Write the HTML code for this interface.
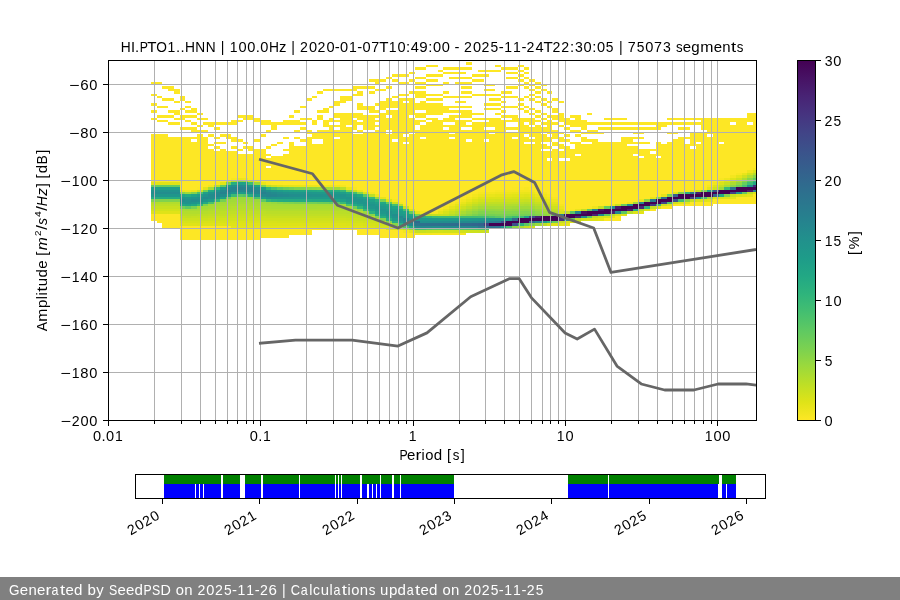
<!DOCTYPE html>
<html><head><meta charset="utf-8"><style>
html,body{margin:0;padding:0;background:#fff;}
svg{display:block;will-change:transform;}
text{font-family:"Liberation Sans",sans-serif;fill:#000;}
</style></head><body>
<svg width="900" height="600" viewBox="0 0 900 600">
<defs>
<clipPath id="axc"><rect x="108" y="60" width="648" height="360"/></clipPath>
<linearGradient id="cbg" x1="0" y1="1" x2="0" y2="0">
<stop offset="0.000" stop-color="#fde725"/>
<stop offset="0.050" stop-color="#dfe318"/>
<stop offset="0.100" stop-color="#bddf26"/>
<stop offset="0.150" stop-color="#9bd93c"/>
<stop offset="0.200" stop-color="#7ad151"/>
<stop offset="0.250" stop-color="#5ec962"/>
<stop offset="0.300" stop-color="#44bf70"/>
<stop offset="0.350" stop-color="#2fb47c"/>
<stop offset="0.400" stop-color="#22a884"/>
<stop offset="0.450" stop-color="#1e9c89"/>
<stop offset="0.500" stop-color="#21918c"/>
<stop offset="0.550" stop-color="#25848e"/>
<stop offset="0.600" stop-color="#2a788e"/>
<stop offset="0.650" stop-color="#2f6c8e"/>
<stop offset="0.700" stop-color="#355f8d"/>
<stop offset="0.750" stop-color="#3b528b"/>
<stop offset="0.800" stop-color="#414487"/>
<stop offset="0.850" stop-color="#463480"/>
<stop offset="0.900" stop-color="#482475"/>
<stop offset="0.950" stop-color="#471365"/>
<stop offset="1.000" stop-color="#440154"/>
</linearGradient>
</defs>
<rect width="900" height="600" fill="#fff"/>
<g clip-path="url(#axc)" shape-rendering="crispEdges">
<rect x="151.00" y="81.60" width="5.73" height="2.40" fill="#fde725"/>
<rect x="151.00" y="93.60" width="5.73" height="2.40" fill="#fde725"/>
<rect x="151.00" y="103.20" width="5.73" height="2.40" fill="#fde725"/>
<rect x="151.00" y="110.40" width="5.73" height="2.40" fill="#fde725"/>
<rect x="151.00" y="117.60" width="5.73" height="2.40" fill="#fde725"/>
<rect x="151.00" y="134.40" width="5.73" height="45.60" fill="#fde725"/>
<rect x="151.00" y="180.00" width="5.73" height="2.40" fill="#fbe723"/>
<rect x="151.00" y="182.40" width="5.73" height="2.40" fill="#dfe318"/>
<rect x="151.00" y="184.80" width="5.73" height="2.40" fill="#67cc5c"/>
<rect x="151.00" y="187.20" width="5.73" height="2.40" fill="#1fa088"/>
<rect x="151.00" y="189.60" width="5.73" height="2.40" fill="#20938c"/>
<rect x="151.00" y="192.00" width="5.73" height="2.40" fill="#228d8d"/>
<rect x="151.00" y="194.40" width="5.73" height="2.40" fill="#1f968b"/>
<rect x="151.00" y="196.80" width="5.73" height="2.40" fill="#25ab82"/>
<rect x="151.00" y="199.20" width="5.73" height="2.40" fill="#81d34d"/>
<rect x="151.00" y="201.60" width="5.73" height="2.40" fill="#b2dd2d"/>
<rect x="151.00" y="204.00" width="5.73" height="2.40" fill="#bddf26"/>
<rect x="151.00" y="206.40" width="5.73" height="2.40" fill="#c8e020"/>
<rect x="151.00" y="208.80" width="5.73" height="2.40" fill="#d2e21b"/>
<rect x="151.00" y="211.20" width="5.73" height="2.40" fill="#dfe318"/>
<rect x="151.00" y="213.60" width="5.73" height="7.20" fill="#fde725"/>
<rect x="156.73" y="81.60" width="5.73" height="2.40" fill="#fde725"/>
<rect x="156.73" y="96.00" width="5.73" height="2.40" fill="#fde725"/>
<rect x="156.73" y="105.60" width="5.73" height="2.40" fill="#fde725"/>
<rect x="156.73" y="115.20" width="5.73" height="2.40" fill="#fde725"/>
<rect x="156.73" y="120.00" width="5.73" height="2.40" fill="#fde725"/>
<rect x="156.73" y="134.40" width="5.73" height="45.60" fill="#fde725"/>
<rect x="156.73" y="180.00" width="5.73" height="2.40" fill="#fbe723"/>
<rect x="156.73" y="182.40" width="5.73" height="2.40" fill="#dfe318"/>
<rect x="156.73" y="184.80" width="5.73" height="2.40" fill="#67cc5c"/>
<rect x="156.73" y="187.20" width="5.73" height="2.40" fill="#1fa088"/>
<rect x="156.73" y="189.60" width="5.73" height="2.40" fill="#20938c"/>
<rect x="156.73" y="192.00" width="5.73" height="2.40" fill="#228d8d"/>
<rect x="156.73" y="194.40" width="5.73" height="2.40" fill="#1f968b"/>
<rect x="156.73" y="196.80" width="5.73" height="2.40" fill="#25ab82"/>
<rect x="156.73" y="199.20" width="5.73" height="2.40" fill="#81d34d"/>
<rect x="156.73" y="201.60" width="5.73" height="2.40" fill="#b2dd2d"/>
<rect x="156.73" y="204.00" width="5.73" height="2.40" fill="#bddf26"/>
<rect x="156.73" y="206.40" width="5.73" height="2.40" fill="#c8e020"/>
<rect x="156.73" y="208.80" width="5.73" height="2.40" fill="#d2e21b"/>
<rect x="156.73" y="211.20" width="5.73" height="2.40" fill="#dfe318"/>
<rect x="156.73" y="213.60" width="5.73" height="9.60" fill="#fde725"/>
<rect x="162.47" y="86.40" width="5.73" height="2.40" fill="#fde725"/>
<rect x="162.47" y="98.40" width="5.73" height="2.40" fill="#fde725"/>
<rect x="162.47" y="105.60" width="5.73" height="2.40" fill="#fde725"/>
<rect x="162.47" y="115.20" width="5.73" height="2.40" fill="#fde725"/>
<rect x="162.47" y="120.00" width="5.73" height="2.40" fill="#fde725"/>
<rect x="162.47" y="134.40" width="5.73" height="45.60" fill="#fde725"/>
<rect x="162.47" y="180.00" width="5.73" height="2.40" fill="#fbe723"/>
<rect x="162.47" y="182.40" width="5.73" height="2.40" fill="#dfe318"/>
<rect x="162.47" y="184.80" width="5.73" height="2.40" fill="#67cc5c"/>
<rect x="162.47" y="187.20" width="5.73" height="2.40" fill="#1fa088"/>
<rect x="162.47" y="189.60" width="5.73" height="2.40" fill="#20938c"/>
<rect x="162.47" y="192.00" width="5.73" height="2.40" fill="#228d8d"/>
<rect x="162.47" y="194.40" width="5.73" height="2.40" fill="#1f968b"/>
<rect x="162.47" y="196.80" width="5.73" height="2.40" fill="#25ab82"/>
<rect x="162.47" y="199.20" width="5.73" height="2.40" fill="#81d34d"/>
<rect x="162.47" y="201.60" width="5.73" height="2.40" fill="#b2dd2d"/>
<rect x="162.47" y="204.00" width="5.73" height="2.40" fill="#bddf26"/>
<rect x="162.47" y="206.40" width="5.73" height="2.40" fill="#c8e020"/>
<rect x="162.47" y="208.80" width="5.73" height="2.40" fill="#d2e21b"/>
<rect x="162.47" y="211.20" width="5.73" height="2.40" fill="#dfe318"/>
<rect x="162.47" y="213.60" width="5.73" height="14.40" fill="#fde725"/>
<rect x="168.20" y="86.40" width="5.73" height="4.80" fill="#fde725"/>
<rect x="168.20" y="98.40" width="5.73" height="2.40" fill="#fde725"/>
<rect x="168.20" y="110.40" width="5.73" height="2.40" fill="#fde725"/>
<rect x="168.20" y="115.20" width="5.73" height="2.40" fill="#fde725"/>
<rect x="168.20" y="122.40" width="5.73" height="2.40" fill="#fde725"/>
<rect x="168.20" y="136.80" width="5.73" height="43.20" fill="#fde725"/>
<rect x="168.20" y="180.00" width="5.73" height="2.40" fill="#fbe723"/>
<rect x="168.20" y="182.40" width="5.73" height="2.40" fill="#dfe318"/>
<rect x="168.20" y="184.80" width="5.73" height="2.40" fill="#67cc5c"/>
<rect x="168.20" y="187.20" width="5.73" height="2.40" fill="#1fa088"/>
<rect x="168.20" y="189.60" width="5.73" height="2.40" fill="#20938c"/>
<rect x="168.20" y="192.00" width="5.73" height="2.40" fill="#228d8d"/>
<rect x="168.20" y="194.40" width="5.73" height="2.40" fill="#1f968b"/>
<rect x="168.20" y="196.80" width="5.73" height="2.40" fill="#25ab82"/>
<rect x="168.20" y="199.20" width="5.73" height="2.40" fill="#81d34d"/>
<rect x="168.20" y="201.60" width="5.73" height="2.40" fill="#b2dd2d"/>
<rect x="168.20" y="204.00" width="5.73" height="2.40" fill="#bddf26"/>
<rect x="168.20" y="206.40" width="5.73" height="2.40" fill="#c8e020"/>
<rect x="168.20" y="208.80" width="5.73" height="2.40" fill="#d2e21b"/>
<rect x="168.20" y="211.20" width="5.73" height="2.40" fill="#dfe318"/>
<rect x="168.20" y="213.60" width="5.73" height="14.40" fill="#fde725"/>
<rect x="173.93" y="88.80" width="5.73" height="4.80" fill="#fde725"/>
<rect x="173.93" y="100.80" width="5.73" height="2.40" fill="#fde725"/>
<rect x="173.93" y="110.40" width="5.73" height="4.80" fill="#fde725"/>
<rect x="173.93" y="117.60" width="5.73" height="2.40" fill="#fde725"/>
<rect x="173.93" y="122.40" width="5.73" height="2.40" fill="#fde725"/>
<rect x="173.93" y="136.80" width="5.73" height="43.20" fill="#fde725"/>
<rect x="173.93" y="180.00" width="5.73" height="2.40" fill="#fbe723"/>
<rect x="173.93" y="182.40" width="5.73" height="2.40" fill="#dfe318"/>
<rect x="173.93" y="184.80" width="5.73" height="2.40" fill="#67cc5c"/>
<rect x="173.93" y="187.20" width="5.73" height="2.40" fill="#1fa088"/>
<rect x="173.93" y="189.60" width="5.73" height="2.40" fill="#20938c"/>
<rect x="173.93" y="192.00" width="5.73" height="2.40" fill="#228d8d"/>
<rect x="173.93" y="194.40" width="5.73" height="2.40" fill="#1f968b"/>
<rect x="173.93" y="196.80" width="5.73" height="2.40" fill="#25ab82"/>
<rect x="173.93" y="199.20" width="5.73" height="2.40" fill="#81d34d"/>
<rect x="173.93" y="201.60" width="5.73" height="2.40" fill="#b2dd2d"/>
<rect x="173.93" y="204.00" width="5.73" height="2.40" fill="#bddf26"/>
<rect x="173.93" y="206.40" width="5.73" height="2.40" fill="#c8e020"/>
<rect x="173.93" y="208.80" width="5.73" height="2.40" fill="#d2e21b"/>
<rect x="173.93" y="211.20" width="5.73" height="2.40" fill="#dfe318"/>
<rect x="173.93" y="213.60" width="5.73" height="14.40" fill="#fde725"/>
<rect x="179.67" y="96.00" width="5.73" height="4.80" fill="#fde725"/>
<rect x="179.67" y="108.00" width="5.73" height="2.40" fill="#fde725"/>
<rect x="179.67" y="115.20" width="5.73" height="4.80" fill="#fde725"/>
<rect x="179.67" y="127.20" width="5.73" height="2.40" fill="#fde725"/>
<rect x="179.67" y="136.80" width="5.73" height="52.80" fill="#fde725"/>
<rect x="179.67" y="189.60" width="5.73" height="2.40" fill="#ece51b"/>
<rect x="179.67" y="192.00" width="5.73" height="2.40" fill="#89d548"/>
<rect x="179.67" y="194.40" width="5.73" height="2.40" fill="#21a685"/>
<rect x="179.67" y="196.80" width="5.73" height="2.40" fill="#1f958b"/>
<rect x="179.67" y="199.20" width="5.73" height="2.40" fill="#228c8d"/>
<rect x="179.67" y="201.60" width="5.73" height="2.40" fill="#1f948c"/>
<rect x="179.67" y="204.00" width="5.73" height="2.40" fill="#21a685"/>
<rect x="179.67" y="206.40" width="5.73" height="2.40" fill="#70cf57"/>
<rect x="179.67" y="208.80" width="5.73" height="2.40" fill="#aadc32"/>
<rect x="179.67" y="211.20" width="5.73" height="2.40" fill="#b2dd2d"/>
<rect x="179.67" y="213.60" width="5.73" height="2.40" fill="#bade28"/>
<rect x="179.67" y="216.00" width="5.73" height="2.40" fill="#c5e021"/>
<rect x="179.67" y="218.40" width="5.73" height="2.40" fill="#cde11d"/>
<rect x="179.67" y="220.80" width="5.73" height="2.40" fill="#d8e219"/>
<rect x="179.67" y="223.20" width="5.73" height="2.40" fill="#dfe318"/>
<rect x="179.67" y="225.60" width="5.73" height="14.40" fill="#fde725"/>
<rect x="185.40" y="100.80" width="5.73" height="2.40" fill="#fde725"/>
<rect x="185.40" y="105.60" width="5.73" height="2.40" fill="#fde725"/>
<rect x="185.40" y="110.40" width="5.73" height="2.40" fill="#fde725"/>
<rect x="185.40" y="115.20" width="5.73" height="2.40" fill="#fde725"/>
<rect x="185.40" y="120.00" width="5.73" height="2.40" fill="#fde725"/>
<rect x="185.40" y="127.20" width="5.73" height="2.40" fill="#fde725"/>
<rect x="185.40" y="136.80" width="5.73" height="52.80" fill="#fde725"/>
<rect x="185.40" y="189.60" width="5.73" height="2.40" fill="#f1e51d"/>
<rect x="185.40" y="192.00" width="5.73" height="2.40" fill="#a0da39"/>
<rect x="185.40" y="194.40" width="5.73" height="2.40" fill="#25ac82"/>
<rect x="185.40" y="196.80" width="5.73" height="2.40" fill="#1f978b"/>
<rect x="185.40" y="199.20" width="5.73" height="2.40" fill="#21918c"/>
<rect x="185.40" y="201.60" width="5.73" height="2.40" fill="#20928c"/>
<rect x="185.40" y="204.00" width="5.73" height="2.40" fill="#1fa187"/>
<rect x="185.40" y="206.40" width="5.73" height="2.40" fill="#5ec962"/>
<rect x="185.40" y="208.80" width="5.73" height="2.40" fill="#a8db34"/>
<rect x="185.40" y="211.20" width="5.73" height="2.40" fill="#b2dd2d"/>
<rect x="185.40" y="213.60" width="5.73" height="2.40" fill="#bade28"/>
<rect x="185.40" y="216.00" width="5.73" height="2.40" fill="#c2df23"/>
<rect x="185.40" y="218.40" width="5.73" height="2.40" fill="#cde11d"/>
<rect x="185.40" y="220.80" width="5.73" height="2.40" fill="#d5e21a"/>
<rect x="185.40" y="223.20" width="5.73" height="2.40" fill="#dfe318"/>
<rect x="185.40" y="225.60" width="5.73" height="14.40" fill="#fde725"/>
<rect x="191.13" y="108.00" width="5.73" height="4.80" fill="#fde725"/>
<rect x="191.13" y="115.20" width="5.73" height="2.40" fill="#fde725"/>
<rect x="191.13" y="122.40" width="5.73" height="2.40" fill="#fde725"/>
<rect x="191.13" y="127.20" width="5.73" height="4.80" fill="#fde725"/>
<rect x="191.13" y="136.80" width="5.73" height="2.40" fill="#fde725"/>
<rect x="191.13" y="141.60" width="5.73" height="48.00" fill="#fde725"/>
<rect x="191.13" y="189.60" width="5.73" height="2.40" fill="#eae51a"/>
<rect x="191.13" y="192.00" width="5.73" height="2.40" fill="#81d34d"/>
<rect x="191.13" y="194.40" width="5.73" height="2.40" fill="#20a486"/>
<rect x="191.13" y="196.80" width="5.73" height="2.40" fill="#1f948c"/>
<rect x="191.13" y="199.20" width="5.73" height="2.40" fill="#228c8d"/>
<rect x="191.13" y="201.60" width="5.73" height="2.40" fill="#1f958b"/>
<rect x="191.13" y="204.00" width="5.73" height="2.40" fill="#22a884"/>
<rect x="191.13" y="206.40" width="5.73" height="2.40" fill="#77d153"/>
<rect x="191.13" y="208.80" width="5.73" height="2.40" fill="#a8db34"/>
<rect x="191.13" y="211.20" width="5.73" height="2.40" fill="#b2dd2d"/>
<rect x="191.13" y="213.60" width="5.73" height="2.40" fill="#bade28"/>
<rect x="191.13" y="216.00" width="5.73" height="2.40" fill="#c5e021"/>
<rect x="191.13" y="218.40" width="5.73" height="2.40" fill="#cde11d"/>
<rect x="191.13" y="220.80" width="5.73" height="2.40" fill="#d5e21a"/>
<rect x="191.13" y="223.20" width="5.73" height="2.40" fill="#dfe318"/>
<rect x="191.13" y="225.60" width="5.73" height="14.40" fill="#fde725"/>
<rect x="196.87" y="112.80" width="5.73" height="2.40" fill="#fde725"/>
<rect x="196.87" y="117.60" width="5.73" height="2.40" fill="#fde725"/>
<rect x="196.87" y="124.80" width="5.73" height="2.40" fill="#fde725"/>
<rect x="196.87" y="129.60" width="5.73" height="2.40" fill="#fde725"/>
<rect x="196.87" y="134.40" width="5.73" height="52.80" fill="#fde725"/>
<rect x="196.87" y="187.20" width="5.73" height="2.40" fill="#fbe723"/>
<rect x="196.87" y="189.60" width="5.73" height="2.40" fill="#cde11d"/>
<rect x="196.87" y="192.00" width="5.73" height="2.40" fill="#48c16e"/>
<rect x="196.87" y="194.40" width="5.73" height="2.40" fill="#1f9e89"/>
<rect x="196.87" y="196.80" width="5.73" height="2.40" fill="#20928c"/>
<rect x="196.87" y="199.20" width="5.73" height="2.40" fill="#218e8d"/>
<rect x="196.87" y="201.60" width="5.73" height="2.40" fill="#1e9b8a"/>
<rect x="196.87" y="204.00" width="5.73" height="2.40" fill="#37b878"/>
<rect x="196.87" y="206.40" width="5.73" height="2.40" fill="#a2da37"/>
<rect x="196.87" y="208.80" width="5.73" height="2.40" fill="#aadc32"/>
<rect x="196.87" y="211.20" width="5.73" height="2.40" fill="#b2dd2d"/>
<rect x="196.87" y="213.60" width="5.73" height="2.40" fill="#bddf26"/>
<rect x="196.87" y="216.00" width="5.73" height="2.40" fill="#c5e021"/>
<rect x="196.87" y="218.40" width="5.73" height="2.40" fill="#cde11d"/>
<rect x="196.87" y="220.80" width="5.73" height="2.40" fill="#d5e21a"/>
<rect x="196.87" y="223.20" width="5.73" height="2.40" fill="#dde318"/>
<rect x="196.87" y="225.60" width="5.73" height="14.40" fill="#fde725"/>
<rect x="202.60" y="117.60" width="5.73" height="2.40" fill="#fde725"/>
<rect x="202.60" y="122.40" width="5.73" height="2.40" fill="#fde725"/>
<rect x="202.60" y="129.60" width="5.73" height="2.40" fill="#fde725"/>
<rect x="202.60" y="136.80" width="5.73" height="50.40" fill="#fde725"/>
<rect x="202.60" y="187.20" width="5.73" height="2.40" fill="#e2e418"/>
<rect x="202.60" y="189.60" width="5.73" height="2.40" fill="#6ece58"/>
<rect x="202.60" y="192.00" width="5.73" height="2.40" fill="#1fa088"/>
<rect x="202.60" y="194.40" width="5.73" height="2.40" fill="#20928c"/>
<rect x="202.60" y="196.80" width="5.73" height="2.40" fill="#228b8d"/>
<rect x="202.60" y="199.20" width="5.73" height="2.40" fill="#1f958b"/>
<rect x="202.60" y="201.60" width="5.73" height="2.40" fill="#24aa83"/>
<rect x="202.60" y="204.00" width="5.73" height="2.40" fill="#7fd34e"/>
<rect x="202.60" y="206.40" width="5.73" height="2.40" fill="#a5db36"/>
<rect x="202.60" y="208.80" width="5.73" height="2.40" fill="#addc30"/>
<rect x="202.60" y="211.20" width="5.73" height="2.40" fill="#b5de2b"/>
<rect x="202.60" y="213.60" width="5.73" height="2.40" fill="#bddf26"/>
<rect x="202.60" y="216.00" width="5.73" height="2.40" fill="#c5e021"/>
<rect x="202.60" y="218.40" width="5.73" height="2.40" fill="#cde11d"/>
<rect x="202.60" y="220.80" width="5.73" height="2.40" fill="#d8e219"/>
<rect x="202.60" y="223.20" width="5.73" height="2.40" fill="#dfe318"/>
<rect x="202.60" y="225.60" width="5.73" height="14.40" fill="#fde725"/>
<rect x="208.34" y="122.40" width="5.73" height="4.80" fill="#fde725"/>
<rect x="208.34" y="134.40" width="5.73" height="2.40" fill="#fde725"/>
<rect x="208.34" y="144.00" width="5.73" height="2.40" fill="#fde725"/>
<rect x="208.34" y="148.80" width="5.73" height="36.00" fill="#fde725"/>
<rect x="208.34" y="184.80" width="5.73" height="2.40" fill="#f4e61e"/>
<rect x="208.34" y="187.20" width="5.73" height="2.40" fill="#a5db36"/>
<rect x="208.34" y="189.60" width="5.73" height="2.40" fill="#25ac82"/>
<rect x="208.34" y="192.00" width="5.73" height="2.40" fill="#1f948c"/>
<rect x="208.34" y="194.40" width="5.73" height="2.40" fill="#228c8d"/>
<rect x="208.34" y="196.80" width="5.73" height="2.40" fill="#228d8d"/>
<rect x="208.34" y="199.20" width="5.73" height="2.40" fill="#1e9b8a"/>
<rect x="208.34" y="201.60" width="5.73" height="2.40" fill="#4ac16d"/>
<rect x="208.34" y="204.00" width="5.73" height="2.40" fill="#a2da37"/>
<rect x="208.34" y="206.40" width="5.73" height="2.40" fill="#a8db34"/>
<rect x="208.34" y="208.80" width="5.73" height="2.40" fill="#b0dd2f"/>
<rect x="208.34" y="211.20" width="5.73" height="2.40" fill="#b8de29"/>
<rect x="208.34" y="213.60" width="5.73" height="2.40" fill="#c0df25"/>
<rect x="208.34" y="216.00" width="5.73" height="2.40" fill="#c8e020"/>
<rect x="208.34" y="218.40" width="5.73" height="2.40" fill="#d0e11c"/>
<rect x="208.34" y="220.80" width="5.73" height="2.40" fill="#d8e219"/>
<rect x="208.34" y="223.20" width="5.73" height="2.40" fill="#dfe318"/>
<rect x="208.34" y="225.60" width="5.73" height="14.40" fill="#fde725"/>
<rect x="214.07" y="122.40" width="5.73" height="2.40" fill="#fde725"/>
<rect x="214.07" y="127.20" width="5.73" height="2.40" fill="#fde725"/>
<rect x="214.07" y="136.80" width="5.73" height="2.40" fill="#fde725"/>
<rect x="214.07" y="141.60" width="5.73" height="2.40" fill="#fde725"/>
<rect x="214.07" y="146.40" width="5.73" height="2.40" fill="#fde725"/>
<rect x="214.07" y="151.20" width="5.73" height="31.20" fill="#fde725"/>
<rect x="214.07" y="182.40" width="5.73" height="2.40" fill="#f8e621"/>
<rect x="214.07" y="184.80" width="5.73" height="2.40" fill="#bade28"/>
<rect x="214.07" y="187.20" width="5.73" height="2.40" fill="#31b57b"/>
<rect x="214.07" y="189.60" width="5.73" height="2.40" fill="#1f948c"/>
<rect x="214.07" y="192.00" width="5.73" height="2.40" fill="#23898e"/>
<rect x="214.07" y="194.40" width="5.73" height="2.40" fill="#24878e"/>
<rect x="214.07" y="196.80" width="5.73" height="2.40" fill="#1f948c"/>
<rect x="214.07" y="199.20" width="5.73" height="2.40" fill="#34b679"/>
<rect x="214.07" y="201.60" width="5.73" height="2.40" fill="#9dd93b"/>
<rect x="214.07" y="204.00" width="5.73" height="2.40" fill="#a5db36"/>
<rect x="214.07" y="206.40" width="5.73" height="2.40" fill="#addc30"/>
<rect x="214.07" y="208.80" width="5.73" height="2.40" fill="#b5de2b"/>
<rect x="214.07" y="211.20" width="5.73" height="2.40" fill="#bade28"/>
<rect x="214.07" y="213.60" width="5.73" height="2.40" fill="#c2df23"/>
<rect x="214.07" y="216.00" width="5.73" height="2.40" fill="#cae11f"/>
<rect x="214.07" y="218.40" width="5.73" height="2.40" fill="#d0e11c"/>
<rect x="214.07" y="220.80" width="5.73" height="2.40" fill="#d8e219"/>
<rect x="214.07" y="223.20" width="5.73" height="2.40" fill="#dfe318"/>
<rect x="214.07" y="225.60" width="5.73" height="14.40" fill="#fde725"/>
<rect x="219.80" y="122.40" width="5.73" height="2.40" fill="#fde725"/>
<rect x="219.80" y="134.40" width="5.73" height="2.40" fill="#fde725"/>
<rect x="219.80" y="141.60" width="5.73" height="2.40" fill="#fde725"/>
<rect x="219.80" y="148.80" width="5.73" height="33.60" fill="#fde725"/>
<rect x="219.80" y="182.40" width="5.73" height="2.40" fill="#e2e418"/>
<rect x="219.80" y="184.80" width="5.73" height="2.40" fill="#67cc5c"/>
<rect x="219.80" y="187.20" width="5.73" height="2.40" fill="#1f988b"/>
<rect x="219.80" y="189.60" width="5.73" height="2.40" fill="#23898e"/>
<rect x="219.80" y="192.00" width="5.73" height="2.40" fill="#26828e"/>
<rect x="219.80" y="194.40" width="5.73" height="2.40" fill="#228c8d"/>
<rect x="219.80" y="196.80" width="5.73" height="2.40" fill="#1fa287"/>
<rect x="219.80" y="199.20" width="5.73" height="2.40" fill="#75d054"/>
<rect x="219.80" y="201.60" width="5.73" height="2.40" fill="#a2da37"/>
<rect x="219.80" y="204.00" width="5.73" height="2.40" fill="#a8db34"/>
<rect x="219.80" y="206.40" width="5.73" height="2.40" fill="#b0dd2f"/>
<rect x="219.80" y="208.80" width="5.73" height="2.40" fill="#b5de2b"/>
<rect x="219.80" y="211.20" width="5.73" height="2.40" fill="#bddf26"/>
<rect x="219.80" y="213.60" width="5.73" height="2.40" fill="#c2df23"/>
<rect x="219.80" y="216.00" width="5.73" height="2.40" fill="#cae11f"/>
<rect x="219.80" y="218.40" width="5.73" height="2.40" fill="#d2e21b"/>
<rect x="219.80" y="220.80" width="5.73" height="2.40" fill="#d8e219"/>
<rect x="219.80" y="223.20" width="5.73" height="2.40" fill="#dfe318"/>
<rect x="219.80" y="225.60" width="5.73" height="14.40" fill="#fde725"/>
<rect x="225.54" y="122.40" width="5.73" height="2.40" fill="#fde725"/>
<rect x="225.54" y="134.40" width="5.73" height="4.80" fill="#fde725"/>
<rect x="225.54" y="151.20" width="5.73" height="28.80" fill="#fde725"/>
<rect x="225.54" y="180.00" width="5.73" height="2.40" fill="#e7e419"/>
<rect x="225.54" y="182.40" width="5.73" height="2.40" fill="#73d056"/>
<rect x="225.54" y="184.80" width="5.73" height="2.40" fill="#1f9a8a"/>
<rect x="225.54" y="187.20" width="5.73" height="2.40" fill="#23898e"/>
<rect x="225.54" y="189.60" width="5.73" height="2.40" fill="#26818e"/>
<rect x="225.54" y="192.00" width="5.73" height="2.40" fill="#238a8d"/>
<rect x="225.54" y="194.40" width="5.73" height="2.40" fill="#1f9f88"/>
<rect x="225.54" y="196.80" width="5.73" height="2.40" fill="#6ccd5a"/>
<rect x="225.54" y="199.20" width="5.73" height="2.40" fill="#a0da39"/>
<rect x="225.54" y="201.60" width="5.73" height="2.40" fill="#a5db36"/>
<rect x="225.54" y="204.00" width="5.73" height="2.40" fill="#addc30"/>
<rect x="225.54" y="206.40" width="5.73" height="2.40" fill="#b2dd2d"/>
<rect x="225.54" y="208.80" width="5.73" height="2.40" fill="#b8de29"/>
<rect x="225.54" y="211.20" width="5.73" height="2.40" fill="#c0df25"/>
<rect x="225.54" y="213.60" width="5.73" height="2.40" fill="#c5e021"/>
<rect x="225.54" y="216.00" width="5.73" height="2.40" fill="#cde11d"/>
<rect x="225.54" y="218.40" width="5.73" height="2.40" fill="#d2e21b"/>
<rect x="225.54" y="220.80" width="5.73" height="2.40" fill="#d8e219"/>
<rect x="225.54" y="223.20" width="5.73" height="2.40" fill="#dfe318"/>
<rect x="225.54" y="225.60" width="5.73" height="14.40" fill="#fde725"/>
<rect x="231.27" y="120.00" width="5.73" height="4.80" fill="#fde725"/>
<rect x="231.27" y="136.80" width="5.73" height="4.80" fill="#fde725"/>
<rect x="231.27" y="146.40" width="5.73" height="2.40" fill="#fde725"/>
<rect x="231.27" y="151.20" width="5.73" height="26.40" fill="#fde725"/>
<rect x="231.27" y="177.60" width="5.73" height="2.40" fill="#f6e620"/>
<rect x="231.27" y="180.00" width="5.73" height="2.40" fill="#b2dd2d"/>
<rect x="231.27" y="182.40" width="5.73" height="2.40" fill="#28ae80"/>
<rect x="231.27" y="184.80" width="5.73" height="2.40" fill="#218f8d"/>
<rect x="231.27" y="187.20" width="5.73" height="4.80" fill="#25848e"/>
<rect x="231.27" y="192.00" width="5.73" height="2.40" fill="#20928c"/>
<rect x="231.27" y="194.40" width="5.73" height="2.40" fill="#3bbb75"/>
<rect x="231.27" y="196.80" width="5.73" height="2.40" fill="#9bd93c"/>
<rect x="231.27" y="199.20" width="5.73" height="2.40" fill="#a2da37"/>
<rect x="231.27" y="201.60" width="5.73" height="2.40" fill="#a8db34"/>
<rect x="231.27" y="204.00" width="5.73" height="2.40" fill="#addc30"/>
<rect x="231.27" y="206.40" width="5.73" height="2.40" fill="#b5de2b"/>
<rect x="231.27" y="208.80" width="5.73" height="2.40" fill="#bade28"/>
<rect x="231.27" y="211.20" width="5.73" height="2.40" fill="#c0df25"/>
<rect x="231.27" y="213.60" width="5.73" height="2.40" fill="#c8e020"/>
<rect x="231.27" y="216.00" width="5.73" height="2.40" fill="#cde11d"/>
<rect x="231.27" y="218.40" width="5.73" height="2.40" fill="#d2e21b"/>
<rect x="231.27" y="220.80" width="5.73" height="2.40" fill="#dae319"/>
<rect x="231.27" y="223.20" width="5.73" height="2.40" fill="#dfe318"/>
<rect x="231.27" y="225.60" width="5.73" height="2.40" fill="#e5e419"/>
<rect x="231.27" y="228.00" width="5.73" height="12.00" fill="#fde725"/>
<rect x="237.00" y="115.20" width="5.73" height="2.40" fill="#fde725"/>
<rect x="237.00" y="120.00" width="5.73" height="2.40" fill="#fde725"/>
<rect x="237.00" y="139.20" width="5.73" height="2.40" fill="#fde725"/>
<rect x="237.00" y="148.80" width="5.73" height="2.40" fill="#fde725"/>
<rect x="237.00" y="153.60" width="5.73" height="24.00" fill="#fde725"/>
<rect x="237.00" y="177.60" width="5.73" height="2.40" fill="#ece51b"/>
<rect x="237.00" y="180.00" width="5.73" height="2.40" fill="#89d548"/>
<rect x="237.00" y="182.40" width="5.73" height="2.40" fill="#1f9f88"/>
<rect x="237.00" y="184.80" width="5.73" height="2.40" fill="#228b8d"/>
<rect x="237.00" y="187.20" width="5.73" height="2.40" fill="#27808e"/>
<rect x="237.00" y="189.60" width="5.73" height="2.40" fill="#23888e"/>
<rect x="237.00" y="192.00" width="5.73" height="2.40" fill="#1f9a8a"/>
<rect x="237.00" y="194.40" width="5.73" height="2.40" fill="#5cc863"/>
<rect x="237.00" y="196.80" width="5.73" height="2.40" fill="#9dd93b"/>
<rect x="237.00" y="199.20" width="5.73" height="2.40" fill="#a2da37"/>
<rect x="237.00" y="201.60" width="5.73" height="2.40" fill="#a8db34"/>
<rect x="237.00" y="204.00" width="5.73" height="2.40" fill="#b0dd2f"/>
<rect x="237.00" y="206.40" width="5.73" height="2.40" fill="#b5de2b"/>
<rect x="237.00" y="208.80" width="5.73" height="2.40" fill="#bade28"/>
<rect x="237.00" y="211.20" width="5.73" height="2.40" fill="#c2df23"/>
<rect x="237.00" y="213.60" width="5.73" height="2.40" fill="#c8e020"/>
<rect x="237.00" y="216.00" width="5.73" height="2.40" fill="#cde11d"/>
<rect x="237.00" y="218.40" width="5.73" height="2.40" fill="#d2e21b"/>
<rect x="237.00" y="220.80" width="5.73" height="2.40" fill="#dae319"/>
<rect x="237.00" y="223.20" width="5.73" height="2.40" fill="#dfe318"/>
<rect x="237.00" y="225.60" width="5.73" height="2.40" fill="#e5e419"/>
<rect x="237.00" y="228.00" width="5.73" height="12.00" fill="#fde725"/>
<rect x="242.74" y="115.20" width="5.73" height="4.80" fill="#fde725"/>
<rect x="242.74" y="141.60" width="5.73" height="2.40" fill="#fde725"/>
<rect x="242.74" y="146.40" width="5.73" height="2.40" fill="#fde725"/>
<rect x="242.74" y="153.60" width="5.73" height="24.00" fill="#fde725"/>
<rect x="242.74" y="177.60" width="5.73" height="2.40" fill="#efe51c"/>
<rect x="242.74" y="180.00" width="5.73" height="2.40" fill="#93d741"/>
<rect x="242.74" y="182.40" width="5.73" height="2.40" fill="#1fa287"/>
<rect x="242.74" y="184.80" width="5.73" height="2.40" fill="#228c8d"/>
<rect x="242.74" y="187.20" width="5.73" height="2.40" fill="#25848e"/>
<rect x="242.74" y="189.60" width="5.73" height="2.40" fill="#24878e"/>
<rect x="242.74" y="192.00" width="5.73" height="2.40" fill="#1f988b"/>
<rect x="242.74" y="194.40" width="5.73" height="2.40" fill="#52c569"/>
<rect x="242.74" y="196.80" width="5.73" height="2.40" fill="#9dd93b"/>
<rect x="242.74" y="199.20" width="5.73" height="2.40" fill="#a2da37"/>
<rect x="242.74" y="201.60" width="5.73" height="2.40" fill="#a8db34"/>
<rect x="242.74" y="204.00" width="5.73" height="2.40" fill="#b0dd2f"/>
<rect x="242.74" y="206.40" width="5.73" height="2.40" fill="#b5de2b"/>
<rect x="242.74" y="208.80" width="5.73" height="2.40" fill="#bade28"/>
<rect x="242.74" y="211.20" width="5.73" height="2.40" fill="#c0df25"/>
<rect x="242.74" y="213.60" width="5.73" height="2.40" fill="#c8e020"/>
<rect x="242.74" y="216.00" width="5.73" height="2.40" fill="#cde11d"/>
<rect x="242.74" y="218.40" width="5.73" height="2.40" fill="#d2e21b"/>
<rect x="242.74" y="220.80" width="5.73" height="2.40" fill="#dae319"/>
<rect x="242.74" y="223.20" width="5.73" height="2.40" fill="#dfe318"/>
<rect x="242.74" y="225.60" width="5.73" height="2.40" fill="#e5e419"/>
<rect x="242.74" y="228.00" width="5.73" height="12.00" fill="#fde725"/>
<rect x="248.47" y="115.20" width="5.73" height="4.80" fill="#fde725"/>
<rect x="248.47" y="146.40" width="5.73" height="4.80" fill="#fde725"/>
<rect x="248.47" y="153.60" width="5.73" height="24.00" fill="#fde725"/>
<rect x="248.47" y="177.60" width="5.73" height="2.40" fill="#fbe723"/>
<rect x="248.47" y="180.00" width="5.73" height="2.40" fill="#cde11d"/>
<rect x="248.47" y="182.40" width="5.73" height="2.40" fill="#40bd72"/>
<rect x="248.47" y="184.80" width="5.73" height="2.40" fill="#20938c"/>
<rect x="248.47" y="187.20" width="5.73" height="2.40" fill="#25858e"/>
<rect x="248.47" y="189.60" width="5.73" height="2.40" fill="#26828e"/>
<rect x="248.47" y="192.00" width="5.73" height="2.40" fill="#21918c"/>
<rect x="248.47" y="194.40" width="5.73" height="2.40" fill="#28ae80"/>
<rect x="248.47" y="196.80" width="5.73" height="2.40" fill="#95d840"/>
<rect x="248.47" y="199.20" width="5.73" height="2.40" fill="#a0da39"/>
<rect x="248.47" y="201.60" width="5.73" height="2.40" fill="#a8db34"/>
<rect x="248.47" y="204.00" width="5.73" height="2.40" fill="#addc30"/>
<rect x="248.47" y="206.40" width="5.73" height="2.40" fill="#b2dd2d"/>
<rect x="248.47" y="208.80" width="5.73" height="2.40" fill="#bade28"/>
<rect x="248.47" y="211.20" width="5.73" height="2.40" fill="#c0df25"/>
<rect x="248.47" y="213.60" width="5.73" height="2.40" fill="#c5e021"/>
<rect x="248.47" y="216.00" width="5.73" height="2.40" fill="#cde11d"/>
<rect x="248.47" y="218.40" width="5.73" height="2.40" fill="#d2e21b"/>
<rect x="248.47" y="220.80" width="5.73" height="2.40" fill="#d8e219"/>
<rect x="248.47" y="223.20" width="5.73" height="2.40" fill="#dfe318"/>
<rect x="248.47" y="225.60" width="5.73" height="2.40" fill="#e5e419"/>
<rect x="248.47" y="228.00" width="5.73" height="12.00" fill="#fde725"/>
<rect x="254.20" y="117.60" width="5.73" height="4.80" fill="#fde725"/>
<rect x="254.20" y="139.20" width="5.73" height="2.40" fill="#fde725"/>
<rect x="254.20" y="148.80" width="5.73" height="31.20" fill="#fde725"/>
<rect x="254.20" y="180.00" width="5.73" height="2.40" fill="#f1e51d"/>
<rect x="254.20" y="182.40" width="5.73" height="2.40" fill="#9dd93b"/>
<rect x="254.20" y="184.80" width="5.73" height="2.40" fill="#21a585"/>
<rect x="254.20" y="187.20" width="5.73" height="2.40" fill="#228d8d"/>
<rect x="254.20" y="189.60" width="5.73" height="2.40" fill="#25848e"/>
<rect x="254.20" y="192.00" width="5.73" height="2.40" fill="#24868e"/>
<rect x="254.20" y="194.40" width="5.73" height="2.40" fill="#1f968b"/>
<rect x="254.20" y="196.80" width="5.73" height="2.40" fill="#4cc26c"/>
<rect x="254.20" y="199.20" width="5.73" height="2.40" fill="#9dd93b"/>
<rect x="254.20" y="201.60" width="5.73" height="2.40" fill="#a5db36"/>
<rect x="254.20" y="204.00" width="5.73" height="2.40" fill="#aadc32"/>
<rect x="254.20" y="206.40" width="5.73" height="2.40" fill="#b0dd2f"/>
<rect x="254.20" y="208.80" width="5.73" height="2.40" fill="#b8de29"/>
<rect x="254.20" y="211.20" width="5.73" height="2.40" fill="#bddf26"/>
<rect x="254.20" y="213.60" width="5.73" height="2.40" fill="#c5e021"/>
<rect x="254.20" y="216.00" width="5.73" height="2.40" fill="#cae11f"/>
<rect x="254.20" y="218.40" width="5.73" height="2.40" fill="#d2e21b"/>
<rect x="254.20" y="220.80" width="5.73" height="2.40" fill="#d8e219"/>
<rect x="254.20" y="223.20" width="5.73" height="2.40" fill="#dfe318"/>
<rect x="254.20" y="225.60" width="5.73" height="2.40" fill="#e5e419"/>
<rect x="254.20" y="228.00" width="5.73" height="12.00" fill="#fde725"/>
<rect x="259.94" y="120.00" width="5.73" height="4.80" fill="#fde725"/>
<rect x="259.94" y="134.40" width="5.73" height="2.40" fill="#fde725"/>
<rect x="259.94" y="148.80" width="5.73" height="33.60" fill="#fde725"/>
<rect x="259.94" y="182.40" width="5.73" height="2.40" fill="#eae51a"/>
<rect x="259.94" y="184.80" width="5.73" height="2.40" fill="#7fd34e"/>
<rect x="259.94" y="187.20" width="5.73" height="2.40" fill="#1e9d89"/>
<rect x="259.94" y="189.60" width="5.73" height="2.40" fill="#238a8d"/>
<rect x="259.94" y="192.00" width="5.73" height="2.40" fill="#26818e"/>
<rect x="259.94" y="194.40" width="5.73" height="2.40" fill="#23898e"/>
<rect x="259.94" y="196.80" width="5.73" height="2.40" fill="#1e9d89"/>
<rect x="259.94" y="199.20" width="5.73" height="2.40" fill="#63cb5f"/>
<rect x="259.94" y="201.60" width="5.73" height="2.40" fill="#a0da39"/>
<rect x="259.94" y="204.00" width="5.73" height="2.40" fill="#a8db34"/>
<rect x="259.94" y="206.40" width="5.73" height="2.40" fill="#addc30"/>
<rect x="259.94" y="208.80" width="5.73" height="2.40" fill="#b5de2b"/>
<rect x="259.94" y="211.20" width="5.73" height="2.40" fill="#bddf26"/>
<rect x="259.94" y="213.60" width="5.73" height="2.40" fill="#c2df23"/>
<rect x="259.94" y="216.00" width="5.73" height="2.40" fill="#cae11f"/>
<rect x="259.94" y="218.40" width="5.73" height="2.40" fill="#d0e11c"/>
<rect x="259.94" y="220.80" width="5.73" height="2.40" fill="#d8e219"/>
<rect x="259.94" y="223.20" width="5.73" height="2.40" fill="#dde318"/>
<rect x="259.94" y="225.60" width="5.73" height="2.40" fill="#e5e419"/>
<rect x="259.94" y="228.00" width="5.73" height="9.60" fill="#fde725"/>
<rect x="265.67" y="120.00" width="5.73" height="4.80" fill="#fde725"/>
<rect x="265.67" y="129.60" width="5.73" height="2.40" fill="#fde725"/>
<rect x="265.67" y="146.40" width="5.73" height="2.40" fill="#fde725"/>
<rect x="265.67" y="153.60" width="5.73" height="2.40" fill="#fde725"/>
<rect x="265.67" y="158.40" width="5.73" height="7.20" fill="#fde725"/>
<rect x="265.67" y="168.00" width="5.73" height="14.40" fill="#fde725"/>
<rect x="265.67" y="182.40" width="5.73" height="2.40" fill="#f8e621"/>
<rect x="265.67" y="184.80" width="5.73" height="2.40" fill="#c0df25"/>
<rect x="265.67" y="187.20" width="5.73" height="2.40" fill="#34b679"/>
<rect x="265.67" y="189.60" width="5.73" height="2.40" fill="#20928c"/>
<rect x="265.67" y="192.00" width="5.73" height="2.40" fill="#24878e"/>
<rect x="265.67" y="194.40" width="5.73" height="2.40" fill="#25858e"/>
<rect x="265.67" y="196.80" width="5.73" height="2.40" fill="#20928c"/>
<rect x="265.67" y="199.20" width="5.73" height="2.40" fill="#34b679"/>
<rect x="265.67" y="201.60" width="5.73" height="2.40" fill="#9dd93b"/>
<rect x="265.67" y="204.00" width="5.73" height="2.40" fill="#a5db36"/>
<rect x="265.67" y="206.40" width="5.73" height="2.40" fill="#addc30"/>
<rect x="265.67" y="208.80" width="5.73" height="2.40" fill="#b2dd2d"/>
<rect x="265.67" y="211.20" width="5.73" height="2.40" fill="#bade28"/>
<rect x="265.67" y="213.60" width="5.73" height="2.40" fill="#c2df23"/>
<rect x="265.67" y="216.00" width="5.73" height="2.40" fill="#c8e020"/>
<rect x="265.67" y="218.40" width="5.73" height="2.40" fill="#d0e11c"/>
<rect x="265.67" y="220.80" width="5.73" height="2.40" fill="#d8e219"/>
<rect x="265.67" y="223.20" width="5.73" height="2.40" fill="#dde318"/>
<rect x="265.67" y="225.60" width="5.73" height="2.40" fill="#e5e419"/>
<rect x="265.67" y="228.00" width="5.73" height="9.60" fill="#fde725"/>
<rect x="271.40" y="122.40" width="5.73" height="7.20" fill="#fde725"/>
<rect x="271.40" y="144.00" width="5.73" height="2.40" fill="#fde725"/>
<rect x="271.40" y="156.00" width="5.73" height="26.40" fill="#fde725"/>
<rect x="271.40" y="182.40" width="5.73" height="2.40" fill="#fbe723"/>
<rect x="271.40" y="184.80" width="5.73" height="2.40" fill="#d2e21b"/>
<rect x="271.40" y="187.20" width="5.73" height="2.40" fill="#4ac16d"/>
<rect x="271.40" y="189.60" width="5.73" height="2.40" fill="#1f988b"/>
<rect x="271.40" y="192.00" width="5.73" height="2.40" fill="#228b8d"/>
<rect x="271.40" y="194.40" width="5.73" height="2.40" fill="#24868e"/>
<rect x="271.40" y="196.80" width="5.73" height="2.40" fill="#1f948c"/>
<rect x="271.40" y="199.20" width="5.73" height="2.40" fill="#2ab07f"/>
<rect x="271.40" y="201.60" width="5.73" height="2.40" fill="#95d840"/>
<rect x="271.40" y="204.00" width="5.73" height="2.40" fill="#a5db36"/>
<rect x="271.40" y="206.40" width="5.73" height="2.40" fill="#aadc32"/>
<rect x="271.40" y="208.80" width="5.73" height="2.40" fill="#b2dd2d"/>
<rect x="271.40" y="211.20" width="5.73" height="2.40" fill="#bade28"/>
<rect x="271.40" y="213.60" width="5.73" height="2.40" fill="#c0df25"/>
<rect x="271.40" y="216.00" width="5.73" height="2.40" fill="#c8e020"/>
<rect x="271.40" y="218.40" width="5.73" height="2.40" fill="#d0e11c"/>
<rect x="271.40" y="220.80" width="5.73" height="2.40" fill="#d8e219"/>
<rect x="271.40" y="223.20" width="5.73" height="2.40" fill="#dde318"/>
<rect x="271.40" y="225.60" width="5.73" height="2.40" fill="#e5e419"/>
<rect x="271.40" y="228.00" width="5.73" height="9.60" fill="#fde725"/>
<rect x="277.14" y="122.40" width="5.73" height="2.40" fill="#fde725"/>
<rect x="277.14" y="141.60" width="5.73" height="2.40" fill="#fde725"/>
<rect x="277.14" y="156.00" width="5.73" height="26.40" fill="#fde725"/>
<rect x="277.14" y="182.40" width="5.73" height="2.40" fill="#fbe723"/>
<rect x="277.14" y="184.80" width="5.73" height="2.40" fill="#dde318"/>
<rect x="277.14" y="187.20" width="5.73" height="2.40" fill="#5ec962"/>
<rect x="277.14" y="189.60" width="5.73" height="2.40" fill="#1e9c89"/>
<rect x="277.14" y="192.00" width="5.73" height="2.40" fill="#218f8d"/>
<rect x="277.14" y="194.40" width="5.73" height="2.40" fill="#23898e"/>
<rect x="277.14" y="196.80" width="5.73" height="2.40" fill="#1f958b"/>
<rect x="277.14" y="199.20" width="5.73" height="2.40" fill="#27ad81"/>
<rect x="277.14" y="201.60" width="5.73" height="2.40" fill="#8bd646"/>
<rect x="277.14" y="204.00" width="5.73" height="2.40" fill="#a5db36"/>
<rect x="277.14" y="206.40" width="5.73" height="2.40" fill="#aadc32"/>
<rect x="277.14" y="208.80" width="5.73" height="2.40" fill="#b2dd2d"/>
<rect x="277.14" y="211.20" width="5.73" height="2.40" fill="#bade28"/>
<rect x="277.14" y="213.60" width="5.73" height="2.40" fill="#c0df25"/>
<rect x="277.14" y="216.00" width="5.73" height="2.40" fill="#c8e020"/>
<rect x="277.14" y="218.40" width="5.73" height="2.40" fill="#d0e11c"/>
<rect x="277.14" y="220.80" width="5.73" height="2.40" fill="#d5e21a"/>
<rect x="277.14" y="223.20" width="5.73" height="2.40" fill="#dde318"/>
<rect x="277.14" y="225.60" width="5.73" height="2.40" fill="#e5e419"/>
<rect x="277.14" y="228.00" width="5.73" height="9.60" fill="#fde725"/>
<rect x="282.87" y="120.00" width="5.73" height="4.80" fill="#fde725"/>
<rect x="282.87" y="136.80" width="5.73" height="2.40" fill="#fde725"/>
<rect x="282.87" y="148.80" width="5.73" height="2.40" fill="#fde725"/>
<rect x="282.87" y="153.60" width="5.73" height="31.20" fill="#fde725"/>
<rect x="282.87" y="184.80" width="5.73" height="2.40" fill="#e2e418"/>
<rect x="282.87" y="187.20" width="5.73" height="2.40" fill="#6ccd5a"/>
<rect x="282.87" y="189.60" width="5.73" height="2.40" fill="#1fa088"/>
<rect x="282.87" y="192.00" width="5.73" height="2.40" fill="#20928c"/>
<rect x="282.87" y="194.40" width="5.73" height="2.40" fill="#228b8d"/>
<rect x="282.87" y="196.80" width="5.73" height="2.40" fill="#1f968b"/>
<rect x="282.87" y="199.20" width="5.73" height="2.40" fill="#25ac82"/>
<rect x="282.87" y="201.60" width="5.73" height="2.40" fill="#84d44b"/>
<rect x="282.87" y="204.00" width="5.73" height="2.40" fill="#a5db36"/>
<rect x="282.87" y="206.40" width="5.73" height="2.40" fill="#aadc32"/>
<rect x="282.87" y="208.80" width="5.73" height="2.40" fill="#b2dd2d"/>
<rect x="282.87" y="211.20" width="5.73" height="2.40" fill="#bade28"/>
<rect x="282.87" y="213.60" width="5.73" height="2.40" fill="#c0df25"/>
<rect x="282.87" y="216.00" width="5.73" height="2.40" fill="#c8e020"/>
<rect x="282.87" y="218.40" width="5.73" height="2.40" fill="#d0e11c"/>
<rect x="282.87" y="220.80" width="5.73" height="2.40" fill="#d5e21a"/>
<rect x="282.87" y="223.20" width="5.73" height="2.40" fill="#dde318"/>
<rect x="282.87" y="225.60" width="5.73" height="2.40" fill="#e5e419"/>
<rect x="282.87" y="228.00" width="5.73" height="9.60" fill="#fde725"/>
<rect x="288.60" y="115.20" width="5.73" height="2.40" fill="#fde725"/>
<rect x="288.60" y="120.00" width="5.73" height="4.80" fill="#fde725"/>
<rect x="288.60" y="141.60" width="5.73" height="43.20" fill="#fde725"/>
<rect x="288.60" y="184.80" width="5.73" height="2.40" fill="#e5e419"/>
<rect x="288.60" y="187.20" width="5.73" height="2.40" fill="#75d054"/>
<rect x="288.60" y="189.60" width="5.73" height="2.40" fill="#1fa287"/>
<rect x="288.60" y="192.00" width="5.73" height="2.40" fill="#1f948c"/>
<rect x="288.60" y="194.40" width="5.73" height="2.40" fill="#228d8d"/>
<rect x="288.60" y="196.80" width="5.73" height="2.40" fill="#1f968b"/>
<rect x="288.60" y="199.20" width="5.73" height="2.40" fill="#25ab82"/>
<rect x="288.60" y="201.60" width="5.73" height="2.40" fill="#7fd34e"/>
<rect x="288.60" y="204.00" width="5.73" height="2.40" fill="#a5db36"/>
<rect x="288.60" y="206.40" width="5.73" height="2.40" fill="#aadc32"/>
<rect x="288.60" y="208.80" width="5.73" height="2.40" fill="#b2dd2d"/>
<rect x="288.60" y="211.20" width="5.73" height="2.40" fill="#bade28"/>
<rect x="288.60" y="213.60" width="5.73" height="2.40" fill="#c0df25"/>
<rect x="288.60" y="216.00" width="5.73" height="2.40" fill="#c8e020"/>
<rect x="288.60" y="218.40" width="5.73" height="2.40" fill="#d0e11c"/>
<rect x="288.60" y="220.80" width="5.73" height="2.40" fill="#d5e21a"/>
<rect x="288.60" y="223.20" width="5.73" height="2.40" fill="#dde318"/>
<rect x="288.60" y="225.60" width="5.73" height="2.40" fill="#e5e419"/>
<rect x="288.60" y="228.00" width="5.73" height="7.20" fill="#fde725"/>
<rect x="294.34" y="110.40" width="5.73" height="2.40" fill="#fde725"/>
<rect x="294.34" y="120.00" width="5.73" height="4.80" fill="#fde725"/>
<rect x="294.34" y="129.60" width="5.73" height="2.40" fill="#fde725"/>
<rect x="294.34" y="136.80" width="5.73" height="2.40" fill="#fde725"/>
<rect x="294.34" y="146.40" width="5.73" height="38.40" fill="#fde725"/>
<rect x="294.34" y="184.80" width="5.73" height="2.40" fill="#e7e419"/>
<rect x="294.34" y="187.20" width="5.73" height="2.40" fill="#7fd34e"/>
<rect x="294.34" y="189.60" width="5.73" height="2.40" fill="#20a486"/>
<rect x="294.34" y="192.00" width="5.73" height="2.40" fill="#1f958b"/>
<rect x="294.34" y="194.40" width="5.73" height="2.40" fill="#218e8d"/>
<rect x="294.34" y="196.80" width="5.73" height="2.40" fill="#1f978b"/>
<rect x="294.34" y="199.20" width="5.73" height="2.40" fill="#24aa83"/>
<rect x="294.34" y="201.60" width="5.73" height="2.40" fill="#7ad151"/>
<rect x="294.34" y="204.00" width="5.73" height="2.40" fill="#a5db36"/>
<rect x="294.34" y="206.40" width="5.73" height="2.40" fill="#aadc32"/>
<rect x="294.34" y="208.80" width="5.73" height="2.40" fill="#b2dd2d"/>
<rect x="294.34" y="211.20" width="5.73" height="2.40" fill="#bade28"/>
<rect x="294.34" y="213.60" width="5.73" height="2.40" fill="#c0df25"/>
<rect x="294.34" y="216.00" width="5.73" height="2.40" fill="#c8e020"/>
<rect x="294.34" y="218.40" width="5.73" height="2.40" fill="#d0e11c"/>
<rect x="294.34" y="220.80" width="5.73" height="2.40" fill="#d5e21a"/>
<rect x="294.34" y="223.20" width="5.73" height="2.40" fill="#dde318"/>
<rect x="294.34" y="225.60" width="5.73" height="2.40" fill="#e5e419"/>
<rect x="294.34" y="228.00" width="5.73" height="7.20" fill="#fde725"/>
<rect x="300.07" y="105.60" width="5.73" height="2.40" fill="#fde725"/>
<rect x="300.07" y="117.60" width="5.73" height="2.40" fill="#fde725"/>
<rect x="300.07" y="122.40" width="5.73" height="2.40" fill="#fde725"/>
<rect x="300.07" y="127.20" width="5.73" height="2.40" fill="#fde725"/>
<rect x="300.07" y="139.20" width="5.73" height="2.40" fill="#fde725"/>
<rect x="300.07" y="146.40" width="5.73" height="38.40" fill="#fde725"/>
<rect x="300.07" y="184.80" width="5.73" height="2.40" fill="#eae51a"/>
<rect x="300.07" y="187.20" width="5.73" height="2.40" fill="#84d44b"/>
<rect x="300.07" y="189.60" width="5.73" height="2.40" fill="#21a685"/>
<rect x="300.07" y="192.00" width="5.73" height="2.40" fill="#1f968b"/>
<rect x="300.07" y="194.40" width="5.73" height="2.40" fill="#21908d"/>
<rect x="300.07" y="196.80" width="5.73" height="2.40" fill="#1f988b"/>
<rect x="300.07" y="199.20" width="5.73" height="2.40" fill="#24aa83"/>
<rect x="300.07" y="201.60" width="5.73" height="2.40" fill="#77d153"/>
<rect x="300.07" y="204.00" width="5.73" height="2.40" fill="#a5db36"/>
<rect x="300.07" y="206.40" width="5.73" height="2.40" fill="#aadc32"/>
<rect x="300.07" y="208.80" width="5.73" height="2.40" fill="#b2dd2d"/>
<rect x="300.07" y="211.20" width="5.73" height="2.40" fill="#bade28"/>
<rect x="300.07" y="213.60" width="5.73" height="2.40" fill="#c0df25"/>
<rect x="300.07" y="216.00" width="5.73" height="2.40" fill="#c8e020"/>
<rect x="300.07" y="218.40" width="5.73" height="2.40" fill="#d0e11c"/>
<rect x="300.07" y="220.80" width="5.73" height="2.40" fill="#d5e21a"/>
<rect x="300.07" y="223.20" width="5.73" height="2.40" fill="#dde318"/>
<rect x="300.07" y="225.60" width="5.73" height="2.40" fill="#e5e419"/>
<rect x="300.07" y="228.00" width="5.73" height="7.20" fill="#fde725"/>
<rect x="305.80" y="98.40" width="5.73" height="2.40" fill="#fde725"/>
<rect x="305.80" y="117.60" width="5.73" height="2.40" fill="#fde725"/>
<rect x="305.80" y="129.60" width="5.73" height="4.80" fill="#fde725"/>
<rect x="305.80" y="136.80" width="5.73" height="48.00" fill="#fde725"/>
<rect x="305.80" y="184.80" width="5.73" height="2.40" fill="#ece51b"/>
<rect x="305.80" y="187.20" width="5.73" height="2.40" fill="#8bd646"/>
<rect x="305.80" y="189.60" width="5.73" height="2.40" fill="#22a785"/>
<rect x="305.80" y="192.00" width="5.73" height="2.40" fill="#1f978b"/>
<rect x="305.80" y="194.40" width="5.73" height="2.40" fill="#21918c"/>
<rect x="305.80" y="196.80" width="5.73" height="2.40" fill="#1f988b"/>
<rect x="305.80" y="199.20" width="5.73" height="2.40" fill="#24aa83"/>
<rect x="305.80" y="201.60" width="5.73" height="2.40" fill="#75d054"/>
<rect x="305.80" y="204.00" width="5.73" height="2.40" fill="#a5db36"/>
<rect x="305.80" y="206.40" width="5.73" height="2.40" fill="#aadc32"/>
<rect x="305.80" y="208.80" width="5.73" height="2.40" fill="#b2dd2d"/>
<rect x="305.80" y="211.20" width="5.73" height="2.40" fill="#bade28"/>
<rect x="305.80" y="213.60" width="5.73" height="2.40" fill="#c0df25"/>
<rect x="305.80" y="216.00" width="5.73" height="2.40" fill="#c8e020"/>
<rect x="305.80" y="218.40" width="5.73" height="2.40" fill="#d0e11c"/>
<rect x="305.80" y="220.80" width="5.73" height="2.40" fill="#d5e21a"/>
<rect x="305.80" y="223.20" width="5.73" height="2.40" fill="#dde318"/>
<rect x="305.80" y="225.60" width="5.73" height="2.40" fill="#e5e419"/>
<rect x="305.80" y="228.00" width="5.73" height="7.20" fill="#fde725"/>
<rect x="311.54" y="96.00" width="5.73" height="2.40" fill="#fde725"/>
<rect x="311.54" y="120.00" width="5.73" height="4.80" fill="#fde725"/>
<rect x="311.54" y="132.00" width="5.73" height="7.20" fill="#fde725"/>
<rect x="311.54" y="144.00" width="5.73" height="40.80" fill="#fde725"/>
<rect x="311.54" y="184.80" width="5.73" height="2.40" fill="#ece51b"/>
<rect x="311.54" y="187.20" width="5.73" height="2.40" fill="#90d743"/>
<rect x="311.54" y="189.60" width="5.73" height="2.40" fill="#23a983"/>
<rect x="311.54" y="192.00" width="5.73" height="2.40" fill="#1f988b"/>
<rect x="311.54" y="194.40" width="5.73" height="2.40" fill="#20928c"/>
<rect x="311.54" y="196.80" width="5.73" height="2.40" fill="#1f998a"/>
<rect x="311.54" y="199.20" width="5.73" height="2.40" fill="#23a983"/>
<rect x="311.54" y="201.60" width="5.73" height="2.40" fill="#73d056"/>
<rect x="311.54" y="204.00" width="5.73" height="2.40" fill="#a5db36"/>
<rect x="311.54" y="206.40" width="5.73" height="2.40" fill="#aadc32"/>
<rect x="311.54" y="208.80" width="5.73" height="2.40" fill="#b2dd2d"/>
<rect x="311.54" y="211.20" width="5.73" height="2.40" fill="#bade28"/>
<rect x="311.54" y="213.60" width="5.73" height="2.40" fill="#c0df25"/>
<rect x="311.54" y="216.00" width="5.73" height="2.40" fill="#c8e020"/>
<rect x="311.54" y="218.40" width="5.73" height="2.40" fill="#d0e11c"/>
<rect x="311.54" y="220.80" width="5.73" height="2.40" fill="#d5e21a"/>
<rect x="311.54" y="223.20" width="5.73" height="2.40" fill="#dde318"/>
<rect x="311.54" y="225.60" width="5.73" height="2.40" fill="#e5e419"/>
<rect x="311.54" y="228.00" width="5.73" height="2.40" fill="#fde725"/>
<rect x="317.27" y="91.20" width="5.73" height="2.40" fill="#fde725"/>
<rect x="317.27" y="110.40" width="5.73" height="2.40" fill="#fde725"/>
<rect x="317.27" y="115.20" width="5.73" height="4.80" fill="#fde725"/>
<rect x="317.27" y="129.60" width="5.73" height="9.60" fill="#fde725"/>
<rect x="317.27" y="144.00" width="5.73" height="40.80" fill="#fde725"/>
<rect x="317.27" y="184.80" width="5.73" height="2.40" fill="#efe51c"/>
<rect x="317.27" y="187.20" width="5.73" height="2.40" fill="#95d840"/>
<rect x="317.27" y="189.60" width="5.73" height="2.40" fill="#25ab82"/>
<rect x="317.27" y="192.00" width="5.73" height="2.40" fill="#1f998a"/>
<rect x="317.27" y="194.40" width="5.73" height="2.40" fill="#20928c"/>
<rect x="317.27" y="196.80" width="5.73" height="2.40" fill="#1f998a"/>
<rect x="317.27" y="199.20" width="5.73" height="2.40" fill="#23a983"/>
<rect x="317.27" y="201.60" width="5.73" height="2.40" fill="#6ece58"/>
<rect x="317.27" y="204.00" width="5.73" height="2.40" fill="#a5db36"/>
<rect x="317.27" y="206.40" width="5.73" height="2.40" fill="#addc30"/>
<rect x="317.27" y="208.80" width="5.73" height="2.40" fill="#b2dd2d"/>
<rect x="317.27" y="211.20" width="5.73" height="2.40" fill="#bade28"/>
<rect x="317.27" y="213.60" width="5.73" height="2.40" fill="#c0df25"/>
<rect x="317.27" y="216.00" width="5.73" height="2.40" fill="#c8e020"/>
<rect x="317.27" y="218.40" width="5.73" height="2.40" fill="#d0e11c"/>
<rect x="317.27" y="220.80" width="5.73" height="2.40" fill="#d5e21a"/>
<rect x="317.27" y="223.20" width="5.73" height="2.40" fill="#dde318"/>
<rect x="317.27" y="225.60" width="5.73" height="2.40" fill="#e2e418"/>
<rect x="317.27" y="228.00" width="5.73" height="2.40" fill="#fde725"/>
<rect x="323.00" y="88.80" width="5.73" height="2.40" fill="#fde725"/>
<rect x="323.00" y="108.00" width="5.73" height="4.80" fill="#fde725"/>
<rect x="323.00" y="120.00" width="5.73" height="7.20" fill="#fde725"/>
<rect x="323.00" y="129.60" width="5.73" height="55.20" fill="#fde725"/>
<rect x="323.00" y="184.80" width="5.73" height="2.40" fill="#f1e51d"/>
<rect x="323.00" y="187.20" width="5.73" height="2.40" fill="#9dd93b"/>
<rect x="323.00" y="189.60" width="5.73" height="2.40" fill="#26ad81"/>
<rect x="323.00" y="192.00" width="5.73" height="2.40" fill="#1f9a8a"/>
<rect x="323.00" y="194.40" width="5.73" height="2.40" fill="#20938c"/>
<rect x="323.00" y="196.80" width="5.73" height="2.40" fill="#1f998a"/>
<rect x="323.00" y="199.20" width="5.73" height="2.40" fill="#22a884"/>
<rect x="323.00" y="201.60" width="5.73" height="2.40" fill="#6ccd5a"/>
<rect x="323.00" y="204.00" width="5.73" height="2.40" fill="#a5db36"/>
<rect x="323.00" y="206.40" width="5.73" height="2.40" fill="#addc30"/>
<rect x="323.00" y="208.80" width="5.73" height="2.40" fill="#b2dd2d"/>
<rect x="323.00" y="211.20" width="5.73" height="2.40" fill="#bade28"/>
<rect x="323.00" y="213.60" width="5.73" height="2.40" fill="#c0df25"/>
<rect x="323.00" y="216.00" width="5.73" height="2.40" fill="#c8e020"/>
<rect x="323.00" y="218.40" width="5.73" height="2.40" fill="#d0e11c"/>
<rect x="323.00" y="220.80" width="5.73" height="2.40" fill="#d5e21a"/>
<rect x="323.00" y="223.20" width="5.73" height="2.40" fill="#dde318"/>
<rect x="323.00" y="225.60" width="5.73" height="2.40" fill="#e2e418"/>
<rect x="323.00" y="228.00" width="5.73" height="2.40" fill="#fde725"/>
<rect x="328.74" y="88.80" width="5.73" height="2.40" fill="#fde725"/>
<rect x="328.74" y="105.60" width="5.73" height="2.40" fill="#fde725"/>
<rect x="328.74" y="117.60" width="5.73" height="4.80" fill="#fde725"/>
<rect x="328.74" y="124.80" width="5.73" height="60.00" fill="#fde725"/>
<rect x="328.74" y="184.80" width="5.73" height="2.40" fill="#f1e51d"/>
<rect x="328.74" y="187.20" width="5.73" height="2.40" fill="#a2da37"/>
<rect x="328.74" y="189.60" width="5.73" height="2.40" fill="#28ae80"/>
<rect x="328.74" y="192.00" width="5.73" height="2.40" fill="#1e9b8a"/>
<rect x="328.74" y="194.40" width="5.73" height="2.40" fill="#1f948c"/>
<rect x="328.74" y="196.80" width="5.73" height="2.40" fill="#1f998a"/>
<rect x="328.74" y="199.20" width="5.73" height="2.40" fill="#22a785"/>
<rect x="328.74" y="201.60" width="5.73" height="2.40" fill="#65cb5e"/>
<rect x="328.74" y="204.00" width="5.73" height="2.40" fill="#a5db36"/>
<rect x="328.74" y="206.40" width="5.73" height="2.40" fill="#addc30"/>
<rect x="328.74" y="208.80" width="5.73" height="2.40" fill="#b2dd2d"/>
<rect x="328.74" y="211.20" width="5.73" height="2.40" fill="#bade28"/>
<rect x="328.74" y="213.60" width="5.73" height="2.40" fill="#c2df23"/>
<rect x="328.74" y="216.00" width="5.73" height="2.40" fill="#c8e020"/>
<rect x="328.74" y="218.40" width="5.73" height="2.40" fill="#d0e11c"/>
<rect x="328.74" y="220.80" width="5.73" height="2.40" fill="#d5e21a"/>
<rect x="328.74" y="223.20" width="5.73" height="2.40" fill="#dde318"/>
<rect x="328.74" y="225.60" width="5.73" height="2.40" fill="#e2e418"/>
<rect x="328.74" y="228.00" width="5.73" height="2.40" fill="#fde725"/>
<rect x="334.47" y="88.80" width="5.73" height="2.40" fill="#fde725"/>
<rect x="334.47" y="100.80" width="5.73" height="4.80" fill="#fde725"/>
<rect x="334.47" y="112.80" width="5.73" height="4.80" fill="#fde725"/>
<rect x="334.47" y="120.00" width="5.73" height="2.40" fill="#fde725"/>
<rect x="334.47" y="124.80" width="5.73" height="2.40" fill="#fde725"/>
<rect x="334.47" y="129.60" width="5.73" height="7.20" fill="#fde725"/>
<rect x="334.47" y="139.20" width="5.73" height="45.60" fill="#fde725"/>
<rect x="334.47" y="184.80" width="5.73" height="2.40" fill="#f1e51d"/>
<rect x="334.47" y="187.20" width="5.73" height="2.40" fill="#a0da39"/>
<rect x="334.47" y="189.60" width="5.73" height="2.40" fill="#28ae80"/>
<rect x="334.47" y="192.00" width="5.73" height="2.40" fill="#1e9b8a"/>
<rect x="334.47" y="194.40" width="5.73" height="2.40" fill="#1f948c"/>
<rect x="334.47" y="196.80" width="5.73" height="2.40" fill="#1f988b"/>
<rect x="334.47" y="199.20" width="5.73" height="2.40" fill="#20a486"/>
<rect x="334.47" y="201.60" width="5.73" height="2.40" fill="#56c667"/>
<rect x="334.47" y="204.00" width="5.73" height="2.40" fill="#a5db36"/>
<rect x="334.47" y="206.40" width="5.73" height="2.40" fill="#addc30"/>
<rect x="334.47" y="208.80" width="5.73" height="2.40" fill="#b2dd2d"/>
<rect x="334.47" y="211.20" width="5.73" height="2.40" fill="#bade28"/>
<rect x="334.47" y="213.60" width="5.73" height="2.40" fill="#c2df23"/>
<rect x="334.47" y="216.00" width="5.73" height="2.40" fill="#c8e020"/>
<rect x="334.47" y="218.40" width="5.73" height="2.40" fill="#d0e11c"/>
<rect x="334.47" y="220.80" width="5.73" height="2.40" fill="#d5e21a"/>
<rect x="334.47" y="223.20" width="5.73" height="2.40" fill="#dde318"/>
<rect x="334.47" y="225.60" width="5.73" height="2.40" fill="#e2e418"/>
<rect x="334.47" y="228.00" width="5.73" height="2.40" fill="#fde725"/>
<rect x="340.20" y="88.80" width="5.73" height="2.40" fill="#fde725"/>
<rect x="340.20" y="96.00" width="5.73" height="7.20" fill="#fde725"/>
<rect x="340.20" y="112.80" width="5.73" height="72.00" fill="#fde725"/>
<rect x="340.20" y="184.80" width="5.73" height="2.40" fill="#f6e620"/>
<rect x="340.20" y="187.20" width="5.73" height="2.40" fill="#b8de29"/>
<rect x="340.20" y="189.60" width="5.73" height="2.40" fill="#34b679"/>
<rect x="340.20" y="192.00" width="5.73" height="2.40" fill="#1f9e89"/>
<rect x="340.20" y="194.40" width="5.73" height="2.40" fill="#1f948c"/>
<rect x="340.20" y="196.80" width="5.73" height="2.40" fill="#1f968b"/>
<rect x="340.20" y="199.20" width="5.73" height="2.40" fill="#1fa187"/>
<rect x="340.20" y="201.60" width="5.73" height="2.40" fill="#38b977"/>
<rect x="340.20" y="204.00" width="5.73" height="2.40" fill="#a2da37"/>
<rect x="340.20" y="206.40" width="5.73" height="2.40" fill="#addc30"/>
<rect x="340.20" y="208.80" width="5.73" height="2.40" fill="#b2dd2d"/>
<rect x="340.20" y="211.20" width="5.73" height="2.40" fill="#bade28"/>
<rect x="340.20" y="213.60" width="5.73" height="2.40" fill="#c0df25"/>
<rect x="340.20" y="216.00" width="5.73" height="2.40" fill="#c8e020"/>
<rect x="340.20" y="218.40" width="5.73" height="2.40" fill="#d0e11c"/>
<rect x="340.20" y="220.80" width="5.73" height="2.40" fill="#d5e21a"/>
<rect x="340.20" y="223.20" width="5.73" height="2.40" fill="#dde318"/>
<rect x="340.20" y="225.60" width="5.73" height="2.40" fill="#e2e418"/>
<rect x="340.20" y="228.00" width="5.73" height="2.40" fill="#fde725"/>
<rect x="345.94" y="88.80" width="5.73" height="2.40" fill="#fde725"/>
<rect x="345.94" y="96.00" width="5.73" height="4.80" fill="#fde725"/>
<rect x="345.94" y="112.80" width="5.73" height="12.00" fill="#fde725"/>
<rect x="345.94" y="127.20" width="5.73" height="60.00" fill="#fde725"/>
<rect x="345.94" y="187.20" width="5.73" height="2.40" fill="#eae51a"/>
<rect x="345.94" y="189.60" width="5.73" height="2.40" fill="#86d549"/>
<rect x="345.94" y="192.00" width="5.73" height="2.40" fill="#22a884"/>
<rect x="345.94" y="194.40" width="5.73" height="2.40" fill="#1f998a"/>
<rect x="345.94" y="196.80" width="5.73" height="2.40" fill="#1f948c"/>
<rect x="345.94" y="199.20" width="5.73" height="2.40" fill="#1f988b"/>
<rect x="345.94" y="201.60" width="5.73" height="2.40" fill="#20a386"/>
<rect x="345.94" y="204.00" width="5.73" height="2.40" fill="#4cc26c"/>
<rect x="345.94" y="206.40" width="5.73" height="2.40" fill="#aadc32"/>
<rect x="345.94" y="208.80" width="5.73" height="2.40" fill="#b0dd2f"/>
<rect x="345.94" y="211.20" width="5.73" height="2.40" fill="#b8de29"/>
<rect x="345.94" y="213.60" width="5.73" height="2.40" fill="#c0df25"/>
<rect x="345.94" y="216.00" width="5.73" height="2.40" fill="#c5e021"/>
<rect x="345.94" y="218.40" width="5.73" height="2.40" fill="#cde11d"/>
<rect x="345.94" y="220.80" width="5.73" height="2.40" fill="#d5e21a"/>
<rect x="345.94" y="223.20" width="5.73" height="2.40" fill="#dae319"/>
<rect x="345.94" y="225.60" width="5.73" height="2.40" fill="#e2e418"/>
<rect x="345.94" y="228.00" width="5.73" height="2.40" fill="#fde725"/>
<rect x="351.67" y="86.40" width="5.73" height="4.80" fill="#fde725"/>
<rect x="351.67" y="93.60" width="5.73" height="2.40" fill="#fde725"/>
<rect x="351.67" y="112.80" width="5.73" height="4.80" fill="#fde725"/>
<rect x="351.67" y="120.00" width="5.73" height="9.60" fill="#fde725"/>
<rect x="351.67" y="134.40" width="5.73" height="52.80" fill="#fde725"/>
<rect x="351.67" y="187.20" width="5.73" height="2.40" fill="#f8e621"/>
<rect x="351.67" y="189.60" width="5.73" height="2.40" fill="#c8e020"/>
<rect x="351.67" y="192.00" width="5.73" height="2.40" fill="#44bf70"/>
<rect x="351.67" y="194.40" width="5.73" height="2.40" fill="#1fa088"/>
<rect x="351.67" y="196.80" width="5.73" height="2.40" fill="#1f968b"/>
<rect x="351.67" y="199.20" width="5.73" height="2.40" fill="#1f948c"/>
<rect x="351.67" y="201.60" width="5.73" height="2.40" fill="#1e9c89"/>
<rect x="351.67" y="204.00" width="5.73" height="2.40" fill="#24aa83"/>
<rect x="351.67" y="206.40" width="5.73" height="2.40" fill="#70cf57"/>
<rect x="351.67" y="208.80" width="5.73" height="2.40" fill="#b0dd2f"/>
<rect x="351.67" y="211.20" width="5.73" height="2.40" fill="#b5de2b"/>
<rect x="351.67" y="213.60" width="5.73" height="2.40" fill="#bddf26"/>
<rect x="351.67" y="216.00" width="5.73" height="2.40" fill="#c5e021"/>
<rect x="351.67" y="218.40" width="5.73" height="2.40" fill="#cde11d"/>
<rect x="351.67" y="220.80" width="5.73" height="2.40" fill="#d2e21b"/>
<rect x="351.67" y="223.20" width="5.73" height="2.40" fill="#dae319"/>
<rect x="351.67" y="225.60" width="5.73" height="2.40" fill="#e2e418"/>
<rect x="351.67" y="228.00" width="5.73" height="2.40" fill="#fde725"/>
<rect x="357.40" y="86.40" width="5.73" height="2.40" fill="#fde725"/>
<rect x="357.40" y="91.20" width="5.73" height="4.80" fill="#fde725"/>
<rect x="357.40" y="103.20" width="5.73" height="7.20" fill="#fde725"/>
<rect x="357.40" y="112.80" width="5.73" height="7.20" fill="#fde725"/>
<rect x="357.40" y="122.40" width="5.73" height="2.40" fill="#fde725"/>
<rect x="357.40" y="129.60" width="5.73" height="2.40" fill="#fde725"/>
<rect x="357.40" y="134.40" width="5.73" height="55.20" fill="#fde725"/>
<rect x="357.40" y="189.60" width="5.73" height="2.40" fill="#ece51b"/>
<rect x="357.40" y="192.00" width="5.73" height="2.40" fill="#89d548"/>
<rect x="357.40" y="194.40" width="5.73" height="2.40" fill="#22a884"/>
<rect x="357.40" y="196.80" width="5.73" height="2.40" fill="#1f9a8a"/>
<rect x="357.40" y="199.20" width="5.73" height="2.40" fill="#1f948c"/>
<rect x="357.40" y="201.60" width="5.73" height="2.40" fill="#1f968b"/>
<rect x="357.40" y="204.00" width="5.73" height="2.40" fill="#1fa188"/>
<rect x="357.40" y="206.40" width="5.73" height="2.40" fill="#31b57b"/>
<rect x="357.40" y="208.80" width="5.73" height="2.40" fill="#95d840"/>
<rect x="357.40" y="211.20" width="5.73" height="2.40" fill="#b5de2b"/>
<rect x="357.40" y="213.60" width="5.73" height="2.40" fill="#bddf26"/>
<rect x="357.40" y="216.00" width="5.73" height="2.40" fill="#c2df23"/>
<rect x="357.40" y="218.40" width="5.73" height="2.40" fill="#cae11f"/>
<rect x="357.40" y="220.80" width="5.73" height="2.40" fill="#d2e21b"/>
<rect x="357.40" y="223.20" width="5.73" height="2.40" fill="#dae319"/>
<rect x="357.40" y="225.60" width="5.73" height="2.40" fill="#e2e418"/>
<rect x="357.40" y="228.00" width="5.73" height="7.20" fill="#fde725"/>
<rect x="363.14" y="86.40" width="5.73" height="2.40" fill="#fde725"/>
<rect x="363.14" y="105.60" width="5.73" height="4.80" fill="#fde725"/>
<rect x="363.14" y="115.20" width="5.73" height="14.40" fill="#fde725"/>
<rect x="363.14" y="132.00" width="5.73" height="57.60" fill="#fde725"/>
<rect x="363.14" y="189.60" width="5.73" height="2.40" fill="#fbe723"/>
<rect x="363.14" y="192.00" width="5.73" height="2.40" fill="#d8e219"/>
<rect x="363.14" y="194.40" width="5.73" height="2.40" fill="#5ac864"/>
<rect x="363.14" y="196.80" width="5.73" height="2.40" fill="#1fa287"/>
<rect x="363.14" y="199.20" width="5.73" height="2.40" fill="#1f988b"/>
<rect x="363.14" y="201.60" width="5.73" height="2.40" fill="#1f948c"/>
<rect x="363.14" y="204.00" width="5.73" height="2.40" fill="#1f978b"/>
<rect x="363.14" y="206.40" width="5.73" height="2.40" fill="#1fa188"/>
<rect x="363.14" y="208.80" width="5.73" height="2.40" fill="#35b779"/>
<rect x="363.14" y="211.20" width="5.73" height="2.40" fill="#9bd93c"/>
<rect x="363.14" y="213.60" width="5.73" height="2.40" fill="#bade28"/>
<rect x="363.14" y="216.00" width="5.73" height="2.40" fill="#c0df25"/>
<rect x="363.14" y="218.40" width="5.73" height="2.40" fill="#c8e020"/>
<rect x="363.14" y="220.80" width="5.73" height="2.40" fill="#d0e11c"/>
<rect x="363.14" y="223.20" width="5.73" height="2.40" fill="#d8e219"/>
<rect x="363.14" y="225.60" width="5.73" height="2.40" fill="#dfe318"/>
<rect x="363.14" y="228.00" width="5.73" height="7.20" fill="#fde725"/>
<rect x="368.87" y="79.20" width="5.73" height="2.40" fill="#fde725"/>
<rect x="368.87" y="86.40" width="5.73" height="2.40" fill="#fde725"/>
<rect x="368.87" y="91.20" width="5.73" height="2.40" fill="#fde725"/>
<rect x="368.87" y="105.60" width="5.73" height="7.20" fill="#fde725"/>
<rect x="368.87" y="115.20" width="5.73" height="14.40" fill="#fde725"/>
<rect x="368.87" y="132.00" width="5.73" height="60.00" fill="#fde725"/>
<rect x="368.87" y="192.00" width="5.73" height="2.40" fill="#f6e620"/>
<rect x="368.87" y="194.40" width="5.73" height="2.40" fill="#bddf26"/>
<rect x="368.87" y="196.80" width="5.73" height="2.40" fill="#3aba76"/>
<rect x="368.87" y="199.20" width="5.73" height="2.40" fill="#1fa188"/>
<rect x="368.87" y="201.60" width="5.73" height="2.40" fill="#1f998a"/>
<rect x="368.87" y="204.00" width="5.73" height="2.40" fill="#1f948c"/>
<rect x="368.87" y="206.40" width="5.73" height="2.40" fill="#1f978b"/>
<rect x="368.87" y="208.80" width="5.73" height="2.40" fill="#1fa088"/>
<rect x="368.87" y="211.20" width="5.73" height="2.40" fill="#2db27d"/>
<rect x="368.87" y="213.60" width="5.73" height="2.40" fill="#8bd646"/>
<rect x="368.87" y="216.00" width="5.73" height="2.40" fill="#bddf26"/>
<rect x="368.87" y="218.40" width="5.73" height="2.40" fill="#c5e021"/>
<rect x="368.87" y="220.80" width="5.73" height="2.40" fill="#cde11d"/>
<rect x="368.87" y="223.20" width="5.73" height="2.40" fill="#d5e21a"/>
<rect x="368.87" y="225.60" width="5.73" height="2.40" fill="#dde318"/>
<rect x="368.87" y="228.00" width="5.73" height="7.20" fill="#fde725"/>
<rect x="374.60" y="79.20" width="5.73" height="4.80" fill="#fde725"/>
<rect x="374.60" y="88.80" width="5.73" height="2.40" fill="#fde725"/>
<rect x="374.60" y="103.20" width="5.73" height="2.40" fill="#fde725"/>
<rect x="374.60" y="110.40" width="5.73" height="2.40" fill="#fde725"/>
<rect x="374.60" y="115.20" width="5.73" height="2.40" fill="#fde725"/>
<rect x="374.60" y="120.00" width="5.73" height="2.40" fill="#fde725"/>
<rect x="374.60" y="124.80" width="5.73" height="2.40" fill="#fde725"/>
<rect x="374.60" y="129.60" width="5.73" height="64.80" fill="#fde725"/>
<rect x="374.60" y="194.40" width="5.73" height="2.40" fill="#efe51c"/>
<rect x="374.60" y="196.80" width="5.73" height="2.40" fill="#98d83e"/>
<rect x="374.60" y="199.20" width="5.73" height="2.40" fill="#27ad81"/>
<rect x="374.60" y="201.60" width="5.73" height="2.40" fill="#1fa088"/>
<rect x="374.60" y="204.00" width="5.73" height="2.40" fill="#1f998a"/>
<rect x="374.60" y="206.40" width="5.73" height="2.40" fill="#1f948c"/>
<rect x="374.60" y="208.80" width="5.73" height="2.40" fill="#1f978b"/>
<rect x="374.60" y="211.20" width="5.73" height="2.40" fill="#1f9f88"/>
<rect x="374.60" y="213.60" width="5.73" height="2.40" fill="#27ad81"/>
<rect x="374.60" y="216.00" width="5.73" height="2.40" fill="#7fd34e"/>
<rect x="374.60" y="218.40" width="5.73" height="2.40" fill="#c2df23"/>
<rect x="374.60" y="220.80" width="5.73" height="2.40" fill="#cae11f"/>
<rect x="374.60" y="223.20" width="5.73" height="2.40" fill="#d2e21b"/>
<rect x="374.60" y="225.60" width="5.73" height="2.40" fill="#d8e219"/>
<rect x="374.60" y="228.00" width="5.73" height="7.20" fill="#fde725"/>
<rect x="380.34" y="79.20" width="5.73" height="2.40" fill="#fde725"/>
<rect x="380.34" y="88.80" width="5.73" height="2.40" fill="#fde725"/>
<rect x="380.34" y="100.80" width="5.73" height="9.60" fill="#fde725"/>
<rect x="380.34" y="112.80" width="5.73" height="84.00" fill="#fde725"/>
<rect x="380.34" y="196.80" width="5.73" height="2.40" fill="#e7e419"/>
<rect x="380.34" y="199.20" width="5.73" height="2.40" fill="#7cd250"/>
<rect x="380.34" y="201.60" width="5.73" height="2.40" fill="#22a884"/>
<rect x="380.34" y="204.00" width="5.73" height="2.40" fill="#1f9f88"/>
<rect x="380.34" y="206.40" width="5.73" height="2.40" fill="#1f998a"/>
<rect x="380.34" y="208.80" width="5.73" height="2.40" fill="#1f948c"/>
<rect x="380.34" y="211.20" width="5.73" height="2.40" fill="#1f978b"/>
<rect x="380.34" y="213.60" width="5.73" height="2.40" fill="#1f9f88"/>
<rect x="380.34" y="216.00" width="5.73" height="2.40" fill="#27ad81"/>
<rect x="380.34" y="218.40" width="5.73" height="2.40" fill="#7fd34e"/>
<rect x="380.34" y="220.80" width="5.73" height="2.40" fill="#c8e020"/>
<rect x="380.34" y="223.20" width="5.73" height="2.40" fill="#cde11d"/>
<rect x="380.34" y="225.60" width="5.73" height="2.40" fill="#d5e21a"/>
<rect x="380.34" y="228.00" width="5.73" height="9.60" fill="#fde725"/>
<rect x="386.07" y="76.80" width="5.73" height="2.40" fill="#fde725"/>
<rect x="386.07" y="86.40" width="5.73" height="2.40" fill="#fde725"/>
<rect x="386.07" y="98.40" width="5.73" height="9.60" fill="#fde725"/>
<rect x="386.07" y="110.40" width="5.73" height="4.80" fill="#fde725"/>
<rect x="386.07" y="117.60" width="5.73" height="12.00" fill="#fde725"/>
<rect x="386.07" y="134.40" width="5.73" height="62.40" fill="#fde725"/>
<rect x="386.07" y="196.80" width="5.73" height="2.40" fill="#fbe723"/>
<rect x="386.07" y="199.20" width="5.73" height="2.40" fill="#dae319"/>
<rect x="386.07" y="201.60" width="5.73" height="2.40" fill="#5ec962"/>
<rect x="386.07" y="204.00" width="5.73" height="2.40" fill="#21a585"/>
<rect x="386.07" y="206.40" width="5.73" height="2.40" fill="#1f9e89"/>
<rect x="386.07" y="208.80" width="5.73" height="2.40" fill="#1f998a"/>
<rect x="386.07" y="211.20" width="5.73" height="2.40" fill="#20928c"/>
<rect x="386.07" y="213.60" width="5.73" height="2.40" fill="#1f958b"/>
<rect x="386.07" y="216.00" width="5.73" height="2.40" fill="#1e9d89"/>
<rect x="386.07" y="218.40" width="5.73" height="2.40" fill="#27ad81"/>
<rect x="386.07" y="220.80" width="5.73" height="2.40" fill="#81d34d"/>
<rect x="386.07" y="223.20" width="5.73" height="2.40" fill="#cae11f"/>
<rect x="386.07" y="225.60" width="5.73" height="2.40" fill="#d2e21b"/>
<rect x="386.07" y="228.00" width="5.73" height="2.40" fill="#d8e219"/>
<rect x="386.07" y="230.40" width="5.73" height="7.20" fill="#fde725"/>
<rect x="391.80" y="74.40" width="5.73" height="2.40" fill="#fde725"/>
<rect x="391.80" y="79.20" width="5.73" height="2.40" fill="#fde725"/>
<rect x="391.80" y="96.00" width="5.73" height="2.40" fill="#fde725"/>
<rect x="391.80" y="100.80" width="5.73" height="7.20" fill="#fde725"/>
<rect x="391.80" y="110.40" width="5.73" height="28.80" fill="#fde725"/>
<rect x="391.80" y="141.60" width="5.73" height="57.60" fill="#fde725"/>
<rect x="391.80" y="199.20" width="5.73" height="2.40" fill="#f8e621"/>
<rect x="391.80" y="201.60" width="5.73" height="2.40" fill="#c8e020"/>
<rect x="391.80" y="204.00" width="5.73" height="2.40" fill="#46c06f"/>
<rect x="391.80" y="206.40" width="5.73" height="2.40" fill="#20a486"/>
<rect x="391.80" y="208.80" width="5.73" height="2.40" fill="#1e9d89"/>
<rect x="391.80" y="211.20" width="5.73" height="2.40" fill="#1f998a"/>
<rect x="391.80" y="213.60" width="5.73" height="2.40" fill="#218e8d"/>
<rect x="391.80" y="216.00" width="5.73" height="2.40" fill="#20928c"/>
<rect x="391.80" y="218.40" width="5.73" height="2.40" fill="#1f9a8a"/>
<rect x="391.80" y="220.80" width="5.73" height="2.40" fill="#27ad81"/>
<rect x="391.80" y="223.20" width="5.73" height="2.40" fill="#86d549"/>
<rect x="391.80" y="225.60" width="5.73" height="2.40" fill="#cde11d"/>
<rect x="391.80" y="228.00" width="5.73" height="2.40" fill="#d5e21a"/>
<rect x="391.80" y="230.40" width="5.73" height="7.20" fill="#fde725"/>
<rect x="397.54" y="74.40" width="5.73" height="2.40" fill="#fde725"/>
<rect x="397.54" y="81.60" width="5.73" height="2.40" fill="#fde725"/>
<rect x="397.54" y="93.60" width="5.73" height="2.40" fill="#fde725"/>
<rect x="397.54" y="98.40" width="5.73" height="103.20" fill="#fde725"/>
<rect x="397.54" y="201.60" width="5.73" height="2.40" fill="#f6e620"/>
<rect x="397.54" y="204.00" width="5.73" height="2.40" fill="#b2dd2d"/>
<rect x="397.54" y="206.40" width="5.73" height="2.40" fill="#34b679"/>
<rect x="397.54" y="208.80" width="5.73" height="2.40" fill="#1fa287"/>
<rect x="397.54" y="211.20" width="5.73" height="2.40" fill="#1e9c89"/>
<rect x="397.54" y="213.60" width="5.73" height="2.40" fill="#1f988b"/>
<rect x="397.54" y="216.00" width="5.73" height="2.40" fill="#23888e"/>
<rect x="397.54" y="218.40" width="5.73" height="2.40" fill="#218e8d"/>
<rect x="397.54" y="220.80" width="5.73" height="2.40" fill="#1f968b"/>
<rect x="397.54" y="223.20" width="5.73" height="2.40" fill="#2ab07f"/>
<rect x="397.54" y="225.60" width="5.73" height="2.40" fill="#93d741"/>
<rect x="397.54" y="228.00" width="5.73" height="2.40" fill="#d2e21b"/>
<rect x="397.54" y="230.40" width="5.73" height="2.40" fill="#fbe723"/>
<rect x="397.54" y="232.80" width="5.73" height="4.80" fill="#fde725"/>
<rect x="403.27" y="74.40" width="5.73" height="2.40" fill="#fde725"/>
<rect x="403.27" y="81.60" width="5.73" height="2.40" fill="#fde725"/>
<rect x="403.27" y="93.60" width="5.73" height="2.40" fill="#fde725"/>
<rect x="403.27" y="98.40" width="5.73" height="2.40" fill="#fde725"/>
<rect x="403.27" y="103.20" width="5.73" height="31.20" fill="#fde725"/>
<rect x="403.27" y="136.80" width="5.73" height="4.80" fill="#fde725"/>
<rect x="403.27" y="144.00" width="5.73" height="60.00" fill="#fde725"/>
<rect x="403.27" y="204.00" width="5.73" height="2.40" fill="#f8e621"/>
<rect x="403.27" y="206.40" width="5.73" height="2.40" fill="#c8e020"/>
<rect x="403.27" y="208.80" width="5.73" height="2.40" fill="#44bf70"/>
<rect x="403.27" y="211.20" width="5.73" height="2.40" fill="#1fa287"/>
<rect x="403.27" y="213.60" width="5.73" height="2.40" fill="#1f9a8a"/>
<rect x="403.27" y="216.00" width="5.73" height="2.40" fill="#1f978b"/>
<rect x="403.27" y="218.40" width="5.73" height="2.40" fill="#26818e"/>
<rect x="403.27" y="220.80" width="5.73" height="2.40" fill="#23888e"/>
<rect x="403.27" y="223.20" width="5.73" height="2.40" fill="#1f958b"/>
<rect x="403.27" y="225.60" width="5.73" height="2.40" fill="#4ec36b"/>
<rect x="403.27" y="228.00" width="5.73" height="2.40" fill="#c2df23"/>
<rect x="403.27" y="230.40" width="5.73" height="2.40" fill="#f4e61e"/>
<rect x="403.27" y="232.80" width="5.73" height="4.80" fill="#fde725"/>
<rect x="409.01" y="72.00" width="5.73" height="2.40" fill="#fde725"/>
<rect x="409.01" y="79.20" width="5.73" height="2.40" fill="#fde725"/>
<rect x="409.01" y="91.20" width="5.73" height="2.40" fill="#fde725"/>
<rect x="409.01" y="98.40" width="5.73" height="16.80" fill="#fde725"/>
<rect x="409.01" y="117.60" width="5.73" height="14.40" fill="#fde725"/>
<rect x="409.01" y="134.40" width="5.73" height="72.00" fill="#fde725"/>
<rect x="409.01" y="206.40" width="5.73" height="2.40" fill="#fbe723"/>
<rect x="409.01" y="208.80" width="5.73" height="2.40" fill="#dfe318"/>
<rect x="409.01" y="211.20" width="5.73" height="2.40" fill="#69cd5b"/>
<rect x="409.01" y="213.60" width="5.73" height="2.40" fill="#1fa287"/>
<rect x="409.01" y="216.00" width="5.73" height="2.40" fill="#1f988b"/>
<rect x="409.01" y="218.40" width="5.73" height="2.40" fill="#20938c"/>
<rect x="409.01" y="220.80" width="5.73" height="2.40" fill="#2a788e"/>
<rect x="409.01" y="223.20" width="5.73" height="2.40" fill="#25858e"/>
<rect x="409.01" y="225.60" width="5.73" height="2.40" fill="#25ab82"/>
<rect x="409.01" y="228.00" width="5.73" height="2.40" fill="#95d840"/>
<rect x="409.01" y="230.40" width="5.73" height="2.40" fill="#e7e419"/>
<rect x="409.01" y="232.80" width="5.73" height="2.40" fill="#fbe723"/>
<rect x="409.01" y="235.20" width="5.73" height="2.40" fill="#fde725"/>
<rect x="414.74" y="67.20" width="5.73" height="2.40" fill="#fde725"/>
<rect x="414.74" y="76.80" width="5.73" height="2.40" fill="#fde725"/>
<rect x="414.74" y="81.60" width="5.73" height="2.40" fill="#fde725"/>
<rect x="414.74" y="86.40" width="5.73" height="2.40" fill="#fde725"/>
<rect x="414.74" y="91.20" width="5.73" height="7.20" fill="#fde725"/>
<rect x="414.74" y="103.20" width="5.73" height="7.20" fill="#fde725"/>
<rect x="414.74" y="112.80" width="5.73" height="4.80" fill="#fde725"/>
<rect x="414.74" y="120.00" width="5.73" height="4.80" fill="#fde725"/>
<rect x="414.74" y="129.60" width="5.73" height="81.60" fill="#fde725"/>
<rect x="414.74" y="211.20" width="5.73" height="2.40" fill="#e7e419"/>
<rect x="414.74" y="213.60" width="5.73" height="2.40" fill="#7ad151"/>
<rect x="414.74" y="216.00" width="5.73" height="2.40" fill="#20a386"/>
<rect x="414.74" y="218.40" width="5.73" height="2.40" fill="#1f958b"/>
<rect x="414.74" y="220.80" width="5.73" height="2.40" fill="#306a8e"/>
<rect x="414.74" y="223.20" width="5.73" height="2.40" fill="#2c738e"/>
<rect x="414.74" y="225.60" width="5.73" height="2.40" fill="#23888e"/>
<rect x="414.74" y="228.00" width="5.73" height="2.40" fill="#46c06f"/>
<rect x="414.74" y="230.40" width="5.73" height="2.40" fill="#c2df23"/>
<rect x="414.74" y="232.80" width="5.73" height="2.40" fill="#f4e61e"/>
<rect x="420.47" y="67.20" width="5.73" height="2.40" fill="#fde725"/>
<rect x="420.47" y="76.80" width="5.73" height="2.40" fill="#fde725"/>
<rect x="420.47" y="81.60" width="5.73" height="2.40" fill="#fde725"/>
<rect x="420.47" y="86.40" width="5.73" height="2.40" fill="#fde725"/>
<rect x="420.47" y="91.20" width="5.73" height="7.20" fill="#fde725"/>
<rect x="420.47" y="100.80" width="5.73" height="9.60" fill="#fde725"/>
<rect x="420.47" y="112.80" width="5.73" height="4.80" fill="#fde725"/>
<rect x="420.47" y="120.00" width="5.73" height="2.40" fill="#fde725"/>
<rect x="420.47" y="124.80" width="5.73" height="12.00" fill="#fde725"/>
<rect x="420.47" y="139.20" width="5.73" height="72.00" fill="#fde725"/>
<rect x="420.47" y="211.20" width="5.73" height="2.40" fill="#f4e61e"/>
<rect x="420.47" y="213.60" width="5.73" height="2.40" fill="#addc30"/>
<rect x="420.47" y="216.00" width="5.73" height="2.40" fill="#2ab07f"/>
<rect x="420.47" y="218.40" width="5.73" height="2.40" fill="#1f978b"/>
<rect x="420.47" y="220.80" width="5.73" height="2.40" fill="#21908d"/>
<rect x="420.47" y="223.20" width="5.73" height="2.40" fill="#2d718e"/>
<rect x="420.47" y="225.60" width="5.73" height="2.40" fill="#23888e"/>
<rect x="420.47" y="228.00" width="5.73" height="2.40" fill="#4cc26c"/>
<rect x="420.47" y="230.40" width="5.73" height="2.40" fill="#c8e020"/>
<rect x="420.47" y="232.80" width="5.73" height="2.40" fill="#f6e620"/>
<rect x="426.21" y="64.80" width="5.73" height="2.40" fill="#fde725"/>
<rect x="426.21" y="74.40" width="5.73" height="2.40" fill="#fde725"/>
<rect x="426.21" y="79.20" width="5.73" height="2.40" fill="#fde725"/>
<rect x="426.21" y="84.00" width="5.73" height="2.40" fill="#fde725"/>
<rect x="426.21" y="93.60" width="5.73" height="2.40" fill="#fde725"/>
<rect x="426.21" y="98.40" width="5.73" height="2.40" fill="#fde725"/>
<rect x="426.21" y="103.20" width="5.73" height="12.00" fill="#fde725"/>
<rect x="426.21" y="117.60" width="5.73" height="2.40" fill="#fde725"/>
<rect x="426.21" y="122.40" width="5.73" height="88.80" fill="#fde725"/>
<rect x="426.21" y="211.20" width="5.73" height="2.40" fill="#f6e620"/>
<rect x="426.21" y="213.60" width="5.73" height="2.40" fill="#bddf26"/>
<rect x="426.21" y="216.00" width="5.73" height="2.40" fill="#34b679"/>
<rect x="426.21" y="218.40" width="5.73" height="2.40" fill="#1f988b"/>
<rect x="426.21" y="220.80" width="5.73" height="2.40" fill="#218f8d"/>
<rect x="426.21" y="223.20" width="5.73" height="2.40" fill="#2d708e"/>
<rect x="426.21" y="225.60" width="5.73" height="2.40" fill="#238a8d"/>
<rect x="426.21" y="228.00" width="5.73" height="2.40" fill="#56c667"/>
<rect x="426.21" y="230.40" width="5.73" height="2.40" fill="#cde11d"/>
<rect x="426.21" y="232.80" width="5.73" height="2.40" fill="#f6e620"/>
<rect x="431.94" y="64.80" width="5.73" height="2.40" fill="#fde725"/>
<rect x="431.94" y="74.40" width="5.73" height="2.40" fill="#fde725"/>
<rect x="431.94" y="79.20" width="5.73" height="2.40" fill="#fde725"/>
<rect x="431.94" y="84.00" width="5.73" height="2.40" fill="#fde725"/>
<rect x="431.94" y="93.60" width="5.73" height="2.40" fill="#fde725"/>
<rect x="431.94" y="98.40" width="5.73" height="2.40" fill="#fde725"/>
<rect x="431.94" y="103.20" width="5.73" height="12.00" fill="#fde725"/>
<rect x="431.94" y="117.60" width="5.73" height="93.60" fill="#fde725"/>
<rect x="431.94" y="211.20" width="5.73" height="2.40" fill="#f6e620"/>
<rect x="431.94" y="213.60" width="5.73" height="2.40" fill="#c5e021"/>
<rect x="431.94" y="216.00" width="5.73" height="2.40" fill="#3dbc74"/>
<rect x="431.94" y="218.40" width="5.73" height="2.40" fill="#1f998a"/>
<rect x="431.94" y="220.80" width="5.73" height="2.40" fill="#218e8d"/>
<rect x="431.94" y="223.20" width="5.73" height="2.40" fill="#2e6f8e"/>
<rect x="431.94" y="225.60" width="5.73" height="2.40" fill="#228c8d"/>
<rect x="431.94" y="228.00" width="5.73" height="2.40" fill="#5cc863"/>
<rect x="431.94" y="230.40" width="5.73" height="2.40" fill="#d0e11c"/>
<rect x="431.94" y="232.80" width="5.73" height="2.40" fill="#f8e621"/>
<rect x="437.67" y="69.60" width="5.73" height="2.40" fill="#fde725"/>
<rect x="437.67" y="74.40" width="5.73" height="2.40" fill="#fde725"/>
<rect x="437.67" y="84.00" width="5.73" height="2.40" fill="#fde725"/>
<rect x="437.67" y="93.60" width="5.73" height="2.40" fill="#fde725"/>
<rect x="437.67" y="98.40" width="5.73" height="2.40" fill="#fde725"/>
<rect x="437.67" y="103.20" width="5.73" height="12.00" fill="#fde725"/>
<rect x="437.67" y="120.00" width="5.73" height="88.80" fill="#fde725"/>
<rect x="437.67" y="208.80" width="5.73" height="2.40" fill="#f4e61e"/>
<rect x="437.67" y="211.20" width="5.73" height="2.40" fill="#e7e419"/>
<rect x="437.67" y="213.60" width="5.73" height="2.40" fill="#c8e020"/>
<rect x="437.67" y="216.00" width="5.73" height="2.40" fill="#40bd72"/>
<rect x="437.67" y="218.40" width="5.73" height="2.40" fill="#1f9a8a"/>
<rect x="437.67" y="220.80" width="5.73" height="2.40" fill="#228d8d"/>
<rect x="437.67" y="223.20" width="5.73" height="2.40" fill="#2e6e8e"/>
<rect x="437.67" y="225.60" width="5.73" height="2.40" fill="#228c8d"/>
<rect x="437.67" y="228.00" width="5.73" height="2.40" fill="#5cc863"/>
<rect x="437.67" y="230.40" width="5.73" height="2.40" fill="#d2e21b"/>
<rect x="437.67" y="232.80" width="5.73" height="2.40" fill="#f8e621"/>
<rect x="443.41" y="67.20" width="5.73" height="2.40" fill="#fde725"/>
<rect x="443.41" y="72.00" width="5.73" height="2.40" fill="#fde725"/>
<rect x="443.41" y="81.60" width="5.73" height="2.40" fill="#fde725"/>
<rect x="443.41" y="91.20" width="5.73" height="2.40" fill="#fde725"/>
<rect x="443.41" y="96.00" width="5.73" height="2.40" fill="#fde725"/>
<rect x="443.41" y="105.60" width="5.73" height="7.20" fill="#fde725"/>
<rect x="443.41" y="117.60" width="5.73" height="4.80" fill="#fde725"/>
<rect x="443.41" y="124.80" width="5.73" height="2.40" fill="#fde725"/>
<rect x="443.41" y="129.60" width="5.73" height="74.40" fill="#fde725"/>
<rect x="443.41" y="204.00" width="5.73" height="2.40" fill="#fbe723"/>
<rect x="443.41" y="206.40" width="5.73" height="2.40" fill="#f4e61e"/>
<rect x="443.41" y="208.80" width="5.73" height="2.40" fill="#e7e419"/>
<rect x="443.41" y="211.20" width="5.73" height="2.40" fill="#d8e219"/>
<rect x="443.41" y="213.60" width="5.73" height="2.40" fill="#c5e021"/>
<rect x="443.41" y="216.00" width="5.73" height="2.40" fill="#40bd72"/>
<rect x="443.41" y="218.40" width="5.73" height="2.40" fill="#1f998a"/>
<rect x="443.41" y="220.80" width="5.73" height="2.40" fill="#228d8d"/>
<rect x="443.41" y="223.20" width="5.73" height="2.40" fill="#2e6d8e"/>
<rect x="443.41" y="225.60" width="5.73" height="2.40" fill="#228b8d"/>
<rect x="443.41" y="228.00" width="5.73" height="2.40" fill="#5ac864"/>
<rect x="443.41" y="230.40" width="5.73" height="2.40" fill="#d0e11c"/>
<rect x="443.41" y="232.80" width="5.73" height="2.40" fill="#f8e621"/>
<rect x="449.14" y="67.20" width="5.73" height="2.40" fill="#fde725"/>
<rect x="449.14" y="72.00" width="5.73" height="2.40" fill="#fde725"/>
<rect x="449.14" y="76.80" width="5.73" height="2.40" fill="#fde725"/>
<rect x="449.14" y="96.00" width="5.73" height="2.40" fill="#fde725"/>
<rect x="449.14" y="105.60" width="5.73" height="2.40" fill="#fde725"/>
<rect x="449.14" y="110.40" width="5.73" height="2.40" fill="#fde725"/>
<rect x="449.14" y="115.20" width="5.73" height="7.20" fill="#fde725"/>
<rect x="449.14" y="124.80" width="5.73" height="7.20" fill="#fde725"/>
<rect x="449.14" y="134.40" width="5.73" height="2.40" fill="#fde725"/>
<rect x="449.14" y="139.20" width="5.73" height="62.40" fill="#fde725"/>
<rect x="449.14" y="201.60" width="5.73" height="2.40" fill="#fbe723"/>
<rect x="449.14" y="204.00" width="5.73" height="2.40" fill="#f4e61e"/>
<rect x="449.14" y="206.40" width="5.73" height="2.40" fill="#e7e419"/>
<rect x="449.14" y="208.80" width="5.73" height="2.40" fill="#d8e219"/>
<rect x="449.14" y="211.20" width="5.73" height="2.40" fill="#c8e020"/>
<rect x="449.14" y="213.60" width="5.73" height="2.40" fill="#b5de2b"/>
<rect x="449.14" y="216.00" width="5.73" height="2.40" fill="#40bd72"/>
<rect x="449.14" y="218.40" width="5.73" height="2.40" fill="#1f998a"/>
<rect x="449.14" y="220.80" width="5.73" height="2.40" fill="#228c8d"/>
<rect x="449.14" y="223.20" width="5.73" height="2.40" fill="#2f6c8e"/>
<rect x="449.14" y="225.60" width="5.73" height="2.40" fill="#23898e"/>
<rect x="449.14" y="228.00" width="5.73" height="2.40" fill="#58c765"/>
<rect x="449.14" y="230.40" width="5.73" height="2.40" fill="#d0e11c"/>
<rect x="449.14" y="232.80" width="5.73" height="2.40" fill="#f8e621"/>
<rect x="454.87" y="67.20" width="5.73" height="2.40" fill="#fde725"/>
<rect x="454.87" y="72.00" width="5.73" height="2.40" fill="#fde725"/>
<rect x="454.87" y="76.80" width="5.73" height="2.40" fill="#fde725"/>
<rect x="454.87" y="81.60" width="5.73" height="2.40" fill="#fde725"/>
<rect x="454.87" y="96.00" width="5.73" height="2.40" fill="#fde725"/>
<rect x="454.87" y="100.80" width="5.73" height="2.40" fill="#fde725"/>
<rect x="454.87" y="105.60" width="5.73" height="2.40" fill="#fde725"/>
<rect x="454.87" y="110.40" width="5.73" height="2.40" fill="#fde725"/>
<rect x="454.87" y="115.20" width="5.73" height="2.40" fill="#fde725"/>
<rect x="454.87" y="120.00" width="5.73" height="79.20" fill="#fde725"/>
<rect x="454.87" y="199.20" width="5.73" height="2.40" fill="#fbe723"/>
<rect x="454.87" y="201.60" width="5.73" height="2.40" fill="#f4e61e"/>
<rect x="454.87" y="204.00" width="5.73" height="2.40" fill="#e7e419"/>
<rect x="454.87" y="206.40" width="5.73" height="2.40" fill="#dae319"/>
<rect x="454.87" y="208.80" width="5.73" height="2.40" fill="#cae11f"/>
<rect x="454.87" y="211.20" width="5.73" height="2.40" fill="#bade28"/>
<rect x="454.87" y="213.60" width="5.73" height="2.40" fill="#a8db34"/>
<rect x="454.87" y="216.00" width="5.73" height="2.40" fill="#40bd72"/>
<rect x="454.87" y="218.40" width="5.73" height="2.40" fill="#1f998a"/>
<rect x="454.87" y="220.80" width="5.73" height="2.40" fill="#228c8d"/>
<rect x="454.87" y="223.20" width="5.73" height="2.40" fill="#2f6b8e"/>
<rect x="454.87" y="225.60" width="5.73" height="2.40" fill="#23888e"/>
<rect x="454.87" y="228.00" width="5.73" height="2.40" fill="#56c667"/>
<rect x="454.87" y="230.40" width="5.73" height="2.40" fill="#d0e11c"/>
<rect x="454.87" y="232.80" width="5.73" height="2.40" fill="#f8e621"/>
<rect x="460.61" y="67.20" width="5.73" height="2.40" fill="#fde725"/>
<rect x="460.61" y="72.00" width="5.73" height="2.40" fill="#fde725"/>
<rect x="460.61" y="76.80" width="5.73" height="2.40" fill="#fde725"/>
<rect x="460.61" y="81.60" width="5.73" height="2.40" fill="#fde725"/>
<rect x="460.61" y="86.40" width="5.73" height="2.40" fill="#fde725"/>
<rect x="460.61" y="91.20" width="5.73" height="2.40" fill="#fde725"/>
<rect x="460.61" y="96.00" width="5.73" height="2.40" fill="#fde725"/>
<rect x="460.61" y="100.80" width="5.73" height="2.40" fill="#fde725"/>
<rect x="460.61" y="105.60" width="5.73" height="2.40" fill="#fde725"/>
<rect x="460.61" y="110.40" width="5.73" height="7.20" fill="#fde725"/>
<rect x="460.61" y="120.00" width="5.73" height="7.20" fill="#fde725"/>
<rect x="460.61" y="129.60" width="5.73" height="67.20" fill="#fde725"/>
<rect x="460.61" y="196.80" width="5.73" height="2.40" fill="#fbe723"/>
<rect x="460.61" y="199.20" width="5.73" height="2.40" fill="#f4e61e"/>
<rect x="460.61" y="201.60" width="5.73" height="2.40" fill="#eae51a"/>
<rect x="460.61" y="204.00" width="5.73" height="2.40" fill="#dde318"/>
<rect x="460.61" y="206.40" width="5.73" height="2.40" fill="#cde11d"/>
<rect x="460.61" y="208.80" width="5.73" height="2.40" fill="#bddf26"/>
<rect x="460.61" y="211.20" width="5.73" height="2.40" fill="#aadc32"/>
<rect x="460.61" y="213.60" width="5.73" height="2.40" fill="#98d83e"/>
<rect x="460.61" y="216.00" width="5.73" height="2.40" fill="#40bd72"/>
<rect x="460.61" y="218.40" width="5.73" height="2.40" fill="#1f988b"/>
<rect x="460.61" y="220.80" width="5.73" height="2.40" fill="#228b8d"/>
<rect x="460.61" y="223.20" width="5.73" height="2.40" fill="#30698e"/>
<rect x="460.61" y="225.60" width="5.73" height="2.40" fill="#24878e"/>
<rect x="460.61" y="228.00" width="5.73" height="2.40" fill="#56c667"/>
<rect x="460.61" y="230.40" width="5.73" height="2.40" fill="#d0e11c"/>
<rect x="460.61" y="232.80" width="5.73" height="2.40" fill="#f6e620"/>
<rect x="466.34" y="62.40" width="5.73" height="2.40" fill="#fde725"/>
<rect x="466.34" y="67.20" width="5.73" height="2.40" fill="#fde725"/>
<rect x="466.34" y="76.80" width="5.73" height="2.40" fill="#fde725"/>
<rect x="466.34" y="81.60" width="5.73" height="2.40" fill="#fde725"/>
<rect x="466.34" y="86.40" width="5.73" height="2.40" fill="#fde725"/>
<rect x="466.34" y="91.20" width="5.73" height="2.40" fill="#fde725"/>
<rect x="466.34" y="96.00" width="5.73" height="2.40" fill="#fde725"/>
<rect x="466.34" y="105.60" width="5.73" height="2.40" fill="#fde725"/>
<rect x="466.34" y="110.40" width="5.73" height="7.20" fill="#fde725"/>
<rect x="466.34" y="120.00" width="5.73" height="2.40" fill="#fde725"/>
<rect x="466.34" y="124.80" width="5.73" height="2.40" fill="#fde725"/>
<rect x="466.34" y="129.60" width="5.73" height="9.60" fill="#fde725"/>
<rect x="466.34" y="141.60" width="5.73" height="52.80" fill="#fde725"/>
<rect x="466.34" y="194.40" width="5.73" height="2.40" fill="#fbe723"/>
<rect x="466.34" y="196.80" width="5.73" height="2.40" fill="#f4e61e"/>
<rect x="466.34" y="199.20" width="5.73" height="2.40" fill="#eae51a"/>
<rect x="466.34" y="201.60" width="5.73" height="2.40" fill="#dde318"/>
<rect x="466.34" y="204.00" width="5.73" height="2.40" fill="#d0e11c"/>
<rect x="466.34" y="206.40" width="5.73" height="2.40" fill="#c0df25"/>
<rect x="466.34" y="208.80" width="5.73" height="2.40" fill="#addc30"/>
<rect x="466.34" y="211.20" width="5.73" height="2.40" fill="#9dd93b"/>
<rect x="466.34" y="213.60" width="5.73" height="2.40" fill="#8bd646"/>
<rect x="466.34" y="216.00" width="5.73" height="2.40" fill="#40bd72"/>
<rect x="466.34" y="218.40" width="5.73" height="2.40" fill="#1f988b"/>
<rect x="466.34" y="220.80" width="5.73" height="2.40" fill="#238a8d"/>
<rect x="466.34" y="223.20" width="5.73" height="2.40" fill="#31688e"/>
<rect x="466.34" y="225.60" width="5.73" height="2.40" fill="#24868e"/>
<rect x="466.34" y="228.00" width="5.73" height="2.40" fill="#54c568"/>
<rect x="466.34" y="230.40" width="5.73" height="2.40" fill="#cde11d"/>
<rect x="472.07" y="74.40" width="5.73" height="2.40" fill="#fde725"/>
<rect x="472.07" y="79.20" width="5.73" height="2.40" fill="#fde725"/>
<rect x="472.07" y="93.60" width="5.73" height="2.40" fill="#fde725"/>
<rect x="472.07" y="112.80" width="5.73" height="2.40" fill="#fde725"/>
<rect x="472.07" y="117.60" width="5.73" height="2.40" fill="#fde725"/>
<rect x="472.07" y="122.40" width="5.73" height="69.60" fill="#fde725"/>
<rect x="472.07" y="192.00" width="5.73" height="2.40" fill="#fbe723"/>
<rect x="472.07" y="194.40" width="5.73" height="2.40" fill="#f4e61e"/>
<rect x="472.07" y="196.80" width="5.73" height="2.40" fill="#eae51a"/>
<rect x="472.07" y="199.20" width="5.73" height="2.40" fill="#dde318"/>
<rect x="472.07" y="201.60" width="5.73" height="2.40" fill="#d0e11c"/>
<rect x="472.07" y="204.00" width="5.73" height="2.40" fill="#c0df25"/>
<rect x="472.07" y="206.40" width="5.73" height="2.40" fill="#b0dd2f"/>
<rect x="472.07" y="208.80" width="5.73" height="2.40" fill="#a0da39"/>
<rect x="472.07" y="211.20" width="5.73" height="2.40" fill="#8ed645"/>
<rect x="472.07" y="213.60" width="5.73" height="2.40" fill="#7cd250"/>
<rect x="472.07" y="216.00" width="5.73" height="2.40" fill="#40bd72"/>
<rect x="472.07" y="218.40" width="5.73" height="2.40" fill="#1f978b"/>
<rect x="472.07" y="220.80" width="5.73" height="2.40" fill="#23898e"/>
<rect x="472.07" y="223.20" width="5.73" height="2.40" fill="#31668e"/>
<rect x="472.07" y="225.60" width="5.73" height="2.40" fill="#25848e"/>
<rect x="472.07" y="228.00" width="5.73" height="2.40" fill="#50c46a"/>
<rect x="472.07" y="230.40" width="5.73" height="2.40" fill="#cde11d"/>
<rect x="477.81" y="69.60" width="5.73" height="2.40" fill="#fde725"/>
<rect x="477.81" y="74.40" width="5.73" height="2.40" fill="#fde725"/>
<rect x="477.81" y="79.20" width="5.73" height="2.40" fill="#fde725"/>
<rect x="477.81" y="93.60" width="5.73" height="2.40" fill="#fde725"/>
<rect x="477.81" y="112.80" width="5.73" height="2.40" fill="#fde725"/>
<rect x="477.81" y="117.60" width="5.73" height="2.40" fill="#fde725"/>
<rect x="477.81" y="122.40" width="5.73" height="67.20" fill="#fde725"/>
<rect x="477.81" y="189.60" width="5.73" height="2.40" fill="#fbe723"/>
<rect x="477.81" y="192.00" width="5.73" height="2.40" fill="#f6e620"/>
<rect x="477.81" y="194.40" width="5.73" height="2.40" fill="#ece51b"/>
<rect x="477.81" y="196.80" width="5.73" height="2.40" fill="#dfe318"/>
<rect x="477.81" y="199.20" width="5.73" height="2.40" fill="#d2e21b"/>
<rect x="477.81" y="201.60" width="5.73" height="2.40" fill="#c5e021"/>
<rect x="477.81" y="204.00" width="5.73" height="2.40" fill="#b5de2b"/>
<rect x="477.81" y="206.40" width="5.73" height="2.40" fill="#a5db36"/>
<rect x="477.81" y="208.80" width="5.73" height="2.40" fill="#93d741"/>
<rect x="477.81" y="211.20" width="5.73" height="2.40" fill="#81d34d"/>
<rect x="477.81" y="213.60" width="5.73" height="2.40" fill="#70cf57"/>
<rect x="477.81" y="216.00" width="5.73" height="2.40" fill="#42be71"/>
<rect x="477.81" y="218.40" width="5.73" height="2.40" fill="#1f968b"/>
<rect x="477.81" y="220.80" width="5.73" height="2.40" fill="#23888e"/>
<rect x="477.81" y="223.20" width="5.73" height="2.40" fill="#33638d"/>
<rect x="477.81" y="225.60" width="5.73" height="2.40" fill="#2a788e"/>
<rect x="477.81" y="228.00" width="5.73" height="2.40" fill="#4cc26c"/>
<rect x="477.81" y="230.40" width="5.73" height="2.40" fill="#cae11f"/>
<rect x="483.54" y="69.60" width="5.73" height="2.40" fill="#fde725"/>
<rect x="483.54" y="74.40" width="5.73" height="2.40" fill="#fde725"/>
<rect x="483.54" y="84.00" width="5.73" height="2.40" fill="#fde725"/>
<rect x="483.54" y="88.80" width="5.73" height="2.40" fill="#fde725"/>
<rect x="483.54" y="93.60" width="5.73" height="2.40" fill="#fde725"/>
<rect x="483.54" y="103.20" width="5.73" height="2.40" fill="#fde725"/>
<rect x="483.54" y="108.00" width="5.73" height="2.40" fill="#fde725"/>
<rect x="483.54" y="117.60" width="5.73" height="2.40" fill="#fde725"/>
<rect x="483.54" y="122.40" width="5.73" height="4.80" fill="#fde725"/>
<rect x="483.54" y="129.60" width="5.73" height="9.60" fill="#fde725"/>
<rect x="483.54" y="141.60" width="5.73" height="48.00" fill="#fde725"/>
<rect x="483.54" y="189.60" width="5.73" height="2.40" fill="#fbe723"/>
<rect x="483.54" y="192.00" width="5.73" height="2.40" fill="#f4e61e"/>
<rect x="483.54" y="194.40" width="5.73" height="2.40" fill="#eae51a"/>
<rect x="483.54" y="196.80" width="5.73" height="2.40" fill="#dfe318"/>
<rect x="483.54" y="199.20" width="5.73" height="2.40" fill="#d2e21b"/>
<rect x="483.54" y="201.60" width="5.73" height="2.40" fill="#c2df23"/>
<rect x="483.54" y="204.00" width="5.73" height="2.40" fill="#b5de2b"/>
<rect x="483.54" y="206.40" width="5.73" height="2.40" fill="#a5db36"/>
<rect x="483.54" y="208.80" width="5.73" height="2.40" fill="#93d741"/>
<rect x="483.54" y="211.20" width="5.73" height="2.40" fill="#84d44b"/>
<rect x="483.54" y="213.60" width="5.73" height="2.40" fill="#73d056"/>
<rect x="483.54" y="216.00" width="5.73" height="2.40" fill="#46c06f"/>
<rect x="483.54" y="218.40" width="5.73" height="2.40" fill="#20938c"/>
<rect x="483.54" y="220.80" width="5.73" height="2.40" fill="#25838e"/>
<rect x="483.54" y="223.20" width="5.73" height="2.40" fill="#443b84"/>
<rect x="483.54" y="225.60" width="5.73" height="2.40" fill="#2d708e"/>
<rect x="483.54" y="228.00" width="5.73" height="2.40" fill="#4ac16d"/>
<rect x="483.54" y="230.40" width="5.73" height="2.40" fill="#cae11f"/>
<rect x="489.27" y="69.60" width="5.73" height="2.40" fill="#fde725"/>
<rect x="489.27" y="84.00" width="5.73" height="2.40" fill="#fde725"/>
<rect x="489.27" y="88.80" width="5.73" height="2.40" fill="#fde725"/>
<rect x="489.27" y="93.60" width="5.73" height="2.40" fill="#fde725"/>
<rect x="489.27" y="98.40" width="5.73" height="2.40" fill="#fde725"/>
<rect x="489.27" y="103.20" width="5.73" height="2.40" fill="#fde725"/>
<rect x="489.27" y="108.00" width="5.73" height="2.40" fill="#fde725"/>
<rect x="489.27" y="117.60" width="5.73" height="9.60" fill="#fde725"/>
<rect x="489.27" y="129.60" width="5.73" height="2.40" fill="#fde725"/>
<rect x="489.27" y="134.40" width="5.73" height="55.20" fill="#fde725"/>
<rect x="489.27" y="189.60" width="5.73" height="2.40" fill="#fbe723"/>
<rect x="489.27" y="192.00" width="5.73" height="2.40" fill="#f4e61e"/>
<rect x="489.27" y="194.40" width="5.73" height="2.40" fill="#eae51a"/>
<rect x="489.27" y="196.80" width="5.73" height="2.40" fill="#dde318"/>
<rect x="489.27" y="199.20" width="5.73" height="2.40" fill="#d2e21b"/>
<rect x="489.27" y="201.60" width="5.73" height="2.40" fill="#c2df23"/>
<rect x="489.27" y="204.00" width="5.73" height="2.40" fill="#b5de2b"/>
<rect x="489.27" y="206.40" width="5.73" height="2.40" fill="#a5db36"/>
<rect x="489.27" y="208.80" width="5.73" height="2.40" fill="#95d840"/>
<rect x="489.27" y="211.20" width="5.73" height="2.40" fill="#86d549"/>
<rect x="489.27" y="213.60" width="5.73" height="2.40" fill="#75d054"/>
<rect x="489.27" y="216.00" width="5.73" height="2.40" fill="#50c46a"/>
<rect x="489.27" y="218.40" width="5.73" height="2.40" fill="#218f8d"/>
<rect x="489.27" y="220.80" width="5.73" height="2.40" fill="#277e8e"/>
<rect x="489.27" y="223.20" width="5.73" height="2.40" fill="#440154"/>
<rect x="489.27" y="225.60" width="5.73" height="2.40" fill="#2e6f8e"/>
<rect x="495.01" y="64.80" width="5.73" height="2.40" fill="#fde725"/>
<rect x="495.01" y="69.60" width="5.73" height="2.40" fill="#fde725"/>
<rect x="495.01" y="93.60" width="5.73" height="2.40" fill="#fde725"/>
<rect x="495.01" y="98.40" width="5.73" height="2.40" fill="#fde725"/>
<rect x="495.01" y="103.20" width="5.73" height="2.40" fill="#fde725"/>
<rect x="495.01" y="108.00" width="5.73" height="2.40" fill="#fde725"/>
<rect x="495.01" y="112.80" width="5.73" height="2.40" fill="#fde725"/>
<rect x="495.01" y="117.60" width="5.73" height="72.00" fill="#fde725"/>
<rect x="495.01" y="189.60" width="5.73" height="2.40" fill="#f8e621"/>
<rect x="495.01" y="192.00" width="5.73" height="2.40" fill="#f1e51d"/>
<rect x="495.01" y="194.40" width="5.73" height="2.40" fill="#e7e419"/>
<rect x="495.01" y="196.80" width="5.73" height="2.40" fill="#dde318"/>
<rect x="495.01" y="199.20" width="5.73" height="2.40" fill="#d0e11c"/>
<rect x="495.01" y="201.60" width="5.73" height="2.40" fill="#c2df23"/>
<rect x="495.01" y="204.00" width="5.73" height="2.40" fill="#b5de2b"/>
<rect x="495.01" y="206.40" width="5.73" height="2.40" fill="#a8db34"/>
<rect x="495.01" y="208.80" width="5.73" height="2.40" fill="#98d83e"/>
<rect x="495.01" y="211.20" width="5.73" height="2.40" fill="#89d548"/>
<rect x="495.01" y="213.60" width="5.73" height="2.40" fill="#7ad151"/>
<rect x="495.01" y="216.00" width="5.73" height="2.40" fill="#5cc863"/>
<rect x="495.01" y="218.40" width="5.73" height="2.40" fill="#218e8d"/>
<rect x="495.01" y="220.80" width="5.73" height="2.40" fill="#29798e"/>
<rect x="495.01" y="223.20" width="5.73" height="2.40" fill="#440154"/>
<rect x="495.01" y="225.60" width="5.73" height="2.40" fill="#2c738e"/>
<rect x="500.74" y="67.20" width="5.73" height="2.40" fill="#fde725"/>
<rect x="500.74" y="91.20" width="5.73" height="2.40" fill="#fde725"/>
<rect x="500.74" y="96.00" width="5.73" height="2.40" fill="#fde725"/>
<rect x="500.74" y="100.80" width="5.73" height="2.40" fill="#fde725"/>
<rect x="500.74" y="105.60" width="5.73" height="2.40" fill="#fde725"/>
<rect x="500.74" y="110.40" width="5.73" height="2.40" fill="#fde725"/>
<rect x="500.74" y="115.20" width="5.73" height="2.40" fill="#fde725"/>
<rect x="500.74" y="120.00" width="5.73" height="69.60" fill="#fde725"/>
<rect x="500.74" y="189.60" width="5.73" height="2.40" fill="#f8e621"/>
<rect x="500.74" y="192.00" width="5.73" height="2.40" fill="#f1e51d"/>
<rect x="500.74" y="194.40" width="5.73" height="2.40" fill="#e7e419"/>
<rect x="500.74" y="196.80" width="5.73" height="2.40" fill="#dde318"/>
<rect x="500.74" y="199.20" width="5.73" height="2.40" fill="#d0e11c"/>
<rect x="500.74" y="201.60" width="5.73" height="2.40" fill="#c2df23"/>
<rect x="500.74" y="204.00" width="5.73" height="2.40" fill="#b5de2b"/>
<rect x="500.74" y="206.40" width="5.73" height="2.40" fill="#a8db34"/>
<rect x="500.74" y="208.80" width="5.73" height="2.40" fill="#98d83e"/>
<rect x="500.74" y="211.20" width="5.73" height="2.40" fill="#89d548"/>
<rect x="500.74" y="213.60" width="5.73" height="2.40" fill="#7ad151"/>
<rect x="500.74" y="216.00" width="5.73" height="2.40" fill="#67cc5c"/>
<rect x="500.74" y="218.40" width="5.73" height="2.40" fill="#1f948c"/>
<rect x="500.74" y="220.80" width="5.73" height="2.40" fill="#3c4f8a"/>
<rect x="500.74" y="223.20" width="5.73" height="2.40" fill="#440154"/>
<rect x="500.74" y="225.60" width="5.73" height="2.40" fill="#20938c"/>
<rect x="506.47" y="67.20" width="5.73" height="2.40" fill="#fde725"/>
<rect x="506.47" y="72.00" width="5.73" height="2.40" fill="#fde725"/>
<rect x="506.47" y="76.80" width="5.73" height="2.40" fill="#fde725"/>
<rect x="506.47" y="86.40" width="5.73" height="2.40" fill="#fde725"/>
<rect x="506.47" y="91.20" width="5.73" height="2.40" fill="#fde725"/>
<rect x="506.47" y="96.00" width="5.73" height="2.40" fill="#fde725"/>
<rect x="506.47" y="105.60" width="5.73" height="2.40" fill="#fde725"/>
<rect x="506.47" y="115.20" width="5.73" height="2.40" fill="#fde725"/>
<rect x="506.47" y="120.00" width="5.73" height="2.40" fill="#fde725"/>
<rect x="506.47" y="127.20" width="5.73" height="2.40" fill="#fde725"/>
<rect x="506.47" y="132.00" width="5.73" height="57.60" fill="#fde725"/>
<rect x="506.47" y="189.60" width="5.73" height="2.40" fill="#f6e620"/>
<rect x="506.47" y="192.00" width="5.73" height="2.40" fill="#efe51c"/>
<rect x="506.47" y="194.40" width="5.73" height="2.40" fill="#e5e419"/>
<rect x="506.47" y="196.80" width="5.73" height="2.40" fill="#dae319"/>
<rect x="506.47" y="199.20" width="5.73" height="2.40" fill="#cde11d"/>
<rect x="506.47" y="201.60" width="5.73" height="2.40" fill="#c2df23"/>
<rect x="506.47" y="204.00" width="5.73" height="2.40" fill="#b2dd2d"/>
<rect x="506.47" y="206.40" width="5.73" height="2.40" fill="#a5db36"/>
<rect x="506.47" y="208.80" width="5.73" height="2.40" fill="#95d840"/>
<rect x="506.47" y="211.20" width="5.73" height="2.40" fill="#86d549"/>
<rect x="506.47" y="213.60" width="5.73" height="2.40" fill="#77d153"/>
<rect x="506.47" y="216.00" width="5.73" height="2.40" fill="#50c46a"/>
<rect x="506.47" y="218.40" width="5.73" height="2.40" fill="#1e9b8a"/>
<rect x="506.47" y="220.80" width="5.73" height="4.80" fill="#440154"/>
<rect x="506.47" y="225.60" width="5.73" height="2.40" fill="#44bf70"/>
<rect x="512.21" y="67.20" width="5.73" height="2.40" fill="#fde725"/>
<rect x="512.21" y="72.00" width="5.73" height="2.40" fill="#fde725"/>
<rect x="512.21" y="76.80" width="5.73" height="2.40" fill="#fde725"/>
<rect x="512.21" y="86.40" width="5.73" height="2.40" fill="#fde725"/>
<rect x="512.21" y="96.00" width="5.73" height="2.40" fill="#fde725"/>
<rect x="512.21" y="105.60" width="5.73" height="2.40" fill="#fde725"/>
<rect x="512.21" y="115.20" width="5.73" height="7.20" fill="#fde725"/>
<rect x="512.21" y="127.20" width="5.73" height="2.40" fill="#fde725"/>
<rect x="512.21" y="132.00" width="5.73" height="4.80" fill="#fde725"/>
<rect x="512.21" y="139.20" width="5.73" height="48.00" fill="#fde725"/>
<rect x="512.21" y="187.20" width="5.73" height="2.40" fill="#fbe723"/>
<rect x="512.21" y="189.60" width="5.73" height="2.40" fill="#f6e620"/>
<rect x="512.21" y="192.00" width="5.73" height="2.40" fill="#ece51b"/>
<rect x="512.21" y="194.40" width="5.73" height="2.40" fill="#e2e418"/>
<rect x="512.21" y="196.80" width="5.73" height="2.40" fill="#d8e219"/>
<rect x="512.21" y="199.20" width="5.73" height="2.40" fill="#cde11d"/>
<rect x="512.21" y="201.60" width="5.73" height="2.40" fill="#c0df25"/>
<rect x="512.21" y="204.00" width="5.73" height="2.40" fill="#b0dd2f"/>
<rect x="512.21" y="206.40" width="5.73" height="2.40" fill="#a2da37"/>
<rect x="512.21" y="208.80" width="5.73" height="2.40" fill="#93d741"/>
<rect x="512.21" y="211.20" width="5.73" height="2.40" fill="#84d44b"/>
<rect x="512.21" y="213.60" width="5.73" height="2.40" fill="#75d054"/>
<rect x="512.21" y="216.00" width="5.73" height="2.40" fill="#3dbc74"/>
<rect x="512.21" y="218.40" width="5.73" height="2.40" fill="#31678e"/>
<rect x="512.21" y="220.80" width="5.73" height="2.40" fill="#440154"/>
<rect x="512.21" y="223.20" width="5.73" height="2.40" fill="#3b518b"/>
<rect x="512.21" y="225.60" width="5.73" height="2.40" fill="#8bd646"/>
<rect x="517.94" y="64.80" width="5.73" height="2.40" fill="#fde725"/>
<rect x="517.94" y="69.60" width="5.73" height="2.40" fill="#fde725"/>
<rect x="517.94" y="74.40" width="5.73" height="2.40" fill="#fde725"/>
<rect x="517.94" y="79.20" width="5.73" height="2.40" fill="#fde725"/>
<rect x="517.94" y="84.00" width="5.73" height="2.40" fill="#fde725"/>
<rect x="517.94" y="98.40" width="5.73" height="2.40" fill="#fde725"/>
<rect x="517.94" y="103.20" width="5.73" height="2.40" fill="#fde725"/>
<rect x="517.94" y="108.00" width="5.73" height="2.40" fill="#fde725"/>
<rect x="517.94" y="117.60" width="5.73" height="69.60" fill="#fde725"/>
<rect x="517.94" y="187.20" width="5.73" height="2.40" fill="#fbe723"/>
<rect x="517.94" y="189.60" width="5.73" height="2.40" fill="#f4e61e"/>
<rect x="517.94" y="192.00" width="5.73" height="2.40" fill="#ece51b"/>
<rect x="517.94" y="194.40" width="5.73" height="2.40" fill="#e2e418"/>
<rect x="517.94" y="196.80" width="5.73" height="2.40" fill="#d8e219"/>
<rect x="517.94" y="199.20" width="5.73" height="2.40" fill="#cae11f"/>
<rect x="517.94" y="201.60" width="5.73" height="2.40" fill="#bddf26"/>
<rect x="517.94" y="204.00" width="5.73" height="2.40" fill="#b0dd2f"/>
<rect x="517.94" y="206.40" width="5.73" height="2.40" fill="#a0da39"/>
<rect x="517.94" y="208.80" width="5.73" height="2.40" fill="#93d741"/>
<rect x="517.94" y="211.20" width="5.73" height="2.40" fill="#84d44b"/>
<rect x="517.94" y="213.60" width="5.73" height="2.40" fill="#75d054"/>
<rect x="517.94" y="216.00" width="5.73" height="2.40" fill="#3dbc74"/>
<rect x="517.94" y="218.40" width="5.73" height="4.80" fill="#440154"/>
<rect x="517.94" y="223.20" width="5.73" height="2.40" fill="#2eb37c"/>
<rect x="517.94" y="225.60" width="5.73" height="2.40" fill="#addc30"/>
<rect x="523.67" y="67.20" width="5.73" height="2.40" fill="#fde725"/>
<rect x="523.67" y="72.00" width="5.73" height="2.40" fill="#fde725"/>
<rect x="523.67" y="76.80" width="5.73" height="2.40" fill="#fde725"/>
<rect x="523.67" y="81.60" width="5.73" height="2.40" fill="#fde725"/>
<rect x="523.67" y="86.40" width="5.73" height="2.40" fill="#fde725"/>
<rect x="523.67" y="96.00" width="5.73" height="2.40" fill="#fde725"/>
<rect x="523.67" y="105.60" width="5.73" height="2.40" fill="#fde725"/>
<rect x="523.67" y="110.40" width="5.73" height="2.40" fill="#fde725"/>
<rect x="523.67" y="117.60" width="5.73" height="4.80" fill="#fde725"/>
<rect x="523.67" y="124.80" width="5.73" height="9.60" fill="#fde725"/>
<rect x="523.67" y="136.80" width="5.73" height="4.80" fill="#fde725"/>
<rect x="523.67" y="144.00" width="5.73" height="43.20" fill="#fde725"/>
<rect x="523.67" y="187.20" width="5.73" height="2.40" fill="#f8e621"/>
<rect x="523.67" y="189.60" width="5.73" height="2.40" fill="#f4e61e"/>
<rect x="523.67" y="192.00" width="5.73" height="2.40" fill="#eae51a"/>
<rect x="523.67" y="194.40" width="5.73" height="2.40" fill="#dfe318"/>
<rect x="523.67" y="196.80" width="5.73" height="2.40" fill="#d5e21a"/>
<rect x="523.67" y="199.20" width="5.73" height="2.40" fill="#c8e020"/>
<rect x="523.67" y="201.60" width="5.73" height="2.40" fill="#bade28"/>
<rect x="523.67" y="204.00" width="5.73" height="2.40" fill="#addc30"/>
<rect x="523.67" y="206.40" width="5.73" height="2.40" fill="#a0da39"/>
<rect x="523.67" y="208.80" width="5.73" height="2.40" fill="#90d743"/>
<rect x="523.67" y="211.20" width="5.73" height="2.40" fill="#81d34d"/>
<rect x="523.67" y="213.60" width="5.73" height="2.40" fill="#73d056"/>
<rect x="523.67" y="216.00" width="5.73" height="2.40" fill="#1f9e89"/>
<rect x="523.67" y="218.40" width="5.73" height="4.80" fill="#440154"/>
<rect x="523.67" y="223.20" width="5.73" height="2.40" fill="#5cc863"/>
<rect x="523.67" y="225.60" width="5.73" height="2.40" fill="#c5e021"/>
<rect x="529.41" y="79.20" width="5.73" height="2.40" fill="#fde725"/>
<rect x="529.41" y="84.00" width="5.73" height="2.40" fill="#fde725"/>
<rect x="529.41" y="88.80" width="5.73" height="2.40" fill="#fde725"/>
<rect x="529.41" y="93.60" width="5.73" height="2.40" fill="#fde725"/>
<rect x="529.41" y="98.40" width="5.73" height="2.40" fill="#fde725"/>
<rect x="529.41" y="108.00" width="5.73" height="2.40" fill="#fde725"/>
<rect x="529.41" y="112.80" width="5.73" height="2.40" fill="#fde725"/>
<rect x="529.41" y="117.60" width="5.73" height="7.20" fill="#fde725"/>
<rect x="529.41" y="127.20" width="5.73" height="9.60" fill="#fde725"/>
<rect x="529.41" y="139.20" width="5.73" height="2.40" fill="#fde725"/>
<rect x="529.41" y="144.00" width="5.73" height="43.20" fill="#fde725"/>
<rect x="529.41" y="187.20" width="5.73" height="2.40" fill="#fbe723"/>
<rect x="529.41" y="189.60" width="5.73" height="2.40" fill="#f4e61e"/>
<rect x="529.41" y="192.00" width="5.73" height="2.40" fill="#ece51b"/>
<rect x="529.41" y="194.40" width="5.73" height="2.40" fill="#e2e418"/>
<rect x="529.41" y="196.80" width="5.73" height="2.40" fill="#d8e219"/>
<rect x="529.41" y="199.20" width="5.73" height="2.40" fill="#cae11f"/>
<rect x="529.41" y="201.60" width="5.73" height="2.40" fill="#bddf26"/>
<rect x="529.41" y="204.00" width="5.73" height="2.40" fill="#b0dd2f"/>
<rect x="529.41" y="206.40" width="5.73" height="2.40" fill="#a2da37"/>
<rect x="529.41" y="208.80" width="5.73" height="2.40" fill="#93d741"/>
<rect x="529.41" y="211.20" width="5.73" height="2.40" fill="#84d44b"/>
<rect x="529.41" y="213.60" width="5.73" height="2.40" fill="#75d054"/>
<rect x="529.41" y="216.00" width="5.73" height="2.40" fill="#3d4d8a"/>
<rect x="529.41" y="218.40" width="5.73" height="2.40" fill="#440154"/>
<rect x="529.41" y="220.80" width="5.73" height="2.40" fill="#306a8e"/>
<rect x="529.41" y="223.20" width="5.73" height="2.40" fill="#7fd34e"/>
<rect x="529.41" y="225.60" width="5.73" height="2.40" fill="#d5e21a"/>
<rect x="535.14" y="81.60" width="5.73" height="2.40" fill="#fde725"/>
<rect x="535.14" y="86.40" width="5.73" height="2.40" fill="#fde725"/>
<rect x="535.14" y="91.20" width="5.73" height="2.40" fill="#fde725"/>
<rect x="535.14" y="96.00" width="5.73" height="2.40" fill="#fde725"/>
<rect x="535.14" y="100.80" width="5.73" height="2.40" fill="#fde725"/>
<rect x="535.14" y="110.40" width="5.73" height="2.40" fill="#fde725"/>
<rect x="535.14" y="115.20" width="5.73" height="2.40" fill="#fde725"/>
<rect x="535.14" y="120.00" width="5.73" height="2.40" fill="#fde725"/>
<rect x="535.14" y="124.80" width="5.73" height="64.80" fill="#fde725"/>
<rect x="535.14" y="189.60" width="5.73" height="2.40" fill="#fbe723"/>
<rect x="535.14" y="192.00" width="5.73" height="2.40" fill="#f4e61e"/>
<rect x="535.14" y="194.40" width="5.73" height="2.40" fill="#eae51a"/>
<rect x="535.14" y="196.80" width="5.73" height="2.40" fill="#dfe318"/>
<rect x="535.14" y="199.20" width="5.73" height="2.40" fill="#d5e21a"/>
<rect x="535.14" y="201.60" width="5.73" height="2.40" fill="#c8e020"/>
<rect x="535.14" y="204.00" width="5.73" height="2.40" fill="#bade28"/>
<rect x="535.14" y="206.40" width="5.73" height="2.40" fill="#addc30"/>
<rect x="535.14" y="208.80" width="5.73" height="2.40" fill="#9dd93b"/>
<rect x="535.14" y="211.20" width="5.73" height="2.40" fill="#90d743"/>
<rect x="535.14" y="213.60" width="5.73" height="2.40" fill="#81d34d"/>
<rect x="535.14" y="216.00" width="5.73" height="2.40" fill="#482374"/>
<rect x="535.14" y="218.40" width="5.73" height="2.40" fill="#440154"/>
<rect x="535.14" y="220.80" width="5.73" height="2.40" fill="#25848e"/>
<rect x="535.14" y="223.20" width="5.73" height="2.40" fill="#9dd93b"/>
<rect x="540.87" y="84.00" width="5.73" height="2.40" fill="#fde725"/>
<rect x="540.87" y="88.80" width="5.73" height="2.40" fill="#fde725"/>
<rect x="540.87" y="98.40" width="5.73" height="2.40" fill="#fde725"/>
<rect x="540.87" y="103.20" width="5.73" height="2.40" fill="#fde725"/>
<rect x="540.87" y="112.80" width="5.73" height="2.40" fill="#fde725"/>
<rect x="540.87" y="117.60" width="5.73" height="2.40" fill="#fde725"/>
<rect x="540.87" y="122.40" width="5.73" height="2.40" fill="#fde725"/>
<rect x="540.87" y="127.20" width="5.73" height="4.80" fill="#fde725"/>
<rect x="540.87" y="134.40" width="5.73" height="7.20" fill="#fde725"/>
<rect x="540.87" y="144.00" width="5.73" height="4.80" fill="#fde725"/>
<rect x="540.87" y="151.20" width="5.73" height="40.80" fill="#fde725"/>
<rect x="540.87" y="192.00" width="5.73" height="2.40" fill="#f8e621"/>
<rect x="540.87" y="194.40" width="5.73" height="2.40" fill="#f1e51d"/>
<rect x="540.87" y="196.80" width="5.73" height="2.40" fill="#eae51a"/>
<rect x="540.87" y="199.20" width="5.73" height="2.40" fill="#dde318"/>
<rect x="540.87" y="201.60" width="5.73" height="2.40" fill="#d2e21b"/>
<rect x="540.87" y="204.00" width="5.73" height="2.40" fill="#c5e021"/>
<rect x="540.87" y="206.40" width="5.73" height="2.40" fill="#b8de29"/>
<rect x="540.87" y="208.80" width="5.73" height="2.40" fill="#a8db34"/>
<rect x="540.87" y="211.20" width="5.73" height="2.40" fill="#9bd93c"/>
<rect x="540.87" y="213.60" width="5.73" height="2.40" fill="#8bd646"/>
<rect x="540.87" y="216.00" width="5.73" height="4.80" fill="#440154"/>
<rect x="540.87" y="220.80" width="5.73" height="2.40" fill="#1e9d89"/>
<rect x="540.87" y="223.20" width="5.73" height="2.40" fill="#bade28"/>
<rect x="546.61" y="91.20" width="5.73" height="2.40" fill="#fde725"/>
<rect x="546.61" y="100.80" width="5.73" height="2.40" fill="#fde725"/>
<rect x="546.61" y="105.60" width="5.73" height="2.40" fill="#fde725"/>
<rect x="546.61" y="115.20" width="5.73" height="2.40" fill="#fde725"/>
<rect x="546.61" y="120.00" width="5.73" height="14.40" fill="#fde725"/>
<rect x="546.61" y="136.80" width="5.73" height="4.80" fill="#fde725"/>
<rect x="546.61" y="146.40" width="5.73" height="2.40" fill="#fde725"/>
<rect x="546.61" y="151.20" width="5.73" height="7.20" fill="#fde725"/>
<rect x="546.61" y="160.80" width="5.73" height="33.60" fill="#fde725"/>
<rect x="546.61" y="194.40" width="5.73" height="2.40" fill="#f8e621"/>
<rect x="546.61" y="196.80" width="5.73" height="2.40" fill="#f1e51d"/>
<rect x="546.61" y="199.20" width="5.73" height="2.40" fill="#e7e419"/>
<rect x="546.61" y="201.60" width="5.73" height="2.40" fill="#dde318"/>
<rect x="546.61" y="204.00" width="5.73" height="2.40" fill="#d0e11c"/>
<rect x="546.61" y="206.40" width="5.73" height="2.40" fill="#c2df23"/>
<rect x="546.61" y="208.80" width="5.73" height="2.40" fill="#b5de2b"/>
<rect x="546.61" y="211.20" width="5.73" height="2.40" fill="#a5db36"/>
<rect x="546.61" y="213.60" width="5.73" height="2.40" fill="#95d840"/>
<rect x="546.61" y="216.00" width="5.73" height="4.80" fill="#440154"/>
<rect x="546.61" y="220.80" width="5.73" height="2.40" fill="#2db27d"/>
<rect x="546.61" y="223.20" width="5.73" height="2.40" fill="#d8e219"/>
<rect x="552.34" y="98.40" width="5.73" height="2.40" fill="#fde725"/>
<rect x="552.34" y="108.00" width="5.73" height="4.80" fill="#fde725"/>
<rect x="552.34" y="115.20" width="5.73" height="4.80" fill="#fde725"/>
<rect x="552.34" y="122.40" width="5.73" height="2.40" fill="#fde725"/>
<rect x="552.34" y="129.60" width="5.73" height="9.60" fill="#fde725"/>
<rect x="552.34" y="141.60" width="5.73" height="4.80" fill="#fde725"/>
<rect x="552.34" y="148.80" width="5.73" height="48.00" fill="#fde725"/>
<rect x="552.34" y="196.80" width="5.73" height="2.40" fill="#f8e621"/>
<rect x="552.34" y="199.20" width="5.73" height="2.40" fill="#efe51c"/>
<rect x="552.34" y="201.60" width="5.73" height="2.40" fill="#e5e419"/>
<rect x="552.34" y="204.00" width="5.73" height="2.40" fill="#dae319"/>
<rect x="552.34" y="206.40" width="5.73" height="2.40" fill="#cde11d"/>
<rect x="552.34" y="208.80" width="5.73" height="2.40" fill="#c0df25"/>
<rect x="552.34" y="211.20" width="5.73" height="2.40" fill="#b0dd2f"/>
<rect x="552.34" y="213.60" width="5.73" height="2.40" fill="#56c667"/>
<rect x="552.34" y="216.00" width="5.73" height="4.80" fill="#440154"/>
<rect x="552.34" y="220.80" width="5.73" height="2.40" fill="#69cd5b"/>
<rect x="552.34" y="223.20" width="5.73" height="2.40" fill="#dfe318"/>
<rect x="558.07" y="100.80" width="5.73" height="2.40" fill="#fde725"/>
<rect x="558.07" y="112.80" width="5.73" height="9.60" fill="#fde725"/>
<rect x="558.07" y="124.80" width="5.73" height="2.40" fill="#fde725"/>
<rect x="558.07" y="132.00" width="5.73" height="2.40" fill="#fde725"/>
<rect x="558.07" y="136.80" width="5.73" height="4.80" fill="#fde725"/>
<rect x="558.07" y="144.00" width="5.73" height="4.80" fill="#fde725"/>
<rect x="558.07" y="151.20" width="5.73" height="7.20" fill="#fde725"/>
<rect x="558.07" y="160.80" width="5.73" height="43.20" fill="#fde725"/>
<rect x="558.07" y="204.00" width="5.73" height="2.40" fill="#f6e620"/>
<rect x="558.07" y="206.40" width="5.73" height="2.40" fill="#ece51b"/>
<rect x="558.07" y="208.80" width="5.73" height="2.40" fill="#e2e418"/>
<rect x="558.07" y="211.20" width="5.73" height="2.40" fill="#d5e21a"/>
<rect x="558.07" y="213.60" width="5.73" height="2.40" fill="#26828e"/>
<rect x="558.07" y="216.00" width="5.73" height="2.40" fill="#440154"/>
<rect x="558.07" y="218.40" width="5.73" height="2.40" fill="#46307e"/>
<rect x="558.07" y="220.80" width="5.73" height="2.40" fill="#c2df23"/>
<rect x="558.07" y="223.20" width="5.73" height="2.40" fill="#e2e418"/>
<rect x="563.81" y="117.60" width="5.73" height="7.20" fill="#fde725"/>
<rect x="563.81" y="127.20" width="5.73" height="2.40" fill="#fde725"/>
<rect x="563.81" y="134.40" width="5.73" height="2.40" fill="#fde725"/>
<rect x="563.81" y="139.20" width="5.73" height="2.40" fill="#fde725"/>
<rect x="563.81" y="146.40" width="5.73" height="12.00" fill="#fde725"/>
<rect x="563.81" y="160.80" width="5.73" height="50.40" fill="#fde725"/>
<rect x="563.81" y="211.20" width="5.73" height="2.40" fill="#c0df25"/>
<rect x="563.81" y="213.60" width="5.73" height="2.40" fill="#46075a"/>
<rect x="563.81" y="216.00" width="5.73" height="2.40" fill="#440154"/>
<rect x="563.81" y="218.40" width="5.73" height="2.40" fill="#20928c"/>
<rect x="563.81" y="220.80" width="5.73" height="2.40" fill="#d8e219"/>
<rect x="563.81" y="223.20" width="5.73" height="2.40" fill="#e5e419"/>
<rect x="569.54" y="115.20" width="5.73" height="2.40" fill="#fde725"/>
<rect x="569.54" y="120.00" width="5.73" height="7.20" fill="#fde725"/>
<rect x="569.54" y="129.60" width="5.73" height="2.40" fill="#fde725"/>
<rect x="569.54" y="141.60" width="5.73" height="2.40" fill="#fde725"/>
<rect x="569.54" y="148.80" width="5.73" height="60.00" fill="#fde725"/>
<rect x="569.54" y="208.80" width="5.73" height="2.40" fill="#fbe723"/>
<rect x="569.54" y="211.20" width="5.73" height="2.40" fill="#5ac864"/>
<rect x="569.54" y="213.60" width="5.73" height="4.80" fill="#440154"/>
<rect x="569.54" y="218.40" width="5.73" height="2.40" fill="#65cb5e"/>
<rect x="569.54" y="220.80" width="5.73" height="2.40" fill="#dae319"/>
<rect x="575.27" y="115.20" width="5.73" height="12.00" fill="#fde725"/>
<rect x="575.27" y="129.60" width="5.73" height="2.40" fill="#fde725"/>
<rect x="575.27" y="134.40" width="5.73" height="2.40" fill="#fde725"/>
<rect x="575.27" y="141.60" width="5.73" height="12.00" fill="#fde725"/>
<rect x="575.27" y="156.00" width="5.73" height="52.80" fill="#fde725"/>
<rect x="575.27" y="208.80" width="5.73" height="2.40" fill="#ece51b"/>
<rect x="575.27" y="211.20" width="5.73" height="2.40" fill="#25848e"/>
<rect x="575.27" y="213.60" width="5.73" height="2.40" fill="#440154"/>
<rect x="575.27" y="216.00" width="5.73" height="2.40" fill="#472c7a"/>
<rect x="575.27" y="218.40" width="5.73" height="2.40" fill="#c0df25"/>
<rect x="575.27" y="220.80" width="5.73" height="2.40" fill="#dfe318"/>
<rect x="581.01" y="120.00" width="5.73" height="9.60" fill="#fde725"/>
<rect x="581.01" y="132.00" width="5.73" height="2.40" fill="#fde725"/>
<rect x="581.01" y="136.80" width="5.73" height="4.80" fill="#fde725"/>
<rect x="581.01" y="144.00" width="5.73" height="64.80" fill="#fde725"/>
<rect x="581.01" y="208.80" width="5.73" height="2.40" fill="#c2df23"/>
<rect x="581.01" y="211.20" width="5.73" height="2.40" fill="#470e61"/>
<rect x="581.01" y="213.60" width="5.73" height="2.40" fill="#440154"/>
<rect x="581.01" y="216.00" width="5.73" height="2.40" fill="#218f8d"/>
<rect x="581.01" y="218.40" width="5.73" height="2.40" fill="#d5e21a"/>
<rect x="586.74" y="112.80" width="5.73" height="2.40" fill="#fde725"/>
<rect x="586.74" y="122.40" width="5.73" height="2.40" fill="#fde725"/>
<rect x="586.74" y="129.60" width="5.73" height="4.80" fill="#fde725"/>
<rect x="586.74" y="139.20" width="5.73" height="2.40" fill="#fde725"/>
<rect x="586.74" y="144.00" width="5.73" height="62.40" fill="#fde725"/>
<rect x="586.74" y="206.40" width="5.73" height="2.40" fill="#fbe723"/>
<rect x="586.74" y="208.80" width="5.73" height="2.40" fill="#60ca60"/>
<rect x="586.74" y="211.20" width="5.73" height="4.80" fill="#440154"/>
<rect x="586.74" y="216.00" width="5.73" height="2.40" fill="#60ca60"/>
<rect x="586.74" y="218.40" width="5.73" height="2.40" fill="#dae319"/>
<rect x="592.47" y="122.40" width="5.73" height="2.40" fill="#fde725"/>
<rect x="592.47" y="129.60" width="5.73" height="4.80" fill="#fde725"/>
<rect x="592.47" y="139.20" width="5.73" height="67.20" fill="#fde725"/>
<rect x="592.47" y="206.40" width="5.73" height="2.40" fill="#efe51c"/>
<rect x="592.47" y="208.80" width="5.73" height="2.40" fill="#23888e"/>
<rect x="592.47" y="211.20" width="5.73" height="2.40" fill="#440154"/>
<rect x="592.47" y="213.60" width="5.73" height="2.40" fill="#482576"/>
<rect x="592.47" y="216.00" width="5.73" height="2.40" fill="#bddf26"/>
<rect x="592.47" y="218.40" width="5.73" height="2.40" fill="#dfe318"/>
<rect x="598.21" y="122.40" width="5.73" height="2.40" fill="#fde725"/>
<rect x="598.21" y="127.20" width="5.73" height="2.40" fill="#fde725"/>
<rect x="598.21" y="132.00" width="5.73" height="2.40" fill="#fde725"/>
<rect x="598.21" y="141.60" width="5.73" height="64.80" fill="#fde725"/>
<rect x="598.21" y="206.40" width="5.73" height="2.40" fill="#c5e021"/>
<rect x="598.21" y="208.80" width="5.73" height="2.40" fill="#481467"/>
<rect x="598.21" y="211.20" width="5.73" height="2.40" fill="#440154"/>
<rect x="598.21" y="213.60" width="5.73" height="2.40" fill="#228c8d"/>
<rect x="598.21" y="216.00" width="5.73" height="2.40" fill="#d5e21a"/>
<rect x="598.21" y="218.40" width="5.73" height="2.40" fill="#e5e419"/>
<rect x="603.94" y="117.60" width="5.73" height="2.40" fill="#fde725"/>
<rect x="603.94" y="122.40" width="5.73" height="2.40" fill="#fde725"/>
<rect x="603.94" y="127.20" width="5.73" height="2.40" fill="#fde725"/>
<rect x="603.94" y="141.60" width="5.73" height="62.40" fill="#fde725"/>
<rect x="603.94" y="204.00" width="5.73" height="2.40" fill="#fbe723"/>
<rect x="603.94" y="206.40" width="5.73" height="2.40" fill="#65cb5e"/>
<rect x="603.94" y="208.80" width="5.73" height="4.80" fill="#440154"/>
<rect x="603.94" y="213.60" width="5.73" height="2.40" fill="#5cc863"/>
<rect x="603.94" y="216.00" width="5.73" height="2.40" fill="#dae319"/>
<rect x="603.94" y="218.40" width="5.73" height="2.40" fill="#fde725"/>
<rect x="609.68" y="117.60" width="5.73" height="2.40" fill="#fde725"/>
<rect x="609.68" y="122.40" width="5.73" height="2.40" fill="#fde725"/>
<rect x="609.68" y="127.20" width="5.73" height="2.40" fill="#fde725"/>
<rect x="609.68" y="141.60" width="5.73" height="62.40" fill="#fde725"/>
<rect x="609.68" y="204.00" width="5.73" height="2.40" fill="#efe51c"/>
<rect x="609.68" y="206.40" width="5.73" height="2.40" fill="#228c8d"/>
<rect x="609.68" y="208.80" width="5.73" height="2.40" fill="#440154"/>
<rect x="609.68" y="211.20" width="5.73" height="2.40" fill="#482071"/>
<rect x="609.68" y="213.60" width="5.73" height="2.40" fill="#bade28"/>
<rect x="609.68" y="216.00" width="5.73" height="2.40" fill="#e2e418"/>
<rect x="609.68" y="218.40" width="5.73" height="2.40" fill="#fde725"/>
<rect x="615.41" y="117.60" width="5.73" height="2.40" fill="#fde725"/>
<rect x="615.41" y="122.40" width="5.73" height="2.40" fill="#fde725"/>
<rect x="615.41" y="127.20" width="5.73" height="2.40" fill="#fde725"/>
<rect x="615.41" y="141.60" width="5.73" height="62.40" fill="#fde725"/>
<rect x="615.41" y="204.00" width="5.73" height="2.40" fill="#c8e020"/>
<rect x="615.41" y="206.40" width="5.73" height="2.40" fill="#481b6d"/>
<rect x="615.41" y="208.80" width="5.73" height="2.40" fill="#440154"/>
<rect x="615.41" y="211.20" width="5.73" height="2.40" fill="#23888e"/>
<rect x="615.41" y="213.60" width="5.73" height="2.40" fill="#d8e219"/>
<rect x="615.41" y="216.00" width="5.73" height="4.80" fill="#fde725"/>
<rect x="621.14" y="117.60" width="5.73" height="2.40" fill="#fde725"/>
<rect x="621.14" y="122.40" width="5.73" height="2.40" fill="#fde725"/>
<rect x="621.14" y="127.20" width="5.73" height="2.40" fill="#fde725"/>
<rect x="621.14" y="136.80" width="5.73" height="64.80" fill="#fde725"/>
<rect x="621.14" y="201.60" width="5.73" height="2.40" fill="#fbe723"/>
<rect x="621.14" y="204.00" width="5.73" height="2.40" fill="#69cd5b"/>
<rect x="621.14" y="206.40" width="5.73" height="4.80" fill="#440154"/>
<rect x="621.14" y="211.20" width="5.73" height="2.40" fill="#58c765"/>
<rect x="621.14" y="213.60" width="5.73" height="2.40" fill="#dfe318"/>
<rect x="626.88" y="122.40" width="5.73" height="2.40" fill="#fde725"/>
<rect x="626.88" y="127.20" width="5.73" height="2.40" fill="#fde725"/>
<rect x="626.88" y="136.80" width="5.73" height="7.20" fill="#fde725"/>
<rect x="626.88" y="146.40" width="5.73" height="55.20" fill="#fde725"/>
<rect x="626.88" y="201.60" width="5.73" height="2.40" fill="#efe51c"/>
<rect x="626.88" y="204.00" width="5.73" height="2.40" fill="#21908d"/>
<rect x="626.88" y="206.40" width="5.73" height="2.40" fill="#440154"/>
<rect x="626.88" y="208.80" width="5.73" height="2.40" fill="#481b6d"/>
<rect x="626.88" y="211.20" width="5.73" height="2.40" fill="#b8de29"/>
<rect x="632.61" y="122.40" width="5.73" height="2.40" fill="#fde725"/>
<rect x="632.61" y="127.20" width="5.73" height="2.40" fill="#fde725"/>
<rect x="632.61" y="132.00" width="5.73" height="2.40" fill="#fde725"/>
<rect x="632.61" y="136.80" width="5.73" height="2.40" fill="#fde725"/>
<rect x="632.61" y="141.60" width="5.73" height="2.40" fill="#fde725"/>
<rect x="632.61" y="146.40" width="5.73" height="7.20" fill="#fde725"/>
<rect x="632.61" y="156.00" width="5.73" height="45.60" fill="#fde725"/>
<rect x="632.61" y="201.60" width="5.73" height="2.40" fill="#9dd93b"/>
<rect x="632.61" y="204.00" width="5.73" height="4.80" fill="#440154"/>
<rect x="632.61" y="208.80" width="5.73" height="2.40" fill="#27ad81"/>
<rect x="632.61" y="211.20" width="5.73" height="2.40" fill="#dde318"/>
<rect x="638.34" y="122.40" width="5.73" height="2.40" fill="#fde725"/>
<rect x="638.34" y="127.20" width="5.73" height="2.40" fill="#fde725"/>
<rect x="638.34" y="132.00" width="5.73" height="2.40" fill="#fde725"/>
<rect x="638.34" y="136.80" width="5.73" height="2.40" fill="#fde725"/>
<rect x="638.34" y="141.60" width="5.73" height="2.40" fill="#fde725"/>
<rect x="638.34" y="148.80" width="5.73" height="7.20" fill="#fde725"/>
<rect x="638.34" y="158.40" width="5.73" height="40.80" fill="#fde725"/>
<rect x="638.34" y="199.20" width="5.73" height="2.40" fill="#ece51b"/>
<rect x="638.34" y="201.60" width="5.73" height="2.40" fill="#24878e"/>
<rect x="638.34" y="204.00" width="5.73" height="2.40" fill="#440154"/>
<rect x="638.34" y="206.40" width="5.73" height="2.40" fill="#482878"/>
<rect x="638.34" y="208.80" width="5.73" height="2.40" fill="#bddf26"/>
<rect x="638.34" y="211.20" width="5.73" height="2.40" fill="#e5e419"/>
<rect x="644.08" y="122.40" width="5.73" height="2.40" fill="#fde725"/>
<rect x="644.08" y="127.20" width="5.73" height="2.40" fill="#fde725"/>
<rect x="644.08" y="141.60" width="5.73" height="2.40" fill="#fde725"/>
<rect x="644.08" y="148.80" width="5.73" height="50.40" fill="#fde725"/>
<rect x="644.08" y="199.20" width="5.73" height="2.40" fill="#93d741"/>
<rect x="644.08" y="201.60" width="5.73" height="4.80" fill="#440154"/>
<rect x="644.08" y="206.40" width="5.73" height="2.40" fill="#32b67a"/>
<rect x="644.08" y="208.80" width="5.73" height="2.40" fill="#dde318"/>
<rect x="649.81" y="122.40" width="5.73" height="2.40" fill="#fde725"/>
<rect x="649.81" y="127.20" width="5.73" height="2.40" fill="#fde725"/>
<rect x="649.81" y="148.80" width="5.73" height="2.40" fill="#fde725"/>
<rect x="649.81" y="153.60" width="5.73" height="43.20" fill="#fde725"/>
<rect x="649.81" y="196.80" width="5.73" height="2.40" fill="#eae51a"/>
<rect x="649.81" y="199.20" width="5.73" height="2.40" fill="#287c8e"/>
<rect x="649.81" y="201.60" width="5.73" height="2.40" fill="#440154"/>
<rect x="649.81" y="204.00" width="5.73" height="2.40" fill="#443983"/>
<rect x="649.81" y="206.40" width="5.73" height="2.40" fill="#c5e021"/>
<rect x="649.81" y="208.80" width="5.73" height="2.40" fill="#fde725"/>
<rect x="655.54" y="122.40" width="5.73" height="7.20" fill="#fde725"/>
<rect x="655.54" y="141.60" width="5.73" height="14.40" fill="#fde725"/>
<rect x="655.54" y="158.40" width="5.73" height="36.00" fill="#fde725"/>
<rect x="655.54" y="194.40" width="5.73" height="2.40" fill="#fbe723"/>
<rect x="655.54" y="196.80" width="5.73" height="2.40" fill="#84d44b"/>
<rect x="655.54" y="199.20" width="5.73" height="4.80" fill="#440154"/>
<rect x="655.54" y="204.00" width="5.73" height="2.40" fill="#3dbc74"/>
<rect x="655.54" y="206.40" width="5.73" height="2.40" fill="#e2e418"/>
<rect x="661.28" y="122.40" width="5.73" height="4.80" fill="#fde725"/>
<rect x="661.28" y="144.00" width="5.73" height="50.40" fill="#fde725"/>
<rect x="661.28" y="194.40" width="5.73" height="2.40" fill="#e7e419"/>
<rect x="661.28" y="196.80" width="5.73" height="2.40" fill="#2d708e"/>
<rect x="661.28" y="199.20" width="5.73" height="2.40" fill="#440154"/>
<rect x="661.28" y="201.60" width="5.73" height="2.40" fill="#3f4889"/>
<rect x="661.28" y="204.00" width="5.73" height="2.40" fill="#cde11d"/>
<rect x="661.28" y="206.40" width="5.73" height="2.40" fill="#fde725"/>
<rect x="667.01" y="117.60" width="5.73" height="2.40" fill="#fde725"/>
<rect x="667.01" y="122.40" width="5.73" height="2.40" fill="#fde725"/>
<rect x="667.01" y="132.00" width="5.73" height="2.40" fill="#fde725"/>
<rect x="667.01" y="141.60" width="5.73" height="50.40" fill="#fde725"/>
<rect x="667.01" y="192.00" width="5.73" height="2.40" fill="#fbe723"/>
<rect x="667.01" y="194.40" width="5.73" height="2.40" fill="#75d054"/>
<rect x="667.01" y="196.80" width="5.73" height="4.80" fill="#440154"/>
<rect x="667.01" y="201.60" width="5.73" height="2.40" fill="#4cc26c"/>
<rect x="667.01" y="204.00" width="5.73" height="2.40" fill="#e2e418"/>
<rect x="667.01" y="206.40" width="5.73" height="2.40" fill="#fde725"/>
<rect x="672.74" y="117.60" width="5.73" height="2.40" fill="#fde725"/>
<rect x="672.74" y="122.40" width="5.73" height="2.40" fill="#fde725"/>
<rect x="672.74" y="132.00" width="5.73" height="2.40" fill="#fde725"/>
<rect x="672.74" y="139.20" width="5.73" height="52.80" fill="#fde725"/>
<rect x="672.74" y="192.00" width="5.73" height="2.40" fill="#e2e418"/>
<rect x="672.74" y="194.40" width="5.73" height="2.40" fill="#33638d"/>
<rect x="672.74" y="196.80" width="5.73" height="2.40" fill="#440154"/>
<rect x="672.74" y="199.20" width="5.73" height="2.40" fill="#39558c"/>
<rect x="672.74" y="201.60" width="5.73" height="2.40" fill="#d2e21b"/>
<rect x="672.74" y="204.00" width="5.73" height="2.40" fill="#fde725"/>
<rect x="678.48" y="117.60" width="5.73" height="2.40" fill="#fde725"/>
<rect x="678.48" y="122.40" width="5.73" height="2.40" fill="#fde725"/>
<rect x="678.48" y="127.20" width="5.73" height="2.40" fill="#fde725"/>
<rect x="678.48" y="136.80" width="5.73" height="52.80" fill="#fde725"/>
<rect x="678.48" y="189.60" width="5.73" height="2.40" fill="#fbe723"/>
<rect x="678.48" y="192.00" width="5.73" height="2.40" fill="#7fd34e"/>
<rect x="678.48" y="194.40" width="5.73" height="4.80" fill="#440154"/>
<rect x="678.48" y="199.20" width="5.73" height="2.40" fill="#44bf70"/>
<rect x="678.48" y="201.60" width="5.73" height="2.40" fill="#dfe318"/>
<rect x="678.48" y="204.00" width="5.73" height="2.40" fill="#fde725"/>
<rect x="684.21" y="117.60" width="5.73" height="2.40" fill="#fde725"/>
<rect x="684.21" y="122.40" width="5.73" height="2.40" fill="#fde725"/>
<rect x="684.21" y="127.20" width="5.73" height="2.40" fill="#fde725"/>
<rect x="684.21" y="136.80" width="5.73" height="2.40" fill="#fde725"/>
<rect x="684.21" y="144.00" width="5.73" height="45.60" fill="#fde725"/>
<rect x="684.21" y="189.60" width="5.73" height="2.40" fill="#f6e620"/>
<rect x="684.21" y="192.00" width="5.73" height="2.40" fill="#2cb17e"/>
<rect x="684.21" y="194.40" width="5.73" height="4.80" fill="#440154"/>
<rect x="684.21" y="199.20" width="5.73" height="2.40" fill="#90d743"/>
<rect x="684.21" y="201.60" width="5.73" height="2.40" fill="#e2e418"/>
<rect x="684.21" y="204.00" width="5.73" height="2.40" fill="#fde725"/>
<rect x="689.94" y="117.60" width="5.73" height="2.40" fill="#fde725"/>
<rect x="689.94" y="122.40" width="5.73" height="2.40" fill="#fde725"/>
<rect x="689.94" y="132.00" width="5.73" height="14.40" fill="#fde725"/>
<rect x="689.94" y="148.80" width="5.73" height="40.80" fill="#fde725"/>
<rect x="689.94" y="189.60" width="5.73" height="2.40" fill="#eae51a"/>
<rect x="689.94" y="192.00" width="5.73" height="2.40" fill="#2a778e"/>
<rect x="689.94" y="194.40" width="5.73" height="2.40" fill="#440154"/>
<rect x="689.94" y="196.80" width="5.73" height="2.40" fill="#423f85"/>
<rect x="689.94" y="199.20" width="5.73" height="2.40" fill="#c8e020"/>
<rect x="689.94" y="201.60" width="5.73" height="4.80" fill="#fde725"/>
<rect x="695.68" y="117.60" width="5.73" height="2.40" fill="#fde725"/>
<rect x="695.68" y="122.40" width="5.73" height="2.40" fill="#fde725"/>
<rect x="695.68" y="132.00" width="5.73" height="9.60" fill="#fde725"/>
<rect x="695.68" y="144.00" width="5.73" height="45.60" fill="#fde725"/>
<rect x="695.68" y="189.60" width="5.73" height="2.40" fill="#cae11f"/>
<rect x="695.68" y="192.00" width="5.73" height="2.40" fill="#482173"/>
<rect x="695.68" y="194.40" width="5.73" height="2.40" fill="#440154"/>
<rect x="695.68" y="196.80" width="5.73" height="2.40" fill="#25858e"/>
<rect x="695.68" y="199.20" width="5.73" height="2.40" fill="#dae319"/>
<rect x="695.68" y="201.60" width="5.73" height="4.80" fill="#fde725"/>
<rect x="701.41" y="117.60" width="5.73" height="12.00" fill="#fde725"/>
<rect x="701.41" y="132.00" width="5.73" height="55.20" fill="#fde725"/>
<rect x="701.41" y="187.20" width="5.73" height="2.40" fill="#fbe723"/>
<rect x="701.41" y="189.60" width="5.73" height="2.40" fill="#7fd34e"/>
<rect x="701.41" y="192.00" width="5.73" height="4.80" fill="#440154"/>
<rect x="701.41" y="196.80" width="5.73" height="2.40" fill="#44bf70"/>
<rect x="701.41" y="199.20" width="5.73" height="2.40" fill="#dfe318"/>
<rect x="701.41" y="201.60" width="5.73" height="4.80" fill="#fde725"/>
<rect x="707.14" y="117.60" width="5.73" height="16.80" fill="#fde725"/>
<rect x="707.14" y="136.80" width="5.73" height="48.00" fill="#fde725"/>
<rect x="707.14" y="184.80" width="5.73" height="2.40" fill="#f6e620"/>
<rect x="707.14" y="187.20" width="5.73" height="2.40" fill="#e7e419"/>
<rect x="707.14" y="189.60" width="5.73" height="2.40" fill="#20a486"/>
<rect x="707.14" y="192.00" width="5.73" height="4.80" fill="#440154"/>
<rect x="707.14" y="196.80" width="5.73" height="2.40" fill="#a2da37"/>
<rect x="707.14" y="199.20" width="5.73" height="2.40" fill="#e2e418"/>
<rect x="707.14" y="201.60" width="5.73" height="4.80" fill="#fde725"/>
<rect x="712.88" y="117.60" width="5.73" height="62.40" fill="#fde725"/>
<rect x="712.88" y="180.00" width="5.73" height="2.40" fill="#fbe723"/>
<rect x="712.88" y="182.40" width="5.73" height="2.40" fill="#f1e51d"/>
<rect x="712.88" y="184.80" width="5.73" height="2.40" fill="#dfe318"/>
<rect x="712.88" y="187.20" width="5.73" height="2.40" fill="#cde11d"/>
<rect x="712.88" y="189.60" width="5.73" height="2.40" fill="#3b518b"/>
<rect x="712.88" y="192.00" width="5.73" height="2.40" fill="#440154"/>
<rect x="712.88" y="194.40" width="5.73" height="2.40" fill="#31668e"/>
<rect x="712.88" y="196.80" width="5.73" height="2.40" fill="#d8e219"/>
<rect x="712.88" y="199.20" width="5.73" height="4.80" fill="#fde725"/>
<rect x="718.61" y="117.60" width="5.73" height="24.00" fill="#fde725"/>
<rect x="718.61" y="144.00" width="5.73" height="33.60" fill="#fde725"/>
<rect x="718.61" y="177.60" width="5.73" height="2.40" fill="#f8e621"/>
<rect x="718.61" y="180.00" width="5.73" height="2.40" fill="#ece51b"/>
<rect x="718.61" y="182.40" width="5.73" height="2.40" fill="#dae319"/>
<rect x="718.61" y="184.80" width="5.73" height="2.40" fill="#c5e021"/>
<rect x="718.61" y="187.20" width="5.73" height="2.40" fill="#a0da39"/>
<rect x="718.61" y="189.60" width="5.73" height="4.80" fill="#440154"/>
<rect x="718.61" y="194.40" width="5.73" height="2.40" fill="#26ad81"/>
<rect x="718.61" y="196.80" width="5.73" height="2.40" fill="#dde318"/>
<rect x="718.61" y="199.20" width="5.73" height="4.80" fill="#fde725"/>
<rect x="724.34" y="117.60" width="5.73" height="60.00" fill="#fde725"/>
<rect x="724.34" y="177.60" width="5.73" height="2.40" fill="#efe51c"/>
<rect x="724.34" y="180.00" width="5.73" height="2.40" fill="#dde318"/>
<rect x="724.34" y="182.40" width="5.73" height="2.40" fill="#c5e021"/>
<rect x="724.34" y="184.80" width="5.73" height="2.40" fill="#aadc32"/>
<rect x="724.34" y="187.20" width="5.73" height="2.40" fill="#38b977"/>
<rect x="724.34" y="189.60" width="5.73" height="4.80" fill="#440154"/>
<rect x="724.34" y="194.40" width="5.73" height="2.40" fill="#84d44b"/>
<rect x="724.34" y="196.80" width="5.73" height="2.40" fill="#dfe318"/>
<rect x="724.34" y="199.20" width="5.73" height="4.80" fill="#fde725"/>
<rect x="730.08" y="117.60" width="5.73" height="4.80" fill="#fde725"/>
<rect x="730.08" y="124.80" width="5.73" height="50.40" fill="#fde725"/>
<rect x="730.08" y="175.20" width="5.73" height="2.40" fill="#f4e61e"/>
<rect x="730.08" y="177.60" width="5.73" height="2.40" fill="#dfe318"/>
<rect x="730.08" y="180.00" width="5.73" height="2.40" fill="#c8e020"/>
<rect x="730.08" y="182.40" width="5.73" height="2.40" fill="#addc30"/>
<rect x="730.08" y="184.80" width="5.73" height="2.40" fill="#8ed645"/>
<rect x="730.08" y="187.20" width="5.73" height="2.40" fill="#2c728e"/>
<rect x="730.08" y="189.60" width="5.73" height="2.40" fill="#440154"/>
<rect x="730.08" y="192.00" width="5.73" height="2.40" fill="#414487"/>
<rect x="730.08" y="194.40" width="5.73" height="2.40" fill="#cae11f"/>
<rect x="730.08" y="196.80" width="5.73" height="2.40" fill="#e5e419"/>
<rect x="730.08" y="199.20" width="5.73" height="4.80" fill="#fde725"/>
<rect x="735.81" y="117.60" width="5.73" height="55.20" fill="#fde725"/>
<rect x="735.81" y="172.80" width="5.73" height="2.40" fill="#f8e621"/>
<rect x="735.81" y="175.20" width="5.73" height="2.40" fill="#e5e419"/>
<rect x="735.81" y="177.60" width="5.73" height="2.40" fill="#cde11d"/>
<rect x="735.81" y="180.00" width="5.73" height="2.40" fill="#b0dd2f"/>
<rect x="735.81" y="182.40" width="5.73" height="2.40" fill="#90d743"/>
<rect x="735.81" y="184.80" width="5.73" height="2.40" fill="#6ece58"/>
<rect x="735.81" y="187.20" width="5.73" height="4.80" fill="#440154"/>
<rect x="735.81" y="192.00" width="5.73" height="2.40" fill="#1f978b"/>
<rect x="735.81" y="194.40" width="5.73" height="2.40" fill="#dae319"/>
<rect x="735.81" y="196.80" width="5.73" height="7.20" fill="#fde725"/>
<rect x="741.54" y="117.60" width="5.73" height="55.20" fill="#fde725"/>
<rect x="741.54" y="172.80" width="5.73" height="2.40" fill="#eae51a"/>
<rect x="741.54" y="175.20" width="5.73" height="2.40" fill="#d0e11c"/>
<rect x="741.54" y="177.60" width="5.73" height="2.40" fill="#addc30"/>
<rect x="741.54" y="180.00" width="5.73" height="2.40" fill="#8bd646"/>
<rect x="741.54" y="182.40" width="5.73" height="2.40" fill="#67cc5c"/>
<rect x="741.54" y="184.80" width="5.73" height="2.40" fill="#46c06f"/>
<rect x="741.54" y="187.20" width="5.73" height="4.80" fill="#440154"/>
<rect x="741.54" y="192.00" width="5.73" height="2.40" fill="#63cb5f"/>
<rect x="741.54" y="194.40" width="5.73" height="2.40" fill="#dfe318"/>
<rect x="741.54" y="196.80" width="5.73" height="7.20" fill="#fde725"/>
<rect x="747.28" y="112.80" width="5.73" height="9.60" fill="#fde725"/>
<rect x="747.28" y="124.80" width="5.73" height="45.60" fill="#fde725"/>
<rect x="747.28" y="170.40" width="5.73" height="2.40" fill="#efe51c"/>
<rect x="747.28" y="172.80" width="5.73" height="2.40" fill="#d2e21b"/>
<rect x="747.28" y="175.20" width="5.73" height="2.40" fill="#b0dd2f"/>
<rect x="747.28" y="177.60" width="5.73" height="2.40" fill="#89d548"/>
<rect x="747.28" y="180.00" width="5.73" height="2.40" fill="#60ca60"/>
<rect x="747.28" y="182.40" width="5.73" height="2.40" fill="#3dbc74"/>
<rect x="747.28" y="184.80" width="5.73" height="2.40" fill="#218f8d"/>
<rect x="747.28" y="187.20" width="5.73" height="2.40" fill="#440154"/>
<rect x="747.28" y="189.60" width="5.73" height="2.40" fill="#481b6d"/>
<rect x="747.28" y="192.00" width="5.73" height="2.40" fill="#b8de29"/>
<rect x="747.28" y="194.40" width="5.73" height="2.40" fill="#e5e419"/>
<rect x="747.28" y="196.80" width="5.73" height="7.20" fill="#fde725"/>
<rect x="753.01" y="112.80" width="2.99" height="55.20" fill="#fde725"/>
<rect x="753.01" y="168.00" width="2.99" height="2.40" fill="#f6e620"/>
<rect x="753.01" y="170.40" width="2.99" height="2.40" fill="#dae319"/>
<rect x="753.01" y="172.80" width="2.99" height="2.40" fill="#b5de2b"/>
<rect x="753.01" y="175.20" width="2.99" height="2.40" fill="#8bd646"/>
<rect x="753.01" y="177.60" width="2.99" height="2.40" fill="#60ca60"/>
<rect x="753.01" y="180.00" width="2.99" height="2.40" fill="#3aba76"/>
<rect x="753.01" y="182.40" width="2.99" height="2.40" fill="#22a785"/>
<rect x="753.01" y="184.80" width="2.99" height="2.40" fill="#472e7c"/>
<rect x="753.01" y="187.20" width="2.99" height="2.40" fill="#440154"/>
<rect x="753.01" y="189.60" width="2.99" height="2.40" fill="#277e8e"/>
<rect x="753.01" y="192.00" width="2.99" height="2.40" fill="#dae319"/>
<rect x="753.01" y="194.40" width="2.99" height="9.60" fill="#fde725"/>
</g>
<g fill="#b0b0b0" shape-rendering="crispEdges">
<rect x="154" y="60" width="1" height="360"/>
<rect x="181" y="60" width="1" height="360"/>
<rect x="200" y="60" width="1" height="360"/>
<rect x="215" y="60" width="1" height="360"/>
<rect x="227" y="60" width="1" height="360"/>
<rect x="237" y="60" width="1" height="360"/>
<rect x="246" y="60" width="1" height="360"/>
<rect x="253" y="60" width="1" height="360"/>
<rect x="260" y="60" width="1" height="360"/>
<rect x="306" y="60" width="1" height="360"/>
<rect x="333" y="60" width="1" height="360"/>
<rect x="352" y="60" width="1" height="360"/>
<rect x="367" y="60" width="1" height="360"/>
<rect x="379" y="60" width="1" height="360"/>
<rect x="389" y="60" width="1" height="360"/>
<rect x="398" y="60" width="1" height="360"/>
<rect x="406" y="60" width="1" height="360"/>
<rect x="413" y="60" width="1" height="360"/>
<rect x="459" y="60" width="1" height="360"/>
<rect x="485" y="60" width="1" height="360"/>
<rect x="504" y="60" width="1" height="360"/>
<rect x="519" y="60" width="1" height="360"/>
<rect x="531" y="60" width="1" height="360"/>
<rect x="542" y="60" width="1" height="360"/>
<rect x="550" y="60" width="1" height="360"/>
<rect x="558" y="60" width="1" height="360"/>
<rect x="565" y="60" width="1" height="360"/>
<rect x="611" y="60" width="1" height="360"/>
<rect x="638" y="60" width="1" height="360"/>
<rect x="657" y="60" width="1" height="360"/>
<rect x="672" y="60" width="1" height="360"/>
<rect x="684" y="60" width="1" height="360"/>
<rect x="694" y="60" width="1" height="360"/>
<rect x="703" y="60" width="1" height="360"/>
<rect x="711" y="60" width="1" height="360"/>
<rect x="717" y="60" width="1" height="360"/>
<rect x="108" y="84" width="648" height="1"/>
<rect x="108" y="132" width="648" height="1"/>
<rect x="108" y="180" width="648" height="1"/>
<rect x="108" y="228" width="648" height="1"/>
<rect x="108" y="276" width="648" height="1"/>
<rect x="108" y="324" width="648" height="1"/>
<rect x="108" y="372" width="648" height="1"/>
</g>
<g fill="none" stroke="#666666" stroke-width="2.78" stroke-linejoin="round" stroke-linecap="square" clip-path="url(#axc)">
<polyline points="260.37,159.60 312.54,173.77 337.34,205.20 397.97,228.00 501.08,175.19 513.72,171.59 534.53,182.40 549.51,212.39 593.68,228.01 610.97,272.39 801.27,242.39"/>
<polyline points="260.37,343.20 295.48,340.08 352.10,340.07 397.97,346.08 426.97,332.87 470.67,296.75 509.26,278.64 519.24,278.63 531.30,297.60 565.10,333.00 577.17,338.99 594.53,329.11 616.98,366.01 641.24,383.99 664.63,390.00 693.87,390.00 718.13,384.00 746.05,383.97 796.08,389.98"/>
</g>
<g fill="#000" shape-rendering="crispEdges">
<rect x="108" y="421" width="1" height="5"/>
<rect x="154" y="421" width="1" height="3"/>
<rect x="181" y="421" width="1" height="3"/>
<rect x="200" y="421" width="1" height="3"/>
<rect x="215" y="421" width="1" height="3"/>
<rect x="227" y="421" width="1" height="3"/>
<rect x="237" y="421" width="1" height="3"/>
<rect x="246" y="421" width="1" height="3"/>
<rect x="253" y="421" width="1" height="3"/>
<rect x="260" y="421" width="1" height="5"/>
<rect x="306" y="421" width="1" height="3"/>
<rect x="333" y="421" width="1" height="3"/>
<rect x="352" y="421" width="1" height="3"/>
<rect x="367" y="421" width="1" height="3"/>
<rect x="379" y="421" width="1" height="3"/>
<rect x="389" y="421" width="1" height="3"/>
<rect x="398" y="421" width="1" height="3"/>
<rect x="406" y="421" width="1" height="3"/>
<rect x="413" y="421" width="1" height="5"/>
<rect x="459" y="421" width="1" height="3"/>
<rect x="485" y="421" width="1" height="3"/>
<rect x="504" y="421" width="1" height="3"/>
<rect x="519" y="421" width="1" height="3"/>
<rect x="531" y="421" width="1" height="3"/>
<rect x="542" y="421" width="1" height="3"/>
<rect x="550" y="421" width="1" height="3"/>
<rect x="558" y="421" width="1" height="3"/>
<rect x="565" y="421" width="1" height="5"/>
<rect x="611" y="421" width="1" height="3"/>
<rect x="638" y="421" width="1" height="3"/>
<rect x="657" y="421" width="1" height="3"/>
<rect x="672" y="421" width="1" height="3"/>
<rect x="684" y="421" width="1" height="3"/>
<rect x="694" y="421" width="1" height="3"/>
<rect x="703" y="421" width="1" height="3"/>
<rect x="711" y="421" width="1" height="3"/>
<rect x="717" y="421" width="1" height="5"/>
<rect x="103" y="84" width="5" height="1"/>
<rect x="103" y="132" width="5" height="1"/>
<rect x="103" y="180" width="5" height="1"/>
<rect x="103" y="228" width="5" height="1"/>
<rect x="103" y="276" width="5" height="1"/>
<rect x="103" y="324" width="5" height="1"/>
<rect x="103" y="372" width="5" height="1"/>
<rect x="103" y="420" width="5" height="1"/>
<rect x="108" y="60" width="649" height="1"/>
<rect x="108" y="420" width="649" height="1"/>
<rect x="108" y="60" width="1" height="361"/>
<rect x="756" y="60" width="1" height="361"/>
</g>
<text y="51.67" font-size="14.10" ><tspan x="120.79" textLength="9.96" lengthAdjust="spacingAndGlyphs">H</tspan><tspan x="130.95" textLength="4.06" lengthAdjust="spacingAndGlyphs">I</tspan><tspan x="135.06" textLength="4.15" lengthAdjust="spacingAndGlyphs">.</tspan><tspan x="139.66" textLength="8.19" lengthAdjust="spacingAndGlyphs">P</tspan><tspan x="147.32" textLength="9.24" lengthAdjust="spacingAndGlyphs">T</tspan><tspan x="156.31" textLength="10.67" lengthAdjust="spacingAndGlyphs">O</tspan><tspan x="167.52" textLength="7.77" lengthAdjust="spacingAndGlyphs">1</tspan><tspan x="176.06" textLength="4.15" lengthAdjust="spacingAndGlyphs">.</tspan><tspan x="180.44" textLength="4.15" lengthAdjust="spacingAndGlyphs">.</tspan><tspan x="184.92" textLength="9.96" lengthAdjust="spacingAndGlyphs">H</tspan><tspan x="195.30" textLength="9.90" lengthAdjust="spacingAndGlyphs">N</tspan><tspan x="205.67" textLength="9.90" lengthAdjust="spacingAndGlyphs">N</tspan><tspan x="220.69" textLength="3.67" lengthAdjust="spacingAndGlyphs">|</tspan><tspan x="229.65" textLength="7.77" lengthAdjust="spacingAndGlyphs">1</tspan><tspan x="238.40" textLength="8.13" lengthAdjust="spacingAndGlyphs">0</tspan><tspan x="247.15" textLength="8.13" lengthAdjust="spacingAndGlyphs">0</tspan><tspan x="255.69" textLength="4.15" lengthAdjust="spacingAndGlyphs">.</tspan><tspan x="260.28" textLength="8.13" lengthAdjust="spacingAndGlyphs">0</tspan><tspan x="268.92" textLength="9.96" lengthAdjust="spacingAndGlyphs">H</tspan><tspan x="279.06" textLength="7.43" lengthAdjust="spacingAndGlyphs">z</tspan><tspan x="291.31" textLength="3.67" lengthAdjust="spacingAndGlyphs">|</tspan><tspan x="300.12" textLength="7.86" lengthAdjust="spacingAndGlyphs">2</tspan><tspan x="308.90" textLength="8.13" lengthAdjust="spacingAndGlyphs">0</tspan><tspan x="317.62" textLength="7.86" lengthAdjust="spacingAndGlyphs">2</tspan><tspan x="326.40" textLength="8.13" lengthAdjust="spacingAndGlyphs">0</tspan><tspan x="334.82" textLength="4.98" lengthAdjust="spacingAndGlyphs">-</tspan><tspan x="340.03" textLength="8.13" lengthAdjust="spacingAndGlyphs">0</tspan><tspan x="348.90" textLength="7.77" lengthAdjust="spacingAndGlyphs">1</tspan><tspan x="357.32" textLength="4.98" lengthAdjust="spacingAndGlyphs">-</tspan><tspan x="362.53" textLength="8.13" lengthAdjust="spacingAndGlyphs">0</tspan><tspan x="371.33" textLength="7.97" lengthAdjust="spacingAndGlyphs">7</tspan><tspan x="379.32" textLength="9.24" lengthAdjust="spacingAndGlyphs">T</tspan><tspan x="388.65" textLength="7.77" lengthAdjust="spacingAndGlyphs">1</tspan><tspan x="397.40" textLength="8.13" lengthAdjust="spacingAndGlyphs">0</tspan><tspan x="406.08" textLength="4.15" lengthAdjust="spacingAndGlyphs">:</tspan><tspan x="410.78" textLength="8.13" lengthAdjust="spacingAndGlyphs">4</tspan><tspan x="419.34" textLength="8.40" lengthAdjust="spacingAndGlyphs">9</tspan><tspan x="428.33" textLength="4.15" lengthAdjust="spacingAndGlyphs">:</tspan><tspan x="433.03" textLength="8.13" lengthAdjust="spacingAndGlyphs">0</tspan><tspan x="441.78" textLength="8.13" lengthAdjust="spacingAndGlyphs">0</tspan><tspan x="454.57" textLength="4.98" lengthAdjust="spacingAndGlyphs">-</tspan><tspan x="464.12" textLength="7.86" lengthAdjust="spacingAndGlyphs">2</tspan><tspan x="472.90" textLength="8.13" lengthAdjust="spacingAndGlyphs">0</tspan><tspan x="481.62" textLength="7.86" lengthAdjust="spacingAndGlyphs">2</tspan><tspan x="490.57" textLength="7.67" lengthAdjust="spacingAndGlyphs">5</tspan><tspan x="498.82" textLength="4.98" lengthAdjust="spacingAndGlyphs">-</tspan><tspan x="504.15" textLength="7.77" lengthAdjust="spacingAndGlyphs">1</tspan><tspan x="513.02" textLength="7.77" lengthAdjust="spacingAndGlyphs">1</tspan><tspan x="521.44" textLength="4.98" lengthAdjust="spacingAndGlyphs">-</tspan><tspan x="526.62" textLength="7.86" lengthAdjust="spacingAndGlyphs">2</tspan><tspan x="535.41" textLength="8.13" lengthAdjust="spacingAndGlyphs">4</tspan><tspan x="543.44" textLength="9.24" lengthAdjust="spacingAndGlyphs">T</tspan><tspan x="552.62" textLength="7.86" lengthAdjust="spacingAndGlyphs">2</tspan><tspan x="561.37" textLength="7.86" lengthAdjust="spacingAndGlyphs">2</tspan><tspan x="570.08" textLength="4.15" lengthAdjust="spacingAndGlyphs">:</tspan><tspan x="574.95" textLength="7.82" lengthAdjust="spacingAndGlyphs">3</tspan><tspan x="583.53" textLength="8.13" lengthAdjust="spacingAndGlyphs">0</tspan><tspan x="592.20" textLength="4.15" lengthAdjust="spacingAndGlyphs">:</tspan><tspan x="596.90" textLength="8.13" lengthAdjust="spacingAndGlyphs">0</tspan><tspan x="605.82" textLength="7.67" lengthAdjust="spacingAndGlyphs">5</tspan><tspan x="618.93" textLength="3.67" lengthAdjust="spacingAndGlyphs">|</tspan><tspan x="627.83" textLength="7.97" lengthAdjust="spacingAndGlyphs">7</tspan><tspan x="636.70" textLength="7.67" lengthAdjust="spacingAndGlyphs">5</tspan><tspan x="645.28" textLength="8.13" lengthAdjust="spacingAndGlyphs">0</tspan><tspan x="654.08" textLength="7.97" lengthAdjust="spacingAndGlyphs">7</tspan><tspan x="662.95" textLength="7.82" lengthAdjust="spacingAndGlyphs">3</tspan><tspan x="675.94" textLength="6.65" lengthAdjust="spacingAndGlyphs">s</tspan><tspan x="682.82" textLength="8.34" lengthAdjust="spacingAndGlyphs">e</tspan><tspan x="691.32" textLength="8.40" lengthAdjust="spacingAndGlyphs">g</tspan><tspan x="700.26" textLength="13.18" lengthAdjust="spacingAndGlyphs">m</tspan><tspan x="713.70" textLength="8.34" lengthAdjust="spacingAndGlyphs">e</tspan><tspan x="722.32" textLength="8.31" lengthAdjust="spacingAndGlyphs">n</tspan><tspan x="730.90" textLength="5.17" lengthAdjust="spacingAndGlyphs">t</tspan><tspan x="736.69" textLength="6.65" lengthAdjust="spacingAndGlyphs">s</tspan></text>
<text y="89.50" font-size="14.10" ><tspan x="69.05" textLength="10.43" lengthAdjust="spacingAndGlyphs">−</tspan><tspan x="80.29" textLength="8.42" lengthAdjust="spacingAndGlyphs">6</tspan><tspan x="89.29" textLength="8.13" lengthAdjust="spacingAndGlyphs">0</tspan></text>
<text y="137.50" font-size="14.10" ><tspan x="69.05" textLength="10.43" lengthAdjust="spacingAndGlyphs">−</tspan><tspan x="80.38" textLength="8.23" lengthAdjust="spacingAndGlyphs">8</tspan><tspan x="89.29" textLength="8.13" lengthAdjust="spacingAndGlyphs">0</tspan></text>
<text y="185.50" font-size="14.10" ><tspan x="60.30" textLength="10.43" lengthAdjust="spacingAndGlyphs">−</tspan><tspan x="71.79" textLength="7.77" lengthAdjust="spacingAndGlyphs">1</tspan><tspan x="80.54" textLength="8.13" lengthAdjust="spacingAndGlyphs">0</tspan><tspan x="89.29" textLength="8.13" lengthAdjust="spacingAndGlyphs">0</tspan></text>
<text y="233.50" font-size="14.10" ><tspan x="60.30" textLength="10.43" lengthAdjust="spacingAndGlyphs">−</tspan><tspan x="71.79" textLength="7.77" lengthAdjust="spacingAndGlyphs">1</tspan><tspan x="80.51" textLength="7.86" lengthAdjust="spacingAndGlyphs">2</tspan><tspan x="89.29" textLength="8.13" lengthAdjust="spacingAndGlyphs">0</tspan></text>
<text y="281.50" font-size="14.10" ><tspan x="60.30" textLength="10.43" lengthAdjust="spacingAndGlyphs">−</tspan><tspan x="71.79" textLength="7.77" lengthAdjust="spacingAndGlyphs">1</tspan><tspan x="80.55" textLength="8.13" lengthAdjust="spacingAndGlyphs">4</tspan><tspan x="89.29" textLength="8.13" lengthAdjust="spacingAndGlyphs">0</tspan></text>
<text y="329.50" font-size="14.10" ><tspan x="60.18" textLength="10.43" lengthAdjust="spacingAndGlyphs">−</tspan><tspan x="71.67" textLength="7.77" lengthAdjust="spacingAndGlyphs">1</tspan><tspan x="80.29" textLength="8.42" lengthAdjust="spacingAndGlyphs">6</tspan><tspan x="89.29" textLength="8.13" lengthAdjust="spacingAndGlyphs">0</tspan></text>
<text y="377.50" font-size="14.10" ><tspan x="60.18" textLength="10.43" lengthAdjust="spacingAndGlyphs">−</tspan><tspan x="71.67" textLength="7.77" lengthAdjust="spacingAndGlyphs">1</tspan><tspan x="80.38" textLength="8.23" lengthAdjust="spacingAndGlyphs">8</tspan><tspan x="89.29" textLength="8.13" lengthAdjust="spacingAndGlyphs">0</tspan></text>
<text y="425.50" font-size="14.10" ><tspan x="60.43" textLength="10.43" lengthAdjust="spacingAndGlyphs">−</tspan><tspan x="71.76" textLength="7.86" lengthAdjust="spacingAndGlyphs">2</tspan><tspan x="80.54" textLength="8.13" lengthAdjust="spacingAndGlyphs">0</tspan><tspan x="89.29" textLength="8.13" lengthAdjust="spacingAndGlyphs">0</tspan></text>
<text y="440.72" font-size="14.10" ><tspan x="92.99" textLength="8.13" lengthAdjust="spacingAndGlyphs">0</tspan><tspan x="101.53" textLength="4.15" lengthAdjust="spacingAndGlyphs">.</tspan><tspan x="106.11" textLength="8.13" lengthAdjust="spacingAndGlyphs">0</tspan><tspan x="114.99" textLength="7.77" lengthAdjust="spacingAndGlyphs">1</tspan></text>
<text y="440.72" font-size="14.10" ><tspan x="249.73" textLength="8.13" lengthAdjust="spacingAndGlyphs">0</tspan><tspan x="258.27" textLength="4.15" lengthAdjust="spacingAndGlyphs">.</tspan><tspan x="262.98" textLength="7.77" lengthAdjust="spacingAndGlyphs">1</tspan></text>
<text y="440.72" font-size="14.10" ><tspan x="408.79" textLength="7.77" lengthAdjust="spacingAndGlyphs">1</tspan></text>
<text y="440.72" font-size="14.10" ><tspan x="556.72" textLength="7.77" lengthAdjust="spacingAndGlyphs">1</tspan><tspan x="565.47" textLength="8.13" lengthAdjust="spacingAndGlyphs">0</tspan></text>
<text y="440.72" font-size="14.10" ><tspan x="704.71" textLength="7.77" lengthAdjust="spacingAndGlyphs">1</tspan><tspan x="713.46" textLength="8.13" lengthAdjust="spacingAndGlyphs">0</tspan><tspan x="722.21" textLength="8.13" lengthAdjust="spacingAndGlyphs">0</tspan></text>
<text y="459.78" font-size="14.10" ><tspan x="399.41" textLength="8.19" lengthAdjust="spacingAndGlyphs">P</tspan><tspan x="407.07" textLength="8.34" lengthAdjust="spacingAndGlyphs">e</tspan><tspan x="415.51" textLength="5.91" lengthAdjust="spacingAndGlyphs">r</tspan><tspan x="421.54" textLength="3.14" lengthAdjust="spacingAndGlyphs">i</tspan><tspan x="425.21" textLength="8.21" lengthAdjust="spacingAndGlyphs">o</tspan><tspan x="433.69" textLength="8.40" lengthAdjust="spacingAndGlyphs">d</tspan><tspan x="446.98" textLength="4.01" lengthAdjust="spacingAndGlyphs">[</tspan><tspan x="452.69" textLength="6.65" lengthAdjust="spacingAndGlyphs">s</tspan><tspan x="460.67" textLength="4.01" lengthAdjust="spacingAndGlyphs">]</tspan></text>
<text y="425.50" font-size="14.10" ><tspan x="824.56" textLength="8.13" lengthAdjust="spacingAndGlyphs">0</tspan></text>
<text y="365.50" font-size="14.10" ><tspan x="824.73" textLength="7.67" lengthAdjust="spacingAndGlyphs">5</tspan></text>
<text y="305.50" font-size="14.10" ><tspan x="824.68" textLength="7.77" lengthAdjust="spacingAndGlyphs">1</tspan><tspan x="833.44" textLength="8.13" lengthAdjust="spacingAndGlyphs">0</tspan></text>
<text y="245.50" font-size="14.10" ><tspan x="824.68" textLength="7.77" lengthAdjust="spacingAndGlyphs">1</tspan><tspan x="833.61" textLength="7.67" lengthAdjust="spacingAndGlyphs">5</tspan></text>
<text y="185.50" font-size="14.10" ><tspan x="824.53" textLength="7.86" lengthAdjust="spacingAndGlyphs">2</tspan><tspan x="833.31" textLength="8.13" lengthAdjust="spacingAndGlyphs">0</tspan></text>
<text y="125.50" font-size="14.10" ><tspan x="824.53" textLength="7.86" lengthAdjust="spacingAndGlyphs">2</tspan><tspan x="833.48" textLength="7.67" lengthAdjust="spacingAndGlyphs">5</tspan></text>
<text y="65.50" font-size="14.10" ><tspan x="824.74" textLength="7.82" lengthAdjust="spacingAndGlyphs">3</tspan><tspan x="833.31" textLength="8.13" lengthAdjust="spacingAndGlyphs">0</tspan></text>
<g transform="translate(858.90,255.06) rotate(-90)" ><text transform="translate(0.17,0.00) scale(1.0223,1)" font-size="14.10">[</text><text transform="translate(5.76,0.00) scale(1.0081,1)" font-size="14.10">%</text><text transform="translate(19.86,0.00) scale(1.0223,1)" font-size="14.10">]</text></g>
<g transform="translate(46.50,331.41) rotate(-90)"><text transform="translate(0.09,0.00) scale(0.9900,1)" font-size="14.10">A</text><text transform="translate(9.69,0.00) scale(1.1201,1)" font-size="14.10">m</text><text transform="translate(23.29,0.00) scale(1.0690,1)" font-size="14.10">p</text><text transform="translate(32.17,0.00) scale(1.0000,1)" font-size="14.10">l</text><text transform="translate(36.03,0.00) scale(1.0000,1)" font-size="14.10">i</text><text transform="translate(39.62,0.00) scale(1.3174,1)" font-size="14.10">t</text><text transform="translate(45.18,0.00) scale(1.0573,1)" font-size="14.10">u</text><text transform="translate(53.89,0.00) scale(1.0690,1)" font-size="14.10">d</text><text transform="translate(62.70,0.00) scale(1.0613,1)" font-size="14.10">e</text><text transform="translate(75.68,0.00) scale(1.0223,1)" font-size="14.10">[</text><text transform="translate(81.15,0.00) scale(1.1106,1)" font-size="14.10" font-style="italic">m</text><text transform="translate(95.31,-5.36) scale(1.0000,1)" font-size="9.87">2</text><text transform="translate(101.66,0.00) scale(1.1912,1)" font-size="14.10">/</text><text transform="translate(106.46,0.00) scale(1.0070,1)" font-size="14.10" font-style="italic">s</text><text transform="translate(114.45,-5.36) scale(1.0409,1)" font-size="9.87">4</text><text transform="translate(120.77,0.00) scale(1.1912,1)" font-size="14.10">/</text><text transform="translate(125.14,0.00) scale(0.9904,1)" font-size="14.10" font-style="italic">H</text><text transform="translate(135.69,0.00) scale(1.0901,1)" font-size="14.10" font-style="italic">z</text><text transform="translate(144.15,0.00) scale(1.0223,1)" font-size="14.10">]</text><text transform="translate(152.90,0.00) scale(1.0223,1)" font-size="14.10">[</text><text transform="translate(158.28,0.00) scale(1.0690,1)" font-size="14.10">d</text><text transform="translate(167.21,0.00) scale(0.9543,1)" font-size="14.10">B</text><text transform="translate(177.71,0.00) scale(1.0223,1)" font-size="14.10">]</text></g>
<g transform="translate(160.85,517.99) rotate(-30)" ><text transform="translate(-34.77,0.00) scale(1.0000,1)" font-size="14.10">2</text><text transform="translate(-25.99,0.00) scale(1.0347,1)" font-size="14.10">0</text><text transform="translate(-17.27,0.00) scale(1.0000,1)" font-size="14.10">2</text><text transform="translate(-8.49,0.00) scale(1.0347,1)" font-size="14.10">0</text></g>
<g transform="translate(257.85,517.99) rotate(-30)" ><text transform="translate(-34.77,0.00) scale(1.0000,1)" font-size="14.10">2</text><text transform="translate(-25.99,0.00) scale(1.0347,1)" font-size="14.10">0</text><text transform="translate(-17.27,0.00) scale(1.0000,1)" font-size="14.10">2</text><text transform="translate(-8.36,0.00) scale(0.9897,1)" font-size="14.10">1</text></g>
<g transform="translate(355.85,517.99) rotate(-30)" ><text transform="translate(-34.77,0.00) scale(1.0000,1)" font-size="14.10">2</text><text transform="translate(-25.99,0.00) scale(1.0347,1)" font-size="14.10">0</text><text transform="translate(-17.27,0.00) scale(1.0000,1)" font-size="14.10">2</text><text transform="translate(-8.52,0.00) scale(1.0000,1)" font-size="14.10">2</text></g>
<g transform="translate(452.85,517.99) rotate(-30)" ><text transform="translate(-34.77,0.00) scale(1.0000,1)" font-size="14.10">2</text><text transform="translate(-25.99,0.00) scale(1.0347,1)" font-size="14.10">0</text><text transform="translate(-17.27,0.00) scale(1.0000,1)" font-size="14.10">2</text><text transform="translate(-8.31,0.00) scale(0.9953,1)" font-size="14.10">3</text></g>
<g transform="translate(549.85,517.99) rotate(-30)" ><text transform="translate(-34.77,0.00) scale(1.0000,1)" font-size="14.10">2</text><text transform="translate(-25.99,0.00) scale(1.0347,1)" font-size="14.10">0</text><text transform="translate(-17.27,0.00) scale(1.0000,1)" font-size="14.10">2</text><text transform="translate(-8.48,0.00) scale(1.0352,1)" font-size="14.10">4</text></g>
<g transform="translate(647.85,517.99) rotate(-30)" ><text transform="translate(-34.77,0.00) scale(1.0000,1)" font-size="14.10">2</text><text transform="translate(-25.99,0.00) scale(1.0347,1)" font-size="14.10">0</text><text transform="translate(-17.27,0.00) scale(1.0000,1)" font-size="14.10">2</text><text transform="translate(-8.31,0.00) scale(0.9766,1)" font-size="14.10">5</text></g>
<g transform="translate(744.85,517.99) rotate(-30)" ><text transform="translate(-34.77,0.00) scale(1.0000,1)" font-size="14.10">2</text><text transform="translate(-25.99,0.00) scale(1.0347,1)" font-size="14.10">0</text><text transform="translate(-17.27,0.00) scale(1.0000,1)" font-size="14.10">2</text><text transform="translate(-8.61,0.00) scale(1.0719,1)" font-size="14.10">6</text></g>
<!-- colorbar -->
<rect x="798" y="61" width="17" height="359" fill="url(#cbg)"/>
<g fill="#000" shape-rendering="crispEdges">
<rect x="816" y="420" width="5" height="1"/>
<rect x="816" y="360" width="5" height="1"/>
<rect x="816" y="300" width="5" height="1"/>
<rect x="816" y="240" width="5" height="1"/>
<rect x="816" y="180" width="5" height="1"/>
<rect x="816" y="120" width="5" height="1"/>
<rect x="816" y="60" width="5" height="1"/>
<rect x="797" y="60" width="19" height="1"/>
<rect x="797" y="420" width="19" height="1"/>
<rect x="797" y="60" width="1" height="361"/>
<rect x="815" y="60" width="1" height="361"/>
</g>
<!-- timeline -->
<g shape-rendering="crispEdges">
<rect x="164" y="474" width="57" height="10" fill="#008000"/>
<rect x="223" y="474" width="17" height="10" fill="#008000"/>
<rect x="245" y="474" width="16" height="10" fill="#008000"/>
<rect x="263" y="474" width="36" height="10" fill="#008000"/>
<rect x="300" y="474" width="35" height="10" fill="#008000"/>
<rect x="336" y="474" width="2" height="10" fill="#008000"/>
<rect x="339" y="474" width="2" height="10" fill="#008000"/>
<rect x="342" y="474" width="18" height="10" fill="#008000"/>
<rect x="362" y="474" width="18" height="10" fill="#008000"/>
<rect x="381" y="474" width="11" height="10" fill="#008000"/>
<rect x="394" y="474" width="6" height="10" fill="#008000"/>
<rect x="401" y="474" width="53" height="10" fill="#008000"/>
<rect x="568" y="474" width="40" height="10" fill="#008000"/>
<rect x="609" y="474" width="110" height="10" fill="#008000"/>
<rect x="722" y="474" width="14" height="10" fill="#008000"/>
<rect x="164" y="484" width="31" height="14" fill="#0000ff"/>
<rect x="196" y="484" width="3" height="14" fill="#0000ff"/>
<rect x="200" y="484" width="3" height="14" fill="#0000ff"/>
<rect x="204" y="484" width="17" height="14" fill="#0000ff"/>
<rect x="223" y="484" width="17" height="14" fill="#0000ff"/>
<rect x="245" y="484" width="16" height="14" fill="#0000ff"/>
<rect x="263" y="484" width="36" height="14" fill="#0000ff"/>
<rect x="300" y="484" width="35" height="14" fill="#0000ff"/>
<rect x="336" y="484" width="2" height="14" fill="#0000ff"/>
<rect x="339" y="484" width="2" height="14" fill="#0000ff"/>
<rect x="342" y="484" width="18" height="14" fill="#0000ff"/>
<rect x="362" y="484" width="5" height="14" fill="#0000ff"/>
<rect x="369" y="484" width="3" height="14" fill="#0000ff"/>
<rect x="373" y="484" width="3" height="14" fill="#0000ff"/>
<rect x="377" y="484" width="3" height="14" fill="#0000ff"/>
<rect x="381" y="484" width="11" height="14" fill="#0000ff"/>
<rect x="394" y="484" width="6" height="14" fill="#0000ff"/>
<rect x="401" y="484" width="53" height="14" fill="#0000ff"/>
<rect x="568" y="484" width="40" height="14" fill="#0000ff"/>
<rect x="609" y="484" width="109" height="14" fill="#0000ff"/>
<rect x="722" y="484" width="4" height="14" fill="#0000ff"/>
<rect x="727" y="484" width="9" height="14" fill="#0000ff"/>
<g fill="#000"><rect x="135" y="474" width="631" height="1"/><rect x="135" y="498" width="631" height="1"/><rect x="135" y="474" width="1" height="25"/><rect x="765" y="474" width="1" height="25"/></g>
<rect x="162" y="499" width="1" height="5" fill="#000"/>
<rect x="259" y="499" width="1" height="5" fill="#000"/>
<rect x="357" y="499" width="1" height="5" fill="#000"/>
<rect x="454" y="499" width="1" height="5" fill="#000"/>
<rect x="551" y="499" width="1" height="5" fill="#000"/>
<rect x="649" y="499" width="1" height="5" fill="#000"/>
<rect x="746" y="499" width="1" height="5" fill="#000"/>
</g>
<!-- footer -->
<rect x="0" y="577" width="900" height="23" fill="#808080"/>
<text y="594.70" font-size="14.10" style="fill:#ffffff"><tspan x="9.09" textLength="10.52" lengthAdjust="spacingAndGlyphs">G</tspan><tspan x="19.89" textLength="8.34" lengthAdjust="spacingAndGlyphs">e</tspan><tspan x="28.51" textLength="8.31" lengthAdjust="spacingAndGlyphs">n</tspan><tspan x="37.14" textLength="8.34" lengthAdjust="spacingAndGlyphs">e</tspan><tspan x="45.57" textLength="5.91" lengthAdjust="spacingAndGlyphs">r</tspan><tspan x="51.55" textLength="6.94" lengthAdjust="spacingAndGlyphs">a</tspan><tspan x="59.97" textLength="5.17" lengthAdjust="spacingAndGlyphs">t</tspan><tspan x="65.51" textLength="8.34" lengthAdjust="spacingAndGlyphs">e</tspan><tspan x="74.01" textLength="8.40" lengthAdjust="spacingAndGlyphs">d</tspan><tspan x="87.41" textLength="8.40" lengthAdjust="spacingAndGlyphs">b</tspan><tspan x="96.37" textLength="7.44" lengthAdjust="spacingAndGlyphs">y</tspan><tspan x="108.97" textLength="8.24" lengthAdjust="spacingAndGlyphs">S</tspan><tspan x="117.51" textLength="8.34" lengthAdjust="spacingAndGlyphs">e</tspan><tspan x="126.01" textLength="8.34" lengthAdjust="spacingAndGlyphs">e</tspan><tspan x="134.51" textLength="8.40" lengthAdjust="spacingAndGlyphs">d</tspan><tspan x="143.60" textLength="8.19" lengthAdjust="spacingAndGlyphs">P</tspan><tspan x="151.97" textLength="8.24" lengthAdjust="spacingAndGlyphs">S</tspan><tspan x="160.56" textLength="10.37" lengthAdjust="spacingAndGlyphs">D</tspan><tspan x="175.65" textLength="8.21" lengthAdjust="spacingAndGlyphs">o</tspan><tspan x="184.26" textLength="8.31" lengthAdjust="spacingAndGlyphs">n</tspan><tspan x="197.44" textLength="7.86" lengthAdjust="spacingAndGlyphs">2</tspan><tspan x="206.22" textLength="8.13" lengthAdjust="spacingAndGlyphs">0</tspan><tspan x="214.94" textLength="7.86" lengthAdjust="spacingAndGlyphs">2</tspan><tspan x="223.89" textLength="7.67" lengthAdjust="spacingAndGlyphs">5</tspan><tspan x="232.13" textLength="4.98" lengthAdjust="spacingAndGlyphs">-</tspan><tspan x="237.46" textLength="7.77" lengthAdjust="spacingAndGlyphs">1</tspan><tspan x="246.34" textLength="7.77" lengthAdjust="spacingAndGlyphs">1</tspan><tspan x="254.76" textLength="4.98" lengthAdjust="spacingAndGlyphs">-</tspan><tspan x="259.94" textLength="7.86" lengthAdjust="spacingAndGlyphs">2</tspan><tspan x="268.59" textLength="8.42" lengthAdjust="spacingAndGlyphs">6</tspan><tspan x="282.12" textLength="3.67" lengthAdjust="spacingAndGlyphs">|</tspan><tspan x="290.75" textLength="9.31" lengthAdjust="spacingAndGlyphs">C</tspan><tspan x="300.68" textLength="6.94" lengthAdjust="spacingAndGlyphs">a</tspan><tspan x="309.36" textLength="3.14" lengthAdjust="spacingAndGlyphs">l</tspan><tspan x="313.05" textLength="6.97" lengthAdjust="spacingAndGlyphs">c</tspan><tspan x="320.71" textLength="8.31" lengthAdjust="spacingAndGlyphs">u</tspan><tspan x="329.61" textLength="3.14" lengthAdjust="spacingAndGlyphs">l</tspan><tspan x="333.43" textLength="6.94" lengthAdjust="spacingAndGlyphs">a</tspan><tspan x="341.84" textLength="5.17" lengthAdjust="spacingAndGlyphs">t</tspan><tspan x="347.61" textLength="3.14" lengthAdjust="spacingAndGlyphs">i</tspan><tspan x="351.27" textLength="8.21" lengthAdjust="spacingAndGlyphs">o</tspan><tspan x="359.88" textLength="8.31" lengthAdjust="spacingAndGlyphs">n</tspan><tspan x="368.76" textLength="6.65" lengthAdjust="spacingAndGlyphs">s</tspan><tspan x="380.09" textLength="8.31" lengthAdjust="spacingAndGlyphs">u</tspan><tspan x="388.91" textLength="8.40" lengthAdjust="spacingAndGlyphs">p</tspan><tspan x="397.63" textLength="8.40" lengthAdjust="spacingAndGlyphs">d</tspan><tspan x="406.68" textLength="6.94" lengthAdjust="spacingAndGlyphs">a</tspan><tspan x="415.09" textLength="5.17" lengthAdjust="spacingAndGlyphs">t</tspan><tspan x="420.64" textLength="8.34" lengthAdjust="spacingAndGlyphs">e</tspan><tspan x="429.13" textLength="8.40" lengthAdjust="spacingAndGlyphs">d</tspan><tspan x="442.40" textLength="8.21" lengthAdjust="spacingAndGlyphs">o</tspan><tspan x="451.01" textLength="8.31" lengthAdjust="spacingAndGlyphs">n</tspan><tspan x="464.19" textLength="7.86" lengthAdjust="spacingAndGlyphs">2</tspan><tspan x="472.97" textLength="8.13" lengthAdjust="spacingAndGlyphs">0</tspan><tspan x="481.69" textLength="7.86" lengthAdjust="spacingAndGlyphs">2</tspan><tspan x="490.64" textLength="7.67" lengthAdjust="spacingAndGlyphs">5</tspan><tspan x="498.88" textLength="4.98" lengthAdjust="spacingAndGlyphs">-</tspan><tspan x="504.21" textLength="7.77" lengthAdjust="spacingAndGlyphs">1</tspan><tspan x="513.09" textLength="7.77" lengthAdjust="spacingAndGlyphs">1</tspan><tspan x="521.51" textLength="4.98" lengthAdjust="spacingAndGlyphs">-</tspan><tspan x="526.69" textLength="7.86" lengthAdjust="spacingAndGlyphs">2</tspan><tspan x="535.64" textLength="7.67" lengthAdjust="spacingAndGlyphs">5</tspan></text>
</svg>
</body></html>
